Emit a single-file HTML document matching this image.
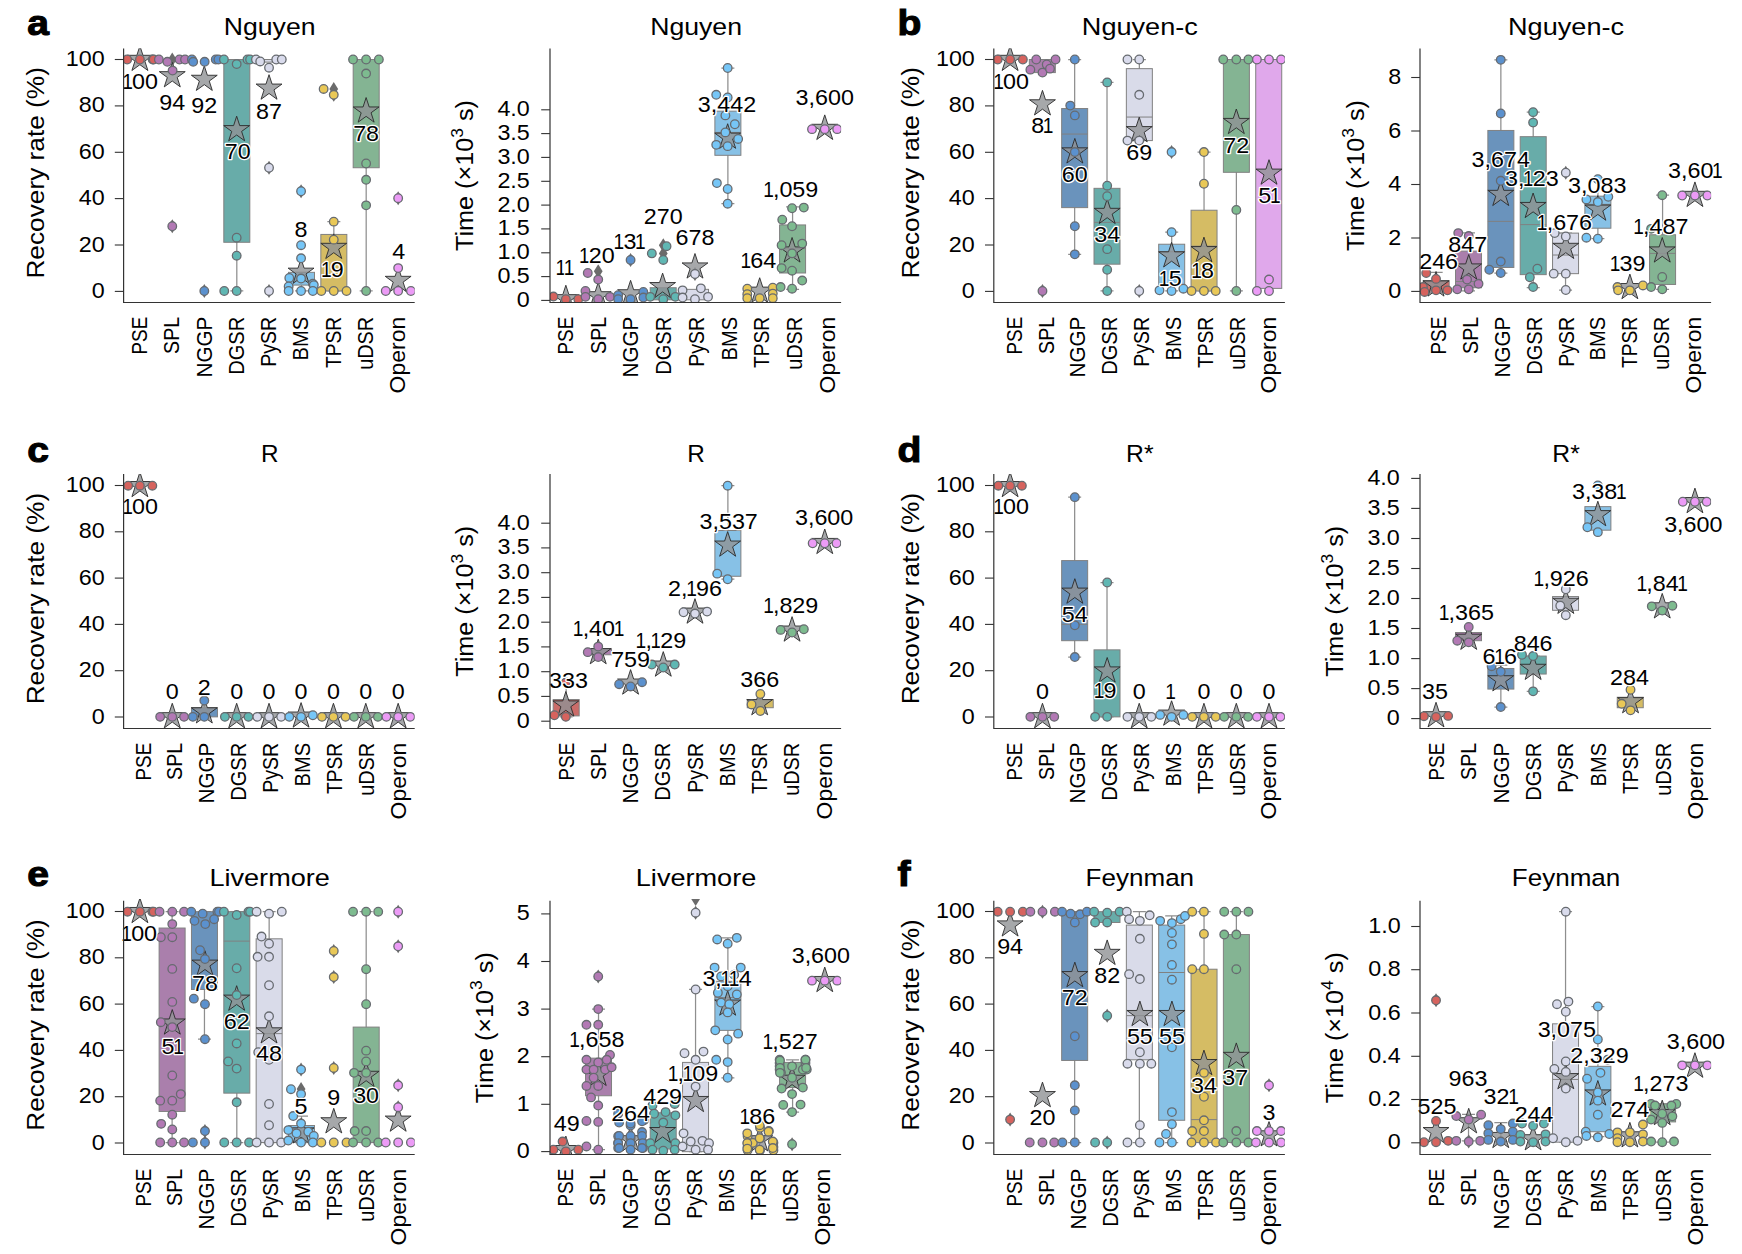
<!DOCTYPE html>
<html lang="en"><head><meta charset="utf-8"><title>Figure</title>
<style>html,body{margin:0;padding:0;background:#fff}svg{display:block}</style></head>
<body>
<svg width="1742" height="1254" viewBox="0 0 1742 1254" font-family='"Liberation Sans", Arial, sans-serif' fill="#000">
<g id="p_a">
<clipPath id="cl_a"><rect x="123.60" y="48.20" width="291.10" height="254.30"/></clipPath>
<g clip-path="url(#cl_a)">
<path d="M139.91,45.91L142.96,55.30L152.85,55.30L144.85,61.11L147.90,70.51L139.91,64.70L131.92,70.51L134.97,61.11L126.98,55.30L136.86,55.30Z" fill="#909295" fill-opacity="0.8" stroke="#2a2a2a" stroke-width="0.9" stroke-linejoin="miter"/>
<circle cx="127.16" cy="59.51" r="4.3" fill="#D6635E" stroke="#676b70" stroke-width="1.3"/>
<circle cx="152.66" cy="59.51" r="4.3" fill="#D6635E" stroke="#676b70" stroke-width="1.3"/>
<circle cx="153.64" cy="59.51" r="4.3" fill="#D6635E" stroke="#676b70" stroke-width="1.3"/>
<circle cx="139.91" cy="59.51" r="4.3" fill="#D6635E" stroke="#676b70" stroke-width="1.3"/>
<path d="M172.27,219.25l4.4,7l-4.4,7l-4.4,-7z" fill="#6b6b6b"/>
<path d="M172.27,52.51l4.4,7l-4.4,7l-4.4,-7z" fill="#6b6b6b"/>
<path d="M172.27,62.25L175.33,71.65L185.21,71.65L177.21,77.46L180.27,86.86L172.27,81.05L164.28,86.86L167.33,77.46L159.34,71.65L169.22,71.65Z" fill="#909295" fill-opacity="0.8" stroke="#2a2a2a" stroke-width="0.9" stroke-linejoin="miter"/>
<circle cx="158.87" cy="59.51" r="4.3" fill="#B279B4" stroke="#676b70" stroke-width="1.3"/>
<circle cx="167.37" cy="61.79" r="4.3" fill="#B279B4" stroke="#676b70" stroke-width="1.3"/>
<circle cx="172.60" cy="70.62" r="4.3" fill="#B279B4" stroke="#676b70" stroke-width="1.3"/>
<circle cx="179.47" cy="59.51" r="4.3" fill="#B279B4" stroke="#676b70" stroke-width="1.3"/>
<circle cx="185.02" cy="59.51" r="4.3" fill="#B279B4" stroke="#676b70" stroke-width="1.3"/>
<circle cx="172.27" cy="226.25" r="4.3" fill="#B279B4" stroke="#676b70" stroke-width="1.3"/>
<path d="M204.31,283.99l4.4,7l-4.4,7l-4.4,-7z" fill="#6b6b6b"/>
<path d="M204.31,65.85L207.36,75.25L217.24,75.25L209.25,81.06L212.30,90.45L204.31,84.64L196.32,90.45L199.37,81.06L191.37,75.25L201.26,75.25Z" fill="#909295" fill-opacity="0.8" stroke="#2a2a2a" stroke-width="0.9" stroke-linejoin="miter"/>
<circle cx="191.89" cy="59.51" r="4.3" fill="#5B91CE" stroke="#676b70" stroke-width="1.3"/>
<circle cx="193.19" cy="61.79" r="4.3" fill="#5B91CE" stroke="#676b70" stroke-width="1.3"/>
<circle cx="204.64" cy="61.79" r="4.3" fill="#5B91CE" stroke="#676b70" stroke-width="1.3"/>
<circle cx="215.75" cy="59.51" r="4.3" fill="#5B91CE" stroke="#676b70" stroke-width="1.3"/>
<circle cx="218.37" cy="59.51" r="4.3" fill="#5B91CE" stroke="#676b70" stroke-width="1.3"/>
<circle cx="204.31" cy="290.99" r="4.3" fill="#5B91CE" stroke="#676b70" stroke-width="1.3"/>
<path d="M236.81,59.51V290.99M230.31,59.51h13M230.31,290.99h13" stroke="#8e8e8e" stroke-width="1.25" fill="none"/>
<rect x="223.81" y="59.51" width="26.00" height="182.77" fill="#68ACA9" stroke="#808080" stroke-width="1"/>
<path d="M236.67,116.20L239.73,125.60L249.61,125.60L241.61,131.41L244.67,140.80L236.67,135.00L228.68,140.80L231.73,131.41L223.74,125.60L233.62,125.60Z" fill="#909295" fill-opacity="0.8" stroke="#2a2a2a" stroke-width="0.9" stroke-linejoin="miter"/>
<circle cx="223.92" cy="59.51" r="4.3" fill="#60B7B3" stroke="#676b70" stroke-width="1.3"/>
<circle cx="236.67" cy="64.08" r="4.3" fill="#60B7B3" stroke="#676b70" stroke-width="1.3"/>
<circle cx="247.46" cy="59.51" r="4.3" fill="#60B7B3" stroke="#676b70" stroke-width="1.3"/>
<circle cx="250.07" cy="59.51" r="4.3" fill="#60B7B3" stroke="#676b70" stroke-width="1.3"/>
<circle cx="236.67" cy="237.70" r="4.3" fill="#60B7B3" stroke="#676b70" stroke-width="1.3"/>
<circle cx="236.67" cy="255.68" r="4.3" fill="#60B7B3" stroke="#676b70" stroke-width="1.3"/>
<circle cx="224.25" cy="290.99" r="4.3" fill="#60B7B3" stroke="#676b70" stroke-width="1.3"/>
<circle cx="236.67" cy="290.99" r="4.3" fill="#60B7B3" stroke="#676b70" stroke-width="1.3"/>
<rect x="256.15" y="59.51" width="26.00" height="2.62" fill="#D9DBE9" stroke="#808080" stroke-width="1"/>
<path d="M269.03,160.73l4.4,7l-4.4,7l-4.4,-7z" fill="#6b6b6b"/>
<path d="M269.03,283.99l4.4,7l-4.4,7l-4.4,-7z" fill="#6b6b6b"/>
<path d="M269.03,74.68L272.09,84.07L281.97,84.07L273.97,89.88L277.03,99.28L269.03,93.47L261.04,99.28L264.09,89.88L256.10,84.07L265.98,84.07Z" fill="#909295" fill-opacity="0.8" stroke="#2a2a2a" stroke-width="0.9" stroke-linejoin="miter"/>
<circle cx="255.96" cy="59.51" r="4.3" fill="#D9DBEC" stroke="#676b70" stroke-width="1.3"/>
<circle cx="260.21" cy="61.47" r="4.3" fill="#D9DBEC" stroke="#676b70" stroke-width="1.3"/>
<circle cx="269.03" cy="67.68" r="4.3" fill="#D9DBEC" stroke="#676b70" stroke-width="1.3"/>
<circle cx="276.23" cy="59.51" r="4.3" fill="#D9DBEC" stroke="#676b70" stroke-width="1.3"/>
<circle cx="281.78" cy="59.51" r="4.3" fill="#D9DBEC" stroke="#676b70" stroke-width="1.3"/>
<circle cx="269.03" cy="167.73" r="4.3" fill="#D9DBEC" stroke="#676b70" stroke-width="1.3"/>
<circle cx="269.03" cy="290.99" r="4.3" fill="#D9DBEC" stroke="#676b70" stroke-width="1.3"/>
<path d="M301.49,272.35V290.99M294.99,272.35h13M294.99,290.99h13" stroke="#8e8e8e" stroke-width="1.25" fill="none"/>
<rect x="288.49" y="272.35" width="26.00" height="12.75" fill="#87C1E6" stroke="#808080" stroke-width="1"/>
<path d="M301.07,184.27l4.4,7l-4.4,7l-4.4,-7z" fill="#6b6b6b"/>
<path d="M301.07,258.75L304.12,268.15L314.00,268.15L306.01,273.96L309.06,283.36L301.07,277.55L293.08,283.36L296.13,273.96L288.14,268.15L298.02,268.15Z" fill="#909295" fill-opacity="0.8" stroke="#2a2a2a" stroke-width="0.9" stroke-linejoin="miter"/>
<circle cx="301.07" cy="191.27" r="4.3" fill="#76C6F7" stroke="#676b70" stroke-width="1.3"/>
<circle cx="301.07" cy="245.22" r="4.3" fill="#76C6F7" stroke="#676b70" stroke-width="1.3"/>
<circle cx="301.07" cy="258.29" r="4.3" fill="#76C6F7" stroke="#676b70" stroke-width="1.3"/>
<circle cx="289.30" cy="277.91" r="4.3" fill="#76C6F7" stroke="#676b70" stroke-width="1.3"/>
<circle cx="301.07" cy="278.56" r="4.3" fill="#76C6F7" stroke="#676b70" stroke-width="1.3"/>
<circle cx="312.84" cy="283.80" r="4.3" fill="#76C6F7" stroke="#676b70" stroke-width="1.3"/>
<circle cx="288.65" cy="286.41" r="4.3" fill="#76C6F7" stroke="#676b70" stroke-width="1.3"/>
<circle cx="313.82" cy="285.10" r="4.3" fill="#76C6F7" stroke="#676b70" stroke-width="1.3"/>
<circle cx="288.65" cy="290.99" r="4.3" fill="#76C6F7" stroke="#676b70" stroke-width="1.3"/>
<circle cx="301.07" cy="290.99" r="4.3" fill="#76C6F7" stroke="#676b70" stroke-width="1.3"/>
<circle cx="312.84" cy="290.99" r="4.3" fill="#76C6F7" stroke="#676b70" stroke-width="1.3"/>
<path d="M333.84,221.67V290.99M327.34,221.67h13M327.34,290.99h13" stroke="#8e8e8e" stroke-width="1.25" fill="none"/>
<rect x="320.84" y="234.43" width="26.00" height="56.56" fill="#D5BC64" stroke="#808080" stroke-width="1"/>
<path d="M333.76,81.93l4.4,7l-4.4,7l-4.4,-7z" fill="#6b6b6b"/>
<path d="M333.76,87.82l4.4,7l-4.4,7l-4.4,-7z" fill="#6b6b6b"/>
<path d="M333.76,233.90L336.81,243.30L346.69,243.30L338.70,249.11L341.75,258.51L333.76,252.70L325.77,258.51L328.82,249.11L320.82,243.30L330.71,243.30Z" fill="#909295" fill-opacity="0.8" stroke="#2a2a2a" stroke-width="0.9" stroke-linejoin="miter"/>
<circle cx="323.63" cy="88.93" r="4.3" fill="#E9C857" stroke="#676b70" stroke-width="1.3"/>
<circle cx="333.76" cy="94.82" r="4.3" fill="#E9C857" stroke="#676b70" stroke-width="1.3"/>
<circle cx="333.76" cy="221.67" r="4.3" fill="#E9C857" stroke="#676b70" stroke-width="1.3"/>
<circle cx="333.76" cy="239.66" r="4.3" fill="#E9C857" stroke="#676b70" stroke-width="1.3"/>
<circle cx="321.34" cy="290.99" r="4.3" fill="#E9C857" stroke="#676b70" stroke-width="1.3"/>
<circle cx="333.76" cy="290.99" r="4.3" fill="#E9C857" stroke="#676b70" stroke-width="1.3"/>
<circle cx="346.51" cy="290.99" r="4.3" fill="#E9C857" stroke="#676b70" stroke-width="1.3"/>
<path d="M366.18,59.51V290.99M359.68,59.51h13M359.68,290.99h13" stroke="#8e8e8e" stroke-width="1.25" fill="none"/>
<rect x="353.18" y="59.51" width="26.00" height="108.22" fill="#84B493" stroke="#808080" stroke-width="1"/>
<path d="M366.12,97.56L369.18,106.96L379.06,106.96L371.06,112.77L374.12,122.17L366.12,116.36L358.13,122.17L361.18,112.77L353.19,106.96L363.07,106.96Z" fill="#909295" fill-opacity="0.8" stroke="#2a2a2a" stroke-width="0.9" stroke-linejoin="miter"/>
<circle cx="353.05" cy="59.51" r="4.3" fill="#7DBB8F" stroke="#676b70" stroke-width="1.3"/>
<circle cx="366.12" cy="59.51" r="4.3" fill="#7DBB8F" stroke="#676b70" stroke-width="1.3"/>
<circle cx="378.87" cy="59.51" r="4.3" fill="#7DBB8F" stroke="#676b70" stroke-width="1.3"/>
<circle cx="366.12" cy="73.56" r="4.3" fill="#7DBB8F" stroke="#676b70" stroke-width="1.3"/>
<circle cx="366.12" cy="163.48" r="4.3" fill="#7DBB8F" stroke="#676b70" stroke-width="1.3"/>
<circle cx="366.12" cy="179.82" r="4.3" fill="#7DBB8F" stroke="#676b70" stroke-width="1.3"/>
<circle cx="366.12" cy="205.33" r="4.3" fill="#7DBB8F" stroke="#676b70" stroke-width="1.3"/>
<circle cx="366.12" cy="290.99" r="4.3" fill="#7DBB8F" stroke="#676b70" stroke-width="1.3"/>
<path d="M398.16,191.13l4.4,7l-4.4,7l-4.4,-7z" fill="#6b6b6b"/>
<path d="M398.16,266.93L401.21,276.32L411.09,276.32L403.10,282.13L406.15,291.53L398.16,285.72L390.16,291.53L393.22,282.13L385.22,276.32L395.10,276.32Z" fill="#909295" fill-opacity="0.8" stroke="#2a2a2a" stroke-width="0.9" stroke-linejoin="miter"/>
<circle cx="398.16" cy="198.13" r="4.3" fill="#EC9BF6" stroke="#676b70" stroke-width="1.3"/>
<circle cx="398.16" cy="268.10" r="4.3" fill="#EC9BF6" stroke="#676b70" stroke-width="1.3"/>
<circle cx="385.74" cy="290.99" r="4.3" fill="#EC9BF6" stroke="#676b70" stroke-width="1.3"/>
<circle cx="398.16" cy="290.99" r="4.3" fill="#EC9BF6" stroke="#676b70" stroke-width="1.3"/>
<circle cx="410.91" cy="290.99" r="4.3" fill="#EC9BF6" stroke="#676b70" stroke-width="1.3"/>
</g>
<text transform="translate(141.55,88.54) scale(1.100,1)" font-size="21.20" text-anchor="middle" stroke="#fff" stroke-width="2.6" stroke-linejoin="round" paint-order="stroke" ><tspan dx="-1.25" letter-spacing="-0.95" textLength="8.9" lengthAdjust="spacingAndGlyphs">1</tspan>00</text>
<text transform="translate(172.27,109.79) scale(1.100,1)" font-size="21.20" text-anchor="middle" stroke="#fff" stroke-width="2.6" stroke-linejoin="round" paint-order="stroke" >94</text>
<text transform="translate(204.31,113.06) scale(1.100,1)" font-size="21.20" text-anchor="middle" stroke="#fff" stroke-width="2.6" stroke-linejoin="round" paint-order="stroke" >92</text>
<text transform="translate(237.65,159.49) scale(1.100,1)" font-size="21.20" text-anchor="middle" stroke="#fff" stroke-width="2.6" stroke-linejoin="round" paint-order="stroke" >70</text>
<text transform="translate(269.03,118.62) scale(1.100,1)" font-size="21.20" text-anchor="middle" stroke="#fff" stroke-width="2.6" stroke-linejoin="round" paint-order="stroke" >87</text>
<text transform="translate(301.07,236.65) scale(1.100,1)" font-size="21.20" text-anchor="middle" stroke="#fff" stroke-width="2.6" stroke-linejoin="round" paint-order="stroke" >8</text>
<text transform="translate(333.76,277.19) scale(1.100,1)" font-size="21.20" text-anchor="middle" stroke="#fff" stroke-width="2.6" stroke-linejoin="round" paint-order="stroke" ><tspan dx="-1.25" letter-spacing="-0.95" textLength="8.9" lengthAdjust="spacingAndGlyphs">1</tspan>9</text>
<text transform="translate(366.12,140.85) scale(1.100,1)" font-size="21.20" text-anchor="middle" stroke="#fff" stroke-width="2.6" stroke-linejoin="round" paint-order="stroke" >78</text>
<text transform="translate(398.81,258.55) scale(1.100,1)" font-size="21.20" text-anchor="middle" stroke="#fff" stroke-width="2.6" stroke-linejoin="round" paint-order="stroke" >4</text>
<path d="M123.60,48.60V302.50H414.70" stroke="#333" stroke-width="1.2" fill="none"/>
<path d="M114.80,59.50h8.8" stroke="#333" stroke-width="1.1"/>
<text transform="translate(104.60,66.00) scale(1.100,1)" font-size="21.20" text-anchor="end" >100</text>
<path d="M114.80,105.90h8.8" stroke="#333" stroke-width="1.1"/>
<text transform="translate(104.60,112.40) scale(1.100,1)" font-size="21.20" text-anchor="end" >80</text>
<path d="M114.80,152.30h8.8" stroke="#333" stroke-width="1.1"/>
<text transform="translate(104.60,158.80) scale(1.100,1)" font-size="21.20" text-anchor="end" >60</text>
<path d="M114.80,198.60h8.8" stroke="#333" stroke-width="1.1"/>
<text transform="translate(104.60,205.10) scale(1.100,1)" font-size="21.20" text-anchor="end" >40</text>
<path d="M114.80,245.00h8.8" stroke="#333" stroke-width="1.1"/>
<text transform="translate(104.60,251.50) scale(1.100,1)" font-size="21.20" text-anchor="end" >20</text>
<path d="M114.80,291.40h8.8" stroke="#333" stroke-width="1.1"/>
<text transform="translate(104.60,297.90) scale(1.100,1)" font-size="21.20" text-anchor="end" >0</text>
<text transform="translate(147.00,316.80) rotate(-90)" font-size="21.30" text-anchor="end" textLength="37.7" lengthAdjust="spacingAndGlyphs" >PSE</text>
<text transform="translate(179.29,316.80) rotate(-90)" font-size="21.30" text-anchor="end" textLength="37.1" lengthAdjust="spacingAndGlyphs" >SPL</text>
<text transform="translate(211.57,316.80) rotate(-90)" font-size="21.30" text-anchor="end" textLength="60.7" lengthAdjust="spacingAndGlyphs" >NGGP</text>
<text transform="translate(243.86,316.80) rotate(-90)" font-size="21.30" text-anchor="end" textLength="58.0" lengthAdjust="spacingAndGlyphs" >DGSR</text>
<text transform="translate(276.15,316.80) rotate(-90)" font-size="21.30" text-anchor="end" textLength="49.9" lengthAdjust="spacingAndGlyphs" >PySR</text>
<text transform="translate(308.44,316.80) rotate(-90)" font-size="21.30" text-anchor="end" textLength="43.6" lengthAdjust="spacingAndGlyphs" >BMS</text>
<text transform="translate(340.73,316.80) rotate(-90)" font-size="21.30" text-anchor="end" textLength="51.1" lengthAdjust="spacingAndGlyphs" >TPSR</text>
<text transform="translate(373.01,316.80) rotate(-90)" font-size="21.30" text-anchor="end" textLength="53.0" lengthAdjust="spacingAndGlyphs" >uDSR</text>
<text transform="translate(405.30,316.80) rotate(-90)" font-size="21.30" text-anchor="end" textLength="76.7" lengthAdjust="spacingAndGlyphs" >Operon</text>
<text transform="translate(269.65,34.70)" font-size="24.30" text-anchor="middle" textLength="91.8" lengthAdjust="spacingAndGlyphs" >Nguyen</text>
<text transform="translate(44.10,172.85) rotate(-90)" font-size="24.60" text-anchor="middle" textLength="211.5" lengthAdjust="spacingAndGlyphs" >Recovery rate (%)</text>
<text transform="translate(27.20,35.00) scale(1.100,1)" font-size="35.50" text-anchor="start" font-weight="bold" stroke="#000" stroke-width="1.1">a</text>
</g>
<g id="p_a2">
<clipPath id="cl_a2"><rect x="550.00" y="48.20" width="291.10" height="254.30"/></clipPath>
<g clip-path="url(#cl_a2)">
<path d="M565.85,285.24L568.91,294.63L578.79,294.63L570.79,300.44L573.85,309.84L565.85,304.03L557.86,309.84L560.91,300.44L552.92,294.63L562.80,294.63Z" fill="#909295" fill-opacity="0.8" stroke="#2a2a2a" stroke-width="0.9" stroke-linejoin="miter"/>
<circle cx="553.43" cy="296.55" r="4.3" fill="#D6635E" stroke="#676b70" stroke-width="1.3"/>
<circle cx="565.85" cy="299.16" r="4.3" fill="#D6635E" stroke="#676b70" stroke-width="1.3"/>
<circle cx="578.28" cy="299.16" r="4.3" fill="#D6635E" stroke="#676b70" stroke-width="1.3"/>
<path d="M598.22,264.37l4.4,7l-4.4,7l-4.4,-7z" fill="#6b6b6b"/>
<path d="M598.22,282.29L601.27,291.69L611.15,291.69L603.16,297.50L606.21,306.90L598.22,301.09L590.22,306.90L593.28,297.50L585.28,291.69L595.16,291.69Z" fill="#909295" fill-opacity="0.8" stroke="#2a2a2a" stroke-width="0.9" stroke-linejoin="miter"/>
<circle cx="587.76" cy="273.01" r="4.3" fill="#B279B4" stroke="#676b70" stroke-width="1.3"/>
<circle cx="598.22" cy="279.55" r="4.3" fill="#B279B4" stroke="#676b70" stroke-width="1.3"/>
<circle cx="585.47" cy="290.99" r="4.3" fill="#B279B4" stroke="#676b70" stroke-width="1.3"/>
<circle cx="598.22" cy="299.16" r="4.3" fill="#B279B4" stroke="#676b70" stroke-width="1.3"/>
<circle cx="609.99" cy="296.87" r="4.3" fill="#B279B4" stroke="#676b70" stroke-width="1.3"/>
<circle cx="585.47" cy="296.87" r="4.3" fill="#B279B4" stroke="#676b70" stroke-width="1.3"/>
<path d="M630.58,252.93l4.4,7l-4.4,7l-4.4,-7z" fill="#6b6b6b"/>
<path d="M630.58,280.33L633.63,289.73L643.51,289.73L635.52,295.54L638.57,304.93L630.58,299.13L622.59,304.93L625.64,295.54L617.65,289.73L627.53,289.73Z" fill="#909295" fill-opacity="0.8" stroke="#2a2a2a" stroke-width="0.9" stroke-linejoin="miter"/>
<circle cx="630.58" cy="259.93" r="4.3" fill="#5B91CE" stroke="#676b70" stroke-width="1.3"/>
<circle cx="618.16" cy="295.24" r="4.3" fill="#5B91CE" stroke="#676b70" stroke-width="1.3"/>
<circle cx="630.58" cy="299.16" r="4.3" fill="#5B91CE" stroke="#676b70" stroke-width="1.3"/>
<circle cx="643.33" cy="291.97" r="4.3" fill="#5B91CE" stroke="#676b70" stroke-width="1.3"/>
<circle cx="618.16" cy="299.16" r="4.3" fill="#5B91CE" stroke="#676b70" stroke-width="1.3"/>
<circle cx="643.33" cy="297.53" r="4.3" fill="#5B91CE" stroke="#676b70" stroke-width="1.3"/>
<rect x="650.21" y="287.72" width="26.00" height="12.10" fill="#68ACA9" stroke="#808080" stroke-width="1"/>
<path d="M663.27,238.22l4.4,7l-4.4,7l-4.4,-7z" fill="#6b6b6b"/>
<path d="M663.27,246.39l4.4,7l-4.4,7l-4.4,-7z" fill="#6b6b6b"/>
<path d="M662.62,273.14L665.67,282.54L675.55,282.54L667.56,288.34L670.61,297.74L662.62,291.93L654.62,297.74L657.67,288.34L649.68,282.54L659.56,282.54Z" fill="#909295" fill-opacity="0.8" stroke="#2a2a2a" stroke-width="0.9" stroke-linejoin="miter"/>
<circle cx="651.83" cy="253.39" r="4.3" fill="#60B7B3" stroke="#676b70" stroke-width="1.3"/>
<circle cx="666.54" cy="246.20" r="4.3" fill="#60B7B3" stroke="#676b70" stroke-width="1.3"/>
<circle cx="663.27" cy="259.93" r="4.3" fill="#60B7B3" stroke="#676b70" stroke-width="1.3"/>
<circle cx="650.19" cy="296.87" r="4.3" fill="#60B7B3" stroke="#676b70" stroke-width="1.3"/>
<circle cx="663.27" cy="299.16" r="4.3" fill="#60B7B3" stroke="#676b70" stroke-width="1.3"/>
<circle cx="675.36" cy="296.87" r="4.3" fill="#60B7B3" stroke="#676b70" stroke-width="1.3"/>
<rect x="682.55" y="289.35" width="26.00" height="10.46" fill="#D9DBE9" stroke="#808080" stroke-width="1"/>
<path d="M694.98,266.99l4.4,7l-4.4,7l-4.4,-7z" fill="#6b6b6b"/>
<path d="M694.98,253.52L698.03,262.92L707.91,262.92L699.92,268.73L702.97,278.12L694.98,272.32L686.98,278.12L690.04,268.73L682.04,262.92L691.92,262.92Z" fill="#909295" fill-opacity="0.8" stroke="#2a2a2a" stroke-width="0.9" stroke-linejoin="miter"/>
<circle cx="682.56" cy="290.33" r="4.3" fill="#D9DBEC" stroke="#676b70" stroke-width="1.3"/>
<circle cx="700.86" cy="288.37" r="4.3" fill="#D9DBEC" stroke="#676b70" stroke-width="1.3"/>
<circle cx="694.98" cy="273.99" r="4.3" fill="#D9DBEC" stroke="#676b70" stroke-width="1.3"/>
<circle cx="682.56" cy="297.53" r="4.3" fill="#D9DBEC" stroke="#676b70" stroke-width="1.3"/>
<circle cx="694.98" cy="299.16" r="4.3" fill="#D9DBEC" stroke="#676b70" stroke-width="1.3"/>
<circle cx="708.05" cy="296.87" r="4.3" fill="#D9DBEC" stroke="#676b70" stroke-width="1.3"/>
<path d="M727.89,68.01V203.69M721.39,68.01h13M721.39,203.69h13" stroke="#8e8e8e" stroke-width="1.25" fill="none"/>
<rect x="714.89" y="111.16" width="26.00" height="44.14" fill="#87C1E6" stroke="#808080" stroke-width="1"/>
<path d="M714.89,132.42h26" stroke="#808080" stroke-width="1"/>
<path d="M727.67,123.72L730.72,133.12L740.60,133.12L732.61,138.93L735.66,148.32L727.67,142.52L719.67,148.32L722.73,138.93L714.73,133.12L724.61,133.12Z" fill="#909295" fill-opacity="0.8" stroke="#2a2a2a" stroke-width="0.9" stroke-linejoin="miter"/>
<circle cx="727.67" cy="68.01" r="4.3" fill="#76C6F7" stroke="#676b70" stroke-width="1.3"/>
<circle cx="716.23" cy="94.82" r="4.3" fill="#76C6F7" stroke="#676b70" stroke-width="1.3"/>
<circle cx="727.67" cy="97.43" r="4.3" fill="#76C6F7" stroke="#676b70" stroke-width="1.3"/>
<circle cx="725.38" cy="115.41" r="4.3" fill="#76C6F7" stroke="#676b70" stroke-width="1.3"/>
<circle cx="734.86" cy="124.24" r="4.3" fill="#76C6F7" stroke="#676b70" stroke-width="1.3"/>
<circle cx="725.38" cy="132.42" r="4.3" fill="#76C6F7" stroke="#676b70" stroke-width="1.3"/>
<circle cx="716.23" cy="144.84" r="4.3" fill="#76C6F7" stroke="#676b70" stroke-width="1.3"/>
<circle cx="727.67" cy="146.15" r="4.3" fill="#76C6F7" stroke="#676b70" stroke-width="1.3"/>
<circle cx="738.13" cy="138.96" r="4.3" fill="#76C6F7" stroke="#676b70" stroke-width="1.3"/>
<circle cx="716.88" cy="183.09" r="4.3" fill="#76C6F7" stroke="#676b70" stroke-width="1.3"/>
<circle cx="727.67" cy="188.98" r="4.3" fill="#76C6F7" stroke="#676b70" stroke-width="1.3"/>
<circle cx="727.67" cy="203.69" r="4.3" fill="#76C6F7" stroke="#676b70" stroke-width="1.3"/>
<path d="M759.70,277.72L762.76,287.11L772.64,287.11L764.64,292.92L767.70,302.32L759.70,296.51L751.71,302.32L754.76,292.92L746.77,287.11L756.65,287.11Z" fill="#909295" fill-opacity="0.8" stroke="#2a2a2a" stroke-width="0.9" stroke-linejoin="miter"/>
<circle cx="747.28" cy="288.70" r="4.3" fill="#E9C857" stroke="#676b70" stroke-width="1.3"/>
<circle cx="772.78" cy="287.72" r="4.3" fill="#E9C857" stroke="#676b70" stroke-width="1.3"/>
<circle cx="747.28" cy="294.26" r="4.3" fill="#E9C857" stroke="#676b70" stroke-width="1.3"/>
<circle cx="772.78" cy="293.60" r="4.3" fill="#E9C857" stroke="#676b70" stroke-width="1.3"/>
<circle cx="747.28" cy="298.18" r="4.3" fill="#E9C857" stroke="#676b70" stroke-width="1.3"/>
<circle cx="759.70" cy="298.18" r="4.3" fill="#E9C857" stroke="#676b70" stroke-width="1.3"/>
<circle cx="772.78" cy="298.18" r="4.3" fill="#E9C857" stroke="#676b70" stroke-width="1.3"/>
<path d="M792.58,206.96V289.35M786.08,206.96h13M786.08,289.35h13" stroke="#8e8e8e" stroke-width="1.25" fill="none"/>
<rect x="779.58" y="224.94" width="26.00" height="48.06" fill="#84B493" stroke="#808080" stroke-width="1"/>
<path d="M779.58,248.48h26" stroke="#808080" stroke-width="1"/>
<path d="M792.07,237.50L795.12,246.90L805.00,246.90L797.01,252.71L800.06,262.10L792.07,256.30L784.07,262.10L787.12,252.71L779.13,246.90L789.01,246.90Z" fill="#909295" fill-opacity="0.8" stroke="#2a2a2a" stroke-width="0.9" stroke-linejoin="miter"/>
<circle cx="792.07" cy="208.27" r="4.3" fill="#7DBB8F" stroke="#676b70" stroke-width="1.3"/>
<circle cx="803.83" cy="207.62" r="4.3" fill="#7DBB8F" stroke="#676b70" stroke-width="1.3"/>
<circle cx="782.26" cy="219.71" r="4.3" fill="#7DBB8F" stroke="#676b70" stroke-width="1.3"/>
<circle cx="792.07" cy="226.25" r="4.3" fill="#7DBB8F" stroke="#676b70" stroke-width="1.3"/>
<circle cx="781.60" cy="245.22" r="4.3" fill="#7DBB8F" stroke="#676b70" stroke-width="1.3"/>
<circle cx="802.20" cy="243.58" r="4.3" fill="#7DBB8F" stroke="#676b70" stroke-width="1.3"/>
<circle cx="792.07" cy="253.39" r="4.3" fill="#7DBB8F" stroke="#676b70" stroke-width="1.3"/>
<circle cx="792.07" cy="270.72" r="4.3" fill="#7DBB8F" stroke="#676b70" stroke-width="1.3"/>
<circle cx="781.60" cy="268.10" r="4.3" fill="#7DBB8F" stroke="#676b70" stroke-width="1.3"/>
<circle cx="802.20" cy="280.53" r="4.3" fill="#7DBB8F" stroke="#676b70" stroke-width="1.3"/>
<circle cx="780.62" cy="287.07" r="4.3" fill="#7DBB8F" stroke="#676b70" stroke-width="1.3"/>
<circle cx="792.07" cy="288.70" r="4.3" fill="#7DBB8F" stroke="#676b70" stroke-width="1.3"/>
<path d="M824.75,114.89L827.81,124.29L837.69,124.29L829.70,130.10L832.75,139.50L824.75,133.69L816.76,139.50L819.81,130.10L811.82,124.29L821.70,124.29Z" fill="#909295" fill-opacity="0.8" stroke="#2a2a2a" stroke-width="0.9" stroke-linejoin="miter"/>
<circle cx="812.01" cy="129.15" r="4.3" fill="#EC9BF6" stroke="#676b70" stroke-width="1.3"/>
<circle cx="824.75" cy="129.15" r="4.3" fill="#EC9BF6" stroke="#676b70" stroke-width="1.3"/>
<circle cx="837.18" cy="129.15" r="4.3" fill="#EC9BF6" stroke="#676b70" stroke-width="1.3"/>
</g>
<text transform="translate(565.85,275.23) scale(1.100,1)" font-size="21.20" text-anchor="middle" stroke="#fff" stroke-width="2.6" stroke-linejoin="round" paint-order="stroke" ><tspan dx="-1.25" letter-spacing="-0.95" textLength="8.9" lengthAdjust="spacingAndGlyphs">1</tspan><tspan dx="-1.25" letter-spacing="-0.95" textLength="8.9" lengthAdjust="spacingAndGlyphs">1</tspan></text>
<text transform="translate(598.22,262.80) scale(1.100,1)" font-size="21.20" text-anchor="middle" stroke="#fff" stroke-width="2.6" stroke-linejoin="round" paint-order="stroke" ><tspan dx="-1.25" letter-spacing="-0.95" textLength="8.9" lengthAdjust="spacingAndGlyphs">1</tspan>20</text>
<text transform="translate(630.58,248.75) scale(1.100,1)" font-size="21.20" text-anchor="middle" stroke="#fff" stroke-width="2.6" stroke-linejoin="round" paint-order="stroke" ><tspan dx="-1.25" letter-spacing="-0.95" textLength="8.9" lengthAdjust="spacingAndGlyphs">1</tspan>3<tspan dx="-1.25" letter-spacing="-0.95" textLength="8.9" lengthAdjust="spacingAndGlyphs">1</tspan></text>
<text transform="translate(663.27,224.22) scale(1.100,1)" font-size="21.20" text-anchor="middle" stroke="#fff" stroke-width="2.6" stroke-linejoin="round" paint-order="stroke" >270</text>
<text transform="translate(694.98,244.50) scale(1.100,1)" font-size="21.20" text-anchor="middle" stroke="#fff" stroke-width="2.6" stroke-linejoin="round" paint-order="stroke" >678</text>
<text transform="translate(727.01,112.08) scale(1.100,1)" font-size="21.20" text-anchor="middle" stroke="#fff" stroke-width="2.6" stroke-linejoin="round" paint-order="stroke" >3,442</text>
<text transform="translate(759.70,268.36) scale(1.100,1)" font-size="21.20" text-anchor="middle" stroke="#fff" stroke-width="2.6" stroke-linejoin="round" paint-order="stroke" ><tspan dx="-1.25" letter-spacing="-0.95" textLength="8.9" lengthAdjust="spacingAndGlyphs">1</tspan>64</text>
<text transform="translate(792.07,197.09) scale(1.100,1)" font-size="21.20" text-anchor="middle" stroke="#fff" stroke-width="2.6" stroke-linejoin="round" paint-order="stroke" ><tspan dx="-1.25" letter-spacing="-0.95" textLength="8.9" lengthAdjust="spacingAndGlyphs">1</tspan>,059</text>
<text transform="translate(824.75,104.89) scale(1.100,1)" font-size="21.20" text-anchor="middle" stroke="#fff" stroke-width="2.6" stroke-linejoin="round" paint-order="stroke" >3,600</text>
<path d="M550.00,48.60V302.50H841.10" stroke="#333" stroke-width="1.2" fill="none"/>
<path d="M541.20,109.80h8.8" stroke="#333" stroke-width="1.1"/>
<text transform="translate(529.80,116.30) scale(1.100,1)" font-size="21.20" text-anchor="end" >4.0</text>
<path d="M541.20,133.60h8.8" stroke="#333" stroke-width="1.1"/>
<text transform="translate(529.80,140.10) scale(1.100,1)" font-size="21.20" text-anchor="end" >3.5</text>
<path d="M541.20,157.40h8.8" stroke="#333" stroke-width="1.1"/>
<text transform="translate(529.80,163.90) scale(1.100,1)" font-size="21.20" text-anchor="end" >3.0</text>
<path d="M541.20,181.30h8.8" stroke="#333" stroke-width="1.1"/>
<text transform="translate(529.80,187.80) scale(1.100,1)" font-size="21.20" text-anchor="end" >2.5</text>
<path d="M541.20,205.10h8.8" stroke="#333" stroke-width="1.1"/>
<text transform="translate(529.80,211.60) scale(1.100,1)" font-size="21.20" text-anchor="end" >2.0</text>
<path d="M541.20,228.90h8.8" stroke="#333" stroke-width="1.1"/>
<text transform="translate(529.80,235.40) scale(1.100,1)" font-size="21.20" text-anchor="end" >1.5</text>
<path d="M541.20,252.80h8.8" stroke="#333" stroke-width="1.1"/>
<text transform="translate(529.80,259.30) scale(1.100,1)" font-size="21.20" text-anchor="end" >1.0</text>
<path d="M541.20,276.60h8.8" stroke="#333" stroke-width="1.1"/>
<text transform="translate(529.80,283.10) scale(1.100,1)" font-size="21.20" text-anchor="end" >0.5</text>
<path d="M541.20,300.40h8.8" stroke="#333" stroke-width="1.1"/>
<text transform="translate(529.80,306.90) scale(1.100,1)" font-size="21.20" text-anchor="end" >0</text>
<text transform="translate(572.90,316.80) rotate(-90)" font-size="21.30" text-anchor="end" textLength="37.7" lengthAdjust="spacingAndGlyphs" >PSE</text>
<text transform="translate(605.66,316.80) rotate(-90)" font-size="21.30" text-anchor="end" textLength="37.1" lengthAdjust="spacingAndGlyphs" >SPL</text>
<text transform="translate(638.42,316.80) rotate(-90)" font-size="21.30" text-anchor="end" textLength="60.7" lengthAdjust="spacingAndGlyphs" >NGGP</text>
<text transform="translate(671.19,316.80) rotate(-90)" font-size="21.30" text-anchor="end" textLength="58.0" lengthAdjust="spacingAndGlyphs" >DGSR</text>
<text transform="translate(703.95,316.80) rotate(-90)" font-size="21.30" text-anchor="end" textLength="49.9" lengthAdjust="spacingAndGlyphs" >PySR</text>
<text transform="translate(736.71,316.80) rotate(-90)" font-size="21.30" text-anchor="end" textLength="43.6" lengthAdjust="spacingAndGlyphs" >BMS</text>
<text transform="translate(769.48,316.80) rotate(-90)" font-size="21.30" text-anchor="end" textLength="51.1" lengthAdjust="spacingAndGlyphs" >TPSR</text>
<text transform="translate(802.24,316.80) rotate(-90)" font-size="21.30" text-anchor="end" textLength="53.0" lengthAdjust="spacingAndGlyphs" >uDSR</text>
<text transform="translate(835.00,316.80) rotate(-90)" font-size="21.30" text-anchor="end" textLength="76.7" lengthAdjust="spacingAndGlyphs" >Operon</text>
<text transform="translate(696.05,34.70)" font-size="24.30" text-anchor="middle" textLength="91.8" lengthAdjust="spacingAndGlyphs" >Nguyen</text>
<text transform="translate(473.40,175.55) rotate(-90)" font-size="24.60" text-anchor="middle" textLength="151.0" lengthAdjust="spacingAndGlyphs" >Time (×10<tspan font-size="17" dy="-10.5">3</tspan><tspan dy="10.5"> s)</tspan></text>
</g>
<g id="p_b">
<clipPath id="cl_b"><rect x="993.80" y="48.20" width="291.10" height="254.30"/></clipPath>
<g clip-path="url(#cl_b)">
<path d="M1010.10,45.91L1013.16,55.30L1023.04,55.30L1015.04,61.11L1018.10,70.51L1010.10,64.70L1002.11,70.51L1005.16,61.11L997.17,55.30L1007.05,55.30Z" fill="#909295" fill-opacity="0.8" stroke="#2a2a2a" stroke-width="0.9" stroke-linejoin="miter"/>
<circle cx="997.68" cy="59.51" r="4.3" fill="#D6635E" stroke="#676b70" stroke-width="1.3"/>
<circle cx="1010.10" cy="59.51" r="4.3" fill="#D6635E" stroke="#676b70" stroke-width="1.3"/>
<circle cx="1022.85" cy="59.51" r="4.3" fill="#D6635E" stroke="#676b70" stroke-width="1.3"/>
<rect x="1029.32" y="59.51" width="26.00" height="13.08" fill="#AA7FAC" stroke="#808080" stroke-width="1"/>
<path d="M1042.47,283.99l4.4,7l-4.4,7l-4.4,-7z" fill="#6b6b6b"/>
<path d="M1042.47,90.37L1045.52,99.77L1055.40,99.77L1047.41,105.58L1050.46,114.97L1042.47,109.17L1034.47,114.97L1037.53,105.58L1029.53,99.77L1039.41,99.77Z" fill="#909295" fill-opacity="0.8" stroke="#2a2a2a" stroke-width="0.9" stroke-linejoin="miter"/>
<circle cx="1036.26" cy="59.51" r="4.3" fill="#B279B4" stroke="#676b70" stroke-width="1.3"/>
<circle cx="1055.54" cy="59.51" r="4.3" fill="#B279B4" stroke="#676b70" stroke-width="1.3"/>
<circle cx="1030.37" cy="69.64" r="4.3" fill="#B279B4" stroke="#676b70" stroke-width="1.3"/>
<circle cx="1046.72" cy="64.41" r="4.3" fill="#B279B4" stroke="#676b70" stroke-width="1.3"/>
<circle cx="1042.47" cy="72.58" r="4.3" fill="#B279B4" stroke="#676b70" stroke-width="1.3"/>
<circle cx="1049.99" cy="68.66" r="4.3" fill="#B279B4" stroke="#676b70" stroke-width="1.3"/>
<circle cx="1042.47" cy="290.99" r="4.3" fill="#B279B4" stroke="#676b70" stroke-width="1.3"/>
<path d="M1074.66,59.51V254.37M1068.16,59.51h13M1068.16,254.37h13" stroke="#8e8e8e" stroke-width="1.25" fill="none"/>
<rect x="1061.66" y="108.55" width="26.00" height="99.07" fill="#6A93BC" stroke="#808080" stroke-width="1"/>
<path d="M1061.66,134.05h26" stroke="#808080" stroke-width="1"/>
<path d="M1074.83,138.43L1077.88,147.83L1087.76,147.83L1079.77,153.64L1082.82,163.04L1074.83,157.23L1066.84,163.04L1069.89,153.64L1061.89,147.83L1071.78,147.83Z" fill="#909295" fill-opacity="0.8" stroke="#2a2a2a" stroke-width="0.9" stroke-linejoin="miter"/>
<circle cx="1074.83" cy="59.51" r="4.3" fill="#5B91CE" stroke="#676b70" stroke-width="1.3"/>
<circle cx="1070.25" cy="105.61" r="4.3" fill="#5B91CE" stroke="#676b70" stroke-width="1.3"/>
<circle cx="1074.83" cy="115.41" r="4.3" fill="#5B91CE" stroke="#676b70" stroke-width="1.3"/>
<circle cx="1074.83" cy="152.03" r="4.3" fill="#5B91CE" stroke="#676b70" stroke-width="1.3"/>
<circle cx="1074.83" cy="226.25" r="4.3" fill="#5B91CE" stroke="#676b70" stroke-width="1.3"/>
<circle cx="1074.83" cy="254.37" r="4.3" fill="#5B91CE" stroke="#676b70" stroke-width="1.3"/>
<path d="M1107.01,82.39V290.99M1100.51,82.39h13M1100.51,290.99h13" stroke="#8e8e8e" stroke-width="1.25" fill="none"/>
<rect x="1094.01" y="188.33" width="26.00" height="75.85" fill="#68ACA9" stroke="#808080" stroke-width="1"/>
<path d="M1094.01,222.33h26" stroke="#808080" stroke-width="1"/>
<path d="M1107.19,198.92L1110.25,208.32L1120.13,208.32L1112.13,214.13L1115.19,223.52L1107.19,217.71L1099.20,223.52L1102.25,214.13L1094.26,208.32L1104.14,208.32Z" fill="#909295" fill-opacity="0.8" stroke="#2a2a2a" stroke-width="0.9" stroke-linejoin="miter"/>
<circle cx="1107.19" cy="82.39" r="4.3" fill="#60B7B3" stroke="#676b70" stroke-width="1.3"/>
<circle cx="1107.19" cy="185.71" r="4.3" fill="#60B7B3" stroke="#676b70" stroke-width="1.3"/>
<circle cx="1107.19" cy="196.17" r="4.3" fill="#60B7B3" stroke="#676b70" stroke-width="1.3"/>
<circle cx="1107.19" cy="249.14" r="4.3" fill="#60B7B3" stroke="#676b70" stroke-width="1.3"/>
<circle cx="1107.19" cy="269.74" r="4.3" fill="#60B7B3" stroke="#676b70" stroke-width="1.3"/>
<circle cx="1107.19" cy="290.99" r="4.3" fill="#60B7B3" stroke="#676b70" stroke-width="1.3"/>
<path d="M1139.35,59.51V140.59M1132.85,59.51h13M1132.85,140.59h13" stroke="#8e8e8e" stroke-width="1.25" fill="none"/>
<rect x="1126.35" y="68.66" width="26.00" height="71.93" fill="#D9DBE9" stroke="#808080" stroke-width="1"/>
<path d="M1126.35,117.05h26" stroke="#808080" stroke-width="1"/>
<path d="M1139.23,283.99l4.4,7l-4.4,7l-4.4,-7z" fill="#6b6b6b"/>
<path d="M1139.23,117.18L1142.28,126.58L1152.16,126.58L1144.17,132.39L1147.22,141.78L1139.23,135.98L1131.23,141.78L1134.29,132.39L1126.29,126.58L1136.17,126.58Z" fill="#909295" fill-opacity="0.8" stroke="#2a2a2a" stroke-width="0.9" stroke-linejoin="miter"/>
<circle cx="1127.46" cy="59.51" r="4.3" fill="#D9DBEC" stroke="#676b70" stroke-width="1.3"/>
<circle cx="1139.23" cy="59.51" r="4.3" fill="#D9DBEC" stroke="#676b70" stroke-width="1.3"/>
<circle cx="1139.23" cy="94.82" r="4.3" fill="#D9DBEC" stroke="#676b70" stroke-width="1.3"/>
<circle cx="1127.46" cy="140.59" r="4.3" fill="#D9DBEC" stroke="#676b70" stroke-width="1.3"/>
<circle cx="1139.23" cy="140.59" r="4.3" fill="#D9DBEC" stroke="#676b70" stroke-width="1.3"/>
<circle cx="1139.23" cy="290.99" r="4.3" fill="#D9DBEC" stroke="#676b70" stroke-width="1.3"/>
<path d="M1171.69,232.14V290.99M1165.19,232.14h13M1165.19,290.99h13" stroke="#8e8e8e" stroke-width="1.25" fill="none"/>
<rect x="1158.69" y="244.23" width="26.00" height="40.22" fill="#87C1E6" stroke="#808080" stroke-width="1"/>
<path d="M1158.69,251.75h26" stroke="#808080" stroke-width="1"/>
<path d="M1171.59,145.03l4.4,7l-4.4,7l-4.4,-7z" fill="#6b6b6b"/>
<path d="M1171.59,242.40L1174.64,251.80L1184.52,251.80L1176.53,257.61L1179.58,267.01L1171.59,261.20L1163.60,267.01L1166.65,257.61L1158.66,251.80L1168.54,251.80Z" fill="#909295" fill-opacity="0.8" stroke="#2a2a2a" stroke-width="0.9" stroke-linejoin="miter"/>
<circle cx="1171.59" cy="152.03" r="4.3" fill="#76C6F7" stroke="#676b70" stroke-width="1.3"/>
<circle cx="1171.59" cy="232.14" r="4.3" fill="#76C6F7" stroke="#676b70" stroke-width="1.3"/>
<circle cx="1159.49" cy="290.33" r="4.3" fill="#76C6F7" stroke="#676b70" stroke-width="1.3"/>
<circle cx="1171.59" cy="290.99" r="4.3" fill="#76C6F7" stroke="#676b70" stroke-width="1.3"/>
<circle cx="1183.36" cy="288.70" r="4.3" fill="#76C6F7" stroke="#676b70" stroke-width="1.3"/>
<path d="M1204.04,152.03V290.99M1197.54,152.03h13M1197.54,290.99h13" stroke="#8e8e8e" stroke-width="1.25" fill="none"/>
<rect x="1191.04" y="210.23" width="26.00" height="80.76" fill="#D5BC64" stroke="#808080" stroke-width="1"/>
<path d="M1191.04,246.20h26" stroke="#808080" stroke-width="1"/>
<path d="M1203.95,237.17L1207.01,246.57L1216.89,246.57L1208.89,252.38L1211.95,261.78L1203.95,255.97L1195.96,261.78L1199.01,252.38L1191.02,246.57L1200.90,246.57Z" fill="#909295" fill-opacity="0.8" stroke="#2a2a2a" stroke-width="0.9" stroke-linejoin="miter"/>
<circle cx="1203.95" cy="152.03" r="4.3" fill="#E9C857" stroke="#676b70" stroke-width="1.3"/>
<circle cx="1203.95" cy="183.75" r="4.3" fill="#E9C857" stroke="#676b70" stroke-width="1.3"/>
<circle cx="1191.53" cy="290.99" r="4.3" fill="#E9C857" stroke="#676b70" stroke-width="1.3"/>
<circle cx="1203.95" cy="290.99" r="4.3" fill="#E9C857" stroke="#676b70" stroke-width="1.3"/>
<circle cx="1215.72" cy="290.99" r="4.3" fill="#E9C857" stroke="#676b70" stroke-width="1.3"/>
<path d="M1236.38,59.51V290.99M1229.88,59.51h13M1229.88,290.99h13" stroke="#8e8e8e" stroke-width="1.25" fill="none"/>
<rect x="1223.38" y="59.51" width="26.00" height="112.80" fill="#84B493" stroke="#808080" stroke-width="1"/>
<path d="M1236.32,109.01L1239.37,118.41L1249.25,118.41L1241.26,124.21L1244.31,133.61L1236.32,127.80L1228.32,133.61L1231.37,124.21L1223.38,118.41L1233.26,118.41Z" fill="#909295" fill-opacity="0.8" stroke="#2a2a2a" stroke-width="0.9" stroke-linejoin="miter"/>
<circle cx="1223.24" cy="59.51" r="4.3" fill="#7DBB8F" stroke="#676b70" stroke-width="1.3"/>
<circle cx="1236.32" cy="59.51" r="4.3" fill="#7DBB8F" stroke="#676b70" stroke-width="1.3"/>
<circle cx="1248.41" cy="59.51" r="4.3" fill="#7DBB8F" stroke="#676b70" stroke-width="1.3"/>
<circle cx="1236.32" cy="209.90" r="4.3" fill="#7DBB8F" stroke="#676b70" stroke-width="1.3"/>
<circle cx="1236.32" cy="290.99" r="4.3" fill="#7DBB8F" stroke="#676b70" stroke-width="1.3"/>
<rect x="1255.73" y="59.51" width="26.00" height="228.87" fill="#E0A8EB" stroke="#808080" stroke-width="1"/>
<path d="M1269.00,159.69L1272.06,169.08L1281.94,169.08L1273.94,174.89L1277.00,184.29L1269.00,178.48L1261.01,184.29L1264.06,174.89L1256.07,169.08L1265.95,169.08Z" fill="#909295" fill-opacity="0.8" stroke="#2a2a2a" stroke-width="0.9" stroke-linejoin="miter"/>
<circle cx="1256.91" cy="59.51" r="4.3" fill="#EC9BF6" stroke="#676b70" stroke-width="1.3"/>
<circle cx="1269.00" cy="59.51" r="4.3" fill="#EC9BF6" stroke="#676b70" stroke-width="1.3"/>
<circle cx="1281.10" cy="59.51" r="4.3" fill="#EC9BF6" stroke="#676b70" stroke-width="1.3"/>
<circle cx="1269.00" cy="279.55" r="4.3" fill="#EC9BF6" stroke="#676b70" stroke-width="1.3"/>
<circle cx="1256.91" cy="290.99" r="4.3" fill="#EC9BF6" stroke="#676b70" stroke-width="1.3"/>
<circle cx="1269.00" cy="290.99" r="4.3" fill="#EC9BF6" stroke="#676b70" stroke-width="1.3"/>
</g>
<text transform="translate(1012.39,88.54) scale(1.100,1)" font-size="21.20" text-anchor="middle" stroke="#fff" stroke-width="2.6" stroke-linejoin="round" paint-order="stroke" ><tspan dx="-1.25" letter-spacing="-0.95" textLength="8.9" lengthAdjust="spacingAndGlyphs">1</tspan>00</text>
<text transform="translate(1041.81,132.68) scale(1.100,1)" font-size="21.20" text-anchor="middle" stroke="#fff" stroke-width="2.6" stroke-linejoin="round" paint-order="stroke" >8<tspan dx="-1.25" letter-spacing="-0.95" textLength="8.9" lengthAdjust="spacingAndGlyphs">1</tspan></text>
<text transform="translate(1074.83,182.37) scale(1.100,1)" font-size="21.20" text-anchor="middle" stroke="#fff" stroke-width="2.6" stroke-linejoin="round" paint-order="stroke" >60</text>
<text transform="translate(1107.19,242.21) scale(1.100,1)" font-size="21.20" text-anchor="middle" stroke="#fff" stroke-width="2.6" stroke-linejoin="round" paint-order="stroke" >34</text>
<text transform="translate(1139.23,160.47) scale(1.100,1)" font-size="21.20" text-anchor="middle" stroke="#fff" stroke-width="2.6" stroke-linejoin="round" paint-order="stroke" >69</text>
<text transform="translate(1171.59,285.69) scale(1.100,1)" font-size="21.20" text-anchor="middle" stroke="#fff" stroke-width="2.6" stroke-linejoin="round" paint-order="stroke" ><tspan dx="-1.25" letter-spacing="-0.95" textLength="8.9" lengthAdjust="spacingAndGlyphs">1</tspan>5</text>
<text transform="translate(1203.95,278.17) scale(1.100,1)" font-size="21.20" text-anchor="middle" stroke="#fff" stroke-width="2.6" stroke-linejoin="round" paint-order="stroke" ><tspan dx="-1.25" letter-spacing="-0.95" textLength="8.9" lengthAdjust="spacingAndGlyphs">1</tspan>8</text>
<text transform="translate(1236.32,152.95) scale(1.100,1)" font-size="21.20" text-anchor="middle" stroke="#fff" stroke-width="2.6" stroke-linejoin="round" paint-order="stroke" >72</text>
<text transform="translate(1269.00,202.97) scale(1.100,1)" font-size="21.20" text-anchor="middle" stroke="#fff" stroke-width="2.6" stroke-linejoin="round" paint-order="stroke" >5<tspan dx="-1.25" letter-spacing="-0.95" textLength="8.9" lengthAdjust="spacingAndGlyphs">1</tspan></text>
<path d="M993.80,48.60V302.50H1284.90" stroke="#333" stroke-width="1.2" fill="none"/>
<path d="M985.00,59.50h8.8" stroke="#333" stroke-width="1.1"/>
<text transform="translate(974.80,66.00) scale(1.100,1)" font-size="21.20" text-anchor="end" >100</text>
<path d="M985.00,105.90h8.8" stroke="#333" stroke-width="1.1"/>
<text transform="translate(974.80,112.40) scale(1.100,1)" font-size="21.20" text-anchor="end" >80</text>
<path d="M985.00,152.30h8.8" stroke="#333" stroke-width="1.1"/>
<text transform="translate(974.80,158.80) scale(1.100,1)" font-size="21.20" text-anchor="end" >60</text>
<path d="M985.00,198.60h8.8" stroke="#333" stroke-width="1.1"/>
<text transform="translate(974.80,205.10) scale(1.100,1)" font-size="21.20" text-anchor="end" >40</text>
<path d="M985.00,245.00h8.8" stroke="#333" stroke-width="1.1"/>
<text transform="translate(974.80,251.50) scale(1.100,1)" font-size="21.20" text-anchor="end" >20</text>
<path d="M985.00,291.40h8.8" stroke="#333" stroke-width="1.1"/>
<text transform="translate(974.80,297.90) scale(1.100,1)" font-size="21.20" text-anchor="end" >0</text>
<text transform="translate(1021.70,316.80) rotate(-90)" font-size="21.30" text-anchor="end" textLength="37.7" lengthAdjust="spacingAndGlyphs" >PSE</text>
<text transform="translate(1053.54,316.80) rotate(-90)" font-size="21.30" text-anchor="end" textLength="37.1" lengthAdjust="spacingAndGlyphs" >SPL</text>
<text transform="translate(1085.38,316.80) rotate(-90)" font-size="21.30" text-anchor="end" textLength="60.7" lengthAdjust="spacingAndGlyphs" >NGGP</text>
<text transform="translate(1117.21,316.80) rotate(-90)" font-size="21.30" text-anchor="end" textLength="58.0" lengthAdjust="spacingAndGlyphs" >DGSR</text>
<text transform="translate(1149.05,316.80) rotate(-90)" font-size="21.30" text-anchor="end" textLength="49.9" lengthAdjust="spacingAndGlyphs" >PySR</text>
<text transform="translate(1180.89,316.80) rotate(-90)" font-size="21.30" text-anchor="end" textLength="43.6" lengthAdjust="spacingAndGlyphs" >BMS</text>
<text transform="translate(1212.72,316.80) rotate(-90)" font-size="21.30" text-anchor="end" textLength="51.1" lengthAdjust="spacingAndGlyphs" >TPSR</text>
<text transform="translate(1244.56,316.80) rotate(-90)" font-size="21.30" text-anchor="end" textLength="53.0" lengthAdjust="spacingAndGlyphs" >uDSR</text>
<text transform="translate(1276.40,316.80) rotate(-90)" font-size="21.30" text-anchor="end" textLength="76.7" lengthAdjust="spacingAndGlyphs" >Operon</text>
<text transform="translate(1139.85,34.70)" font-size="24.30" text-anchor="middle" textLength="116.0" lengthAdjust="spacingAndGlyphs" >Nguyen-c</text>
<text transform="translate(918.80,172.85) rotate(-90)" font-size="24.60" text-anchor="middle" textLength="211.5" lengthAdjust="spacingAndGlyphs" >Recovery rate (%)</text>
<text transform="translate(897.40,35.00) scale(1.100,1)" font-size="35.50" text-anchor="start" font-weight="bold" stroke="#000" stroke-width="1.1">b</text>
</g>
<g id="p_b2">
<clipPath id="cl_b2"><rect x="1420.00" y="48.20" width="291.10" height="254.30"/></clipPath>
<g clip-path="url(#cl_b2)">
<path d="M1436.17,272.35V292.62M1429.67,272.35h13M1429.67,292.62h13" stroke="#8e8e8e" stroke-width="1.25" fill="none"/>
<rect x="1423.17" y="280.53" width="26.00" height="12.10" fill="#CB6C69" stroke="#808080" stroke-width="1"/>
<path d="M1436.03,271.50L1439.08,280.90L1448.96,280.90L1440.97,286.71L1444.02,296.11L1436.03,290.30L1428.03,296.11L1431.09,286.71L1423.09,280.90L1432.97,280.90Z" fill="#909295" fill-opacity="0.8" stroke="#2a2a2a" stroke-width="0.9" stroke-linejoin="miter"/>
<circle cx="1426.22" cy="273.01" r="4.3" fill="#D6635E" stroke="#676b70" stroke-width="1.3"/>
<circle cx="1436.03" cy="278.89" r="4.3" fill="#D6635E" stroke="#676b70" stroke-width="1.3"/>
<circle cx="1422.95" cy="287.07" r="4.3" fill="#D6635E" stroke="#676b70" stroke-width="1.3"/>
<circle cx="1436.03" cy="290.33" r="4.3" fill="#D6635E" stroke="#676b70" stroke-width="1.3"/>
<circle cx="1447.47" cy="290.33" r="4.3" fill="#D6635E" stroke="#676b70" stroke-width="1.3"/>
<circle cx="1424.59" cy="291.97" r="4.3" fill="#D6635E" stroke="#676b70" stroke-width="1.3"/>
<path d="M1468.52,232.79V290.99M1462.02,232.79h13M1462.02,290.99h13" stroke="#8e8e8e" stroke-width="1.25" fill="none"/>
<rect x="1455.52" y="251.10" width="26.00" height="36.62" fill="#AA7FAC" stroke="#808080" stroke-width="1"/>
<path d="M1455.52,281.51h26" stroke="#808080" stroke-width="1"/>
<path d="M1468.72,254.50L1471.77,263.90L1481.65,263.90L1473.66,269.71L1476.71,279.10L1468.72,273.30L1460.72,279.10L1463.78,269.71L1455.78,263.90L1465.66,263.90Z" fill="#909295" fill-opacity="0.8" stroke="#2a2a2a" stroke-width="0.9" stroke-linejoin="miter"/>
<circle cx="1458.26" cy="233.12" r="4.3" fill="#B279B4" stroke="#676b70" stroke-width="1.3"/>
<circle cx="1468.72" cy="236.06" r="4.3" fill="#B279B4" stroke="#676b70" stroke-width="1.3"/>
<circle cx="1467.08" cy="279.55" r="4.3" fill="#B279B4" stroke="#676b70" stroke-width="1.3"/>
<circle cx="1478.52" cy="283.80" r="4.3" fill="#B279B4" stroke="#676b70" stroke-width="1.3"/>
<circle cx="1457.27" cy="289.35" r="4.3" fill="#B279B4" stroke="#676b70" stroke-width="1.3"/>
<circle cx="1468.72" cy="289.35" r="4.3" fill="#B279B4" stroke="#676b70" stroke-width="1.3"/>
<path d="M1500.86,59.83V273.01M1494.36,59.83h13M1494.36,273.01h13" stroke="#8e8e8e" stroke-width="1.25" fill="none"/>
<rect x="1487.86" y="130.45" width="26.00" height="136.99" fill="#6A93BC" stroke="#808080" stroke-width="1"/>
<path d="M1487.86,221.35h26" stroke="#808080" stroke-width="1"/>
<path d="M1500.75,180.94L1503.81,190.33L1513.69,190.33L1505.69,196.14L1508.75,205.54L1500.75,199.73L1492.76,205.54L1495.81,196.14L1487.82,190.33L1497.70,190.33Z" fill="#909295" fill-opacity="0.8" stroke="#2a2a2a" stroke-width="0.9" stroke-linejoin="miter"/>
<circle cx="1500.75" cy="59.83" r="4.3" fill="#5B91CE" stroke="#676b70" stroke-width="1.3"/>
<circle cx="1500.75" cy="113.45" r="4.3" fill="#5B91CE" stroke="#676b70" stroke-width="1.3"/>
<circle cx="1500.75" cy="180.81" r="4.3" fill="#5B91CE" stroke="#676b70" stroke-width="1.3"/>
<circle cx="1500.75" cy="261.56" r="4.3" fill="#5B91CE" stroke="#676b70" stroke-width="1.3"/>
<circle cx="1489.31" cy="269.74" r="4.3" fill="#5B91CE" stroke="#676b70" stroke-width="1.3"/>
<circle cx="1500.75" cy="273.01" r="4.3" fill="#5B91CE" stroke="#676b70" stroke-width="1.3"/>
<path d="M1533.21,112.15V287.72M1526.71,112.15h13M1526.71,287.72h13" stroke="#8e8e8e" stroke-width="1.25" fill="none"/>
<rect x="1520.21" y="136.67" width="26.00" height="137.97" fill="#68ACA9" stroke="#808080" stroke-width="1"/>
<path d="M1520.21,224.62h26" stroke="#808080" stroke-width="1"/>
<path d="M1533.11,193.03L1536.17,202.43L1546.05,202.43L1538.05,208.24L1541.11,217.64L1533.11,211.83L1525.12,217.64L1528.17,208.24L1520.18,202.43L1530.06,202.43Z" fill="#909295" fill-opacity="0.8" stroke="#2a2a2a" stroke-width="0.9" stroke-linejoin="miter"/>
<circle cx="1533.11" cy="112.15" r="4.3" fill="#60B7B3" stroke="#676b70" stroke-width="1.3"/>
<circle cx="1533.11" cy="122.61" r="4.3" fill="#60B7B3" stroke="#676b70" stroke-width="1.3"/>
<circle cx="1537.36" cy="268.76" r="4.3" fill="#60B7B3" stroke="#676b70" stroke-width="1.3"/>
<circle cx="1529.85" cy="277.26" r="4.3" fill="#60B7B3" stroke="#676b70" stroke-width="1.3"/>
<circle cx="1533.11" cy="287.07" r="4.3" fill="#60B7B3" stroke="#676b70" stroke-width="1.3"/>
<path d="M1565.55,233.12V290.01M1559.05,233.12h13M1559.05,290.01h13" stroke="#8e8e8e" stroke-width="1.25" fill="none"/>
<rect x="1552.55" y="233.12" width="26.00" height="40.54" fill="#D9DBE9" stroke="#808080" stroke-width="1"/>
<path d="M1552.55,255.02h26" stroke="#808080" stroke-width="1"/>
<path d="M1565.80,165.63l4.4,7l-4.4,7l-4.4,-7z" fill="#6b6b6b"/>
<path d="M1565.80,233.90L1568.86,243.30L1578.74,243.30L1570.74,249.11L1573.80,258.51L1565.80,252.70L1557.81,258.51L1560.86,249.11L1552.87,243.30L1562.75,243.30Z" fill="#909295" fill-opacity="0.8" stroke="#2a2a2a" stroke-width="0.9" stroke-linejoin="miter"/>
<circle cx="1565.80" cy="172.63" r="4.3" fill="#D9DBEC" stroke="#676b70" stroke-width="1.3"/>
<circle cx="1554.69" cy="233.12" r="4.3" fill="#D9DBEC" stroke="#676b70" stroke-width="1.3"/>
<circle cx="1565.80" cy="236.39" r="4.3" fill="#D9DBEC" stroke="#676b70" stroke-width="1.3"/>
<circle cx="1553.71" cy="273.66" r="4.3" fill="#D9DBEC" stroke="#676b70" stroke-width="1.3"/>
<circle cx="1565.80" cy="273.66" r="4.3" fill="#D9DBEC" stroke="#676b70" stroke-width="1.3"/>
<circle cx="1565.80" cy="290.01" r="4.3" fill="#D9DBEC" stroke="#676b70" stroke-width="1.3"/>
<path d="M1597.89,179.17V238.68M1591.39,179.17h13M1591.39,238.68h13" stroke="#8e8e8e" stroke-width="1.25" fill="none"/>
<rect x="1584.89" y="196.17" width="26.00" height="32.04" fill="#87C1E6" stroke="#808080" stroke-width="1"/>
<path d="M1584.89,204.35h26" stroke="#808080" stroke-width="1"/>
<path d="M1597.84,195.65L1600.89,205.05L1610.77,205.05L1602.78,210.86L1605.83,220.25L1597.84,214.45L1589.85,220.25L1592.90,210.86L1584.91,205.05L1594.79,205.05Z" fill="#909295" fill-opacity="0.8" stroke="#2a2a2a" stroke-width="0.9" stroke-linejoin="miter"/>
<circle cx="1597.84" cy="179.17" r="4.3" fill="#76C6F7" stroke="#676b70" stroke-width="1.3"/>
<circle cx="1586.40" cy="199.44" r="4.3" fill="#76C6F7" stroke="#676b70" stroke-width="1.3"/>
<circle cx="1597.84" cy="202.06" r="4.3" fill="#76C6F7" stroke="#676b70" stroke-width="1.3"/>
<circle cx="1608.30" cy="196.83" r="4.3" fill="#76C6F7" stroke="#676b70" stroke-width="1.3"/>
<circle cx="1586.40" cy="237.70" r="4.3" fill="#76C6F7" stroke="#676b70" stroke-width="1.3"/>
<circle cx="1597.84" cy="238.68" r="4.3" fill="#76C6F7" stroke="#676b70" stroke-width="1.3"/>
<path d="M1629.88,274.12L1632.93,283.52L1642.81,283.52L1634.82,289.32L1637.87,298.72L1629.88,292.91L1621.88,298.72L1624.93,289.32L1616.94,283.52L1626.82,283.52Z" fill="#909295" fill-opacity="0.8" stroke="#2a2a2a" stroke-width="0.9" stroke-linejoin="miter"/>
<circle cx="1617.45" cy="287.07" r="4.3" fill="#E9C857" stroke="#676b70" stroke-width="1.3"/>
<circle cx="1642.95" cy="285.43" r="4.3" fill="#E9C857" stroke="#676b70" stroke-width="1.3"/>
<circle cx="1629.88" cy="290.33" r="4.3" fill="#E9C857" stroke="#676b70" stroke-width="1.3"/>
<circle cx="1618.11" cy="290.33" r="4.3" fill="#E9C857" stroke="#676b70" stroke-width="1.3"/>
<path d="M1662.58,195.19V289.35M1656.08,195.19h13M1656.08,289.35h13" stroke="#8e8e8e" stroke-width="1.25" fill="none"/>
<rect x="1649.58" y="234.75" width="26.00" height="49.70" fill="#84B493" stroke="#808080" stroke-width="1"/>
<path d="M1649.58,253.39h26" stroke="#808080" stroke-width="1"/>
<path d="M1662.24,237.50L1665.29,246.90L1675.17,246.90L1667.18,252.71L1670.23,262.10L1662.24,256.30L1654.24,262.10L1657.30,252.71L1649.30,246.90L1659.18,246.90Z" fill="#909295" fill-opacity="0.8" stroke="#2a2a2a" stroke-width="0.9" stroke-linejoin="miter"/>
<circle cx="1662.24" cy="195.19" r="4.3" fill="#7DBB8F" stroke="#676b70" stroke-width="1.3"/>
<circle cx="1651.12" cy="228.87" r="4.3" fill="#7DBB8F" stroke="#676b70" stroke-width="1.3"/>
<circle cx="1662.24" cy="276.93" r="4.3" fill="#7DBB8F" stroke="#676b70" stroke-width="1.3"/>
<circle cx="1651.12" cy="287.07" r="4.3" fill="#7DBB8F" stroke="#676b70" stroke-width="1.3"/>
<circle cx="1662.24" cy="289.35" r="4.3" fill="#7DBB8F" stroke="#676b70" stroke-width="1.3"/>
<path d="M1694.93,181.92L1697.98,191.32L1707.86,191.32L1699.87,197.12L1702.92,206.52L1694.93,200.71L1686.93,206.52L1689.99,197.12L1681.99,191.32L1691.87,191.32Z" fill="#909295" fill-opacity="0.8" stroke="#2a2a2a" stroke-width="0.9" stroke-linejoin="miter"/>
<circle cx="1682.18" cy="195.52" r="4.3" fill="#EC9BF6" stroke="#676b70" stroke-width="1.3"/>
<circle cx="1694.93" cy="195.52" r="4.3" fill="#EC9BF6" stroke="#676b70" stroke-width="1.3"/>
<circle cx="1707.35" cy="195.52" r="4.3" fill="#EC9BF6" stroke="#676b70" stroke-width="1.3"/>
</g>
<text transform="translate(1438.64,269.34) scale(1.100,1)" font-size="21.20" text-anchor="middle" stroke="#fff" stroke-width="2.6" stroke-linejoin="round" paint-order="stroke" >246</text>
<text transform="translate(1467.74,252.34) scale(1.100,1)" font-size="21.20" text-anchor="middle" stroke="#fff" stroke-width="2.6" stroke-linejoin="round" paint-order="stroke" >847</text>
<text transform="translate(1500.75,167.01) scale(1.100,1)" font-size="21.20" text-anchor="middle" stroke="#fff" stroke-width="2.6" stroke-linejoin="round" paint-order="stroke" >3,674</text>
<text transform="translate(1531.81,185.64) scale(1.100,1)" font-size="21.20" text-anchor="middle" stroke="#fff" stroke-width="2.6" stroke-linejoin="round" paint-order="stroke" >3,<tspan dx="-1.25" letter-spacing="-0.95" textLength="8.9" lengthAdjust="spacingAndGlyphs">1</tspan>23</text>
<text transform="translate(1565.80,230.44) scale(1.100,1)" font-size="21.20" text-anchor="middle" stroke="#fff" stroke-width="2.6" stroke-linejoin="round" paint-order="stroke" ><tspan dx="-1.25" letter-spacing="-0.95" textLength="8.9" lengthAdjust="spacingAndGlyphs">1</tspan>,676</text>
<text transform="translate(1597.19,192.51) scale(1.100,1)" font-size="21.20" text-anchor="middle" stroke="#fff" stroke-width="2.6" stroke-linejoin="round" paint-order="stroke" >3,083</text>
<text transform="translate(1628.89,270.98) scale(1.100,1)" font-size="21.20" text-anchor="middle" stroke="#fff" stroke-width="2.6" stroke-linejoin="round" paint-order="stroke" ><tspan dx="-1.25" letter-spacing="-0.95" textLength="8.9" lengthAdjust="spacingAndGlyphs">1</tspan>39</text>
<text transform="translate(1662.24,234.03) scale(1.100,1)" font-size="21.20" text-anchor="middle" stroke="#fff" stroke-width="2.6" stroke-linejoin="round" paint-order="stroke" ><tspan dx="-1.25" letter-spacing="-0.95" textLength="8.9" lengthAdjust="spacingAndGlyphs">1</tspan>,487</text>
<text transform="translate(1694.93,178.45) scale(1.100,1)" font-size="21.20" text-anchor="middle" stroke="#fff" stroke-width="2.6" stroke-linejoin="round" paint-order="stroke" >3,60<tspan dx="-1.25" letter-spacing="-0.95" textLength="8.9" lengthAdjust="spacingAndGlyphs">1</tspan></text>
<path d="M1420.00,48.60V302.50H1711.10" stroke="#333" stroke-width="1.2" fill="none"/>
<path d="M1411.20,77.50h8.8" stroke="#333" stroke-width="1.1"/>
<text transform="translate(1401.30,84.00) scale(1.100,1)" font-size="21.20" text-anchor="end" >8</text>
<path d="M1411.20,131.00h8.8" stroke="#333" stroke-width="1.1"/>
<text transform="translate(1401.30,137.50) scale(1.100,1)" font-size="21.20" text-anchor="end" >6</text>
<path d="M1411.20,184.50h8.8" stroke="#333" stroke-width="1.1"/>
<text transform="translate(1401.30,191.00) scale(1.100,1)" font-size="21.20" text-anchor="end" >4</text>
<path d="M1411.20,238.00h8.8" stroke="#333" stroke-width="1.1"/>
<text transform="translate(1401.30,244.50) scale(1.100,1)" font-size="21.20" text-anchor="end" >2</text>
<path d="M1411.20,291.40h8.8" stroke="#333" stroke-width="1.1"/>
<text transform="translate(1401.30,297.90) scale(1.100,1)" font-size="21.20" text-anchor="end" >0</text>
<text transform="translate(1446.20,316.80) rotate(-90)" font-size="21.30" text-anchor="end" textLength="37.7" lengthAdjust="spacingAndGlyphs" >PSE</text>
<text transform="translate(1478.04,316.80) rotate(-90)" font-size="21.30" text-anchor="end" textLength="37.1" lengthAdjust="spacingAndGlyphs" >SPL</text>
<text transform="translate(1509.87,316.80) rotate(-90)" font-size="21.30" text-anchor="end" textLength="60.7" lengthAdjust="spacingAndGlyphs" >NGGP</text>
<text transform="translate(1541.71,316.80) rotate(-90)" font-size="21.30" text-anchor="end" textLength="58.0" lengthAdjust="spacingAndGlyphs" >DGSR</text>
<text transform="translate(1573.55,316.80) rotate(-90)" font-size="21.30" text-anchor="end" textLength="49.9" lengthAdjust="spacingAndGlyphs" >PySR</text>
<text transform="translate(1605.39,316.80) rotate(-90)" font-size="21.30" text-anchor="end" textLength="43.6" lengthAdjust="spacingAndGlyphs" >BMS</text>
<text transform="translate(1637.22,316.80) rotate(-90)" font-size="21.30" text-anchor="end" textLength="51.1" lengthAdjust="spacingAndGlyphs" >TPSR</text>
<text transform="translate(1669.06,316.80) rotate(-90)" font-size="21.30" text-anchor="end" textLength="53.0" lengthAdjust="spacingAndGlyphs" >uDSR</text>
<text transform="translate(1700.90,316.80) rotate(-90)" font-size="21.30" text-anchor="end" textLength="76.7" lengthAdjust="spacingAndGlyphs" >Operon</text>
<text transform="translate(1566.05,34.70)" font-size="24.30" text-anchor="middle" textLength="116.0" lengthAdjust="spacingAndGlyphs" >Nguyen-c</text>
<text transform="translate(1364.00,175.55) rotate(-90)" font-size="24.60" text-anchor="middle" textLength="151.0" lengthAdjust="spacingAndGlyphs" >Time (×10<tspan font-size="17" dy="-10.5">3</tspan><tspan dy="10.5"> s)</tspan></text>
</g>
<g id="p_c">
<clipPath id="cl_c"><rect x="123.60" y="474.00" width="291.10" height="254.50"/></clipPath>
<g clip-path="url(#cl_c)">
<path d="M139.91,472.12L142.96,481.52L152.85,481.52L144.85,487.32L147.90,496.72L139.91,490.91L131.92,496.72L134.97,487.32L126.98,481.52L136.86,481.52Z" fill="#909295" fill-opacity="0.8" stroke="#2a2a2a" stroke-width="0.9" stroke-linejoin="miter"/>
<circle cx="128.14" cy="485.72" r="4.3" fill="#D6635E" stroke="#676b70" stroke-width="1.3"/>
<circle cx="139.91" cy="485.72" r="4.3" fill="#D6635E" stroke="#676b70" stroke-width="1.3"/>
<circle cx="152.33" cy="485.72" r="4.3" fill="#D6635E" stroke="#676b70" stroke-width="1.3"/>
<path d="M172.27,703.27L175.33,712.67L185.21,712.67L177.21,718.48L180.27,727.88L172.27,722.07L164.28,727.88L167.33,718.48L159.34,712.67L169.22,712.67Z" fill="#909295" fill-opacity="0.8" stroke="#2a2a2a" stroke-width="0.9" stroke-linejoin="miter"/>
<circle cx="160.18" cy="716.87" r="4.3" fill="#B279B4" stroke="#676b70" stroke-width="1.3"/>
<circle cx="172.27" cy="716.87" r="4.3" fill="#B279B4" stroke="#676b70" stroke-width="1.3"/>
<circle cx="184.04" cy="716.87" r="4.3" fill="#B279B4" stroke="#676b70" stroke-width="1.3"/>
<rect x="191.46" y="707.72" width="26.00" height="9.15" fill="#6A93BC" stroke="#808080" stroke-width="1"/>
<path d="M204.31,693.53l4.4,7l-4.4,7l-4.4,-7z" fill="#6b6b6b"/>
<path d="M204.31,698.37L207.36,707.77L217.24,707.77L209.25,713.57L212.30,722.97L204.31,717.16L196.32,722.97L199.37,713.57L191.37,707.77L201.26,707.77Z" fill="#909295" fill-opacity="0.8" stroke="#2a2a2a" stroke-width="0.9" stroke-linejoin="miter"/>
<circle cx="204.31" cy="700.53" r="4.3" fill="#5B91CE" stroke="#676b70" stroke-width="1.3"/>
<circle cx="192.87" cy="716.87" r="4.3" fill="#5B91CE" stroke="#676b70" stroke-width="1.3"/>
<circle cx="204.31" cy="716.87" r="4.3" fill="#5B91CE" stroke="#676b70" stroke-width="1.3"/>
<path d="M236.67,703.27L239.73,712.67L249.61,712.67L241.61,718.48L244.67,727.88L236.67,722.07L228.68,727.88L231.73,718.48L223.74,712.67L233.62,712.67Z" fill="#909295" fill-opacity="0.8" stroke="#2a2a2a" stroke-width="0.9" stroke-linejoin="miter"/>
<circle cx="224.90" cy="716.87" r="4.3" fill="#60B7B3" stroke="#676b70" stroke-width="1.3"/>
<circle cx="236.67" cy="716.87" r="4.3" fill="#60B7B3" stroke="#676b70" stroke-width="1.3"/>
<circle cx="248.44" cy="716.87" r="4.3" fill="#60B7B3" stroke="#676b70" stroke-width="1.3"/>
<path d="M269.03,703.27L272.09,712.67L281.97,712.67L273.97,718.48L277.03,727.88L269.03,722.07L261.04,727.88L264.09,718.48L256.10,712.67L265.98,712.67Z" fill="#909295" fill-opacity="0.8" stroke="#2a2a2a" stroke-width="0.9" stroke-linejoin="miter"/>
<circle cx="257.27" cy="716.87" r="4.3" fill="#D9DBEC" stroke="#676b70" stroke-width="1.3"/>
<circle cx="269.03" cy="716.87" r="4.3" fill="#D9DBEC" stroke="#676b70" stroke-width="1.3"/>
<circle cx="281.13" cy="716.87" r="4.3" fill="#D9DBEC" stroke="#676b70" stroke-width="1.3"/>
<path d="M301.07,702.62L304.12,712.02L314.00,712.02L306.01,717.83L309.06,727.22L301.07,721.41L293.08,727.22L296.13,717.83L288.14,712.02L298.02,712.02Z" fill="#909295" fill-opacity="0.8" stroke="#2a2a2a" stroke-width="0.9" stroke-linejoin="miter"/>
<circle cx="289.30" cy="716.87" r="4.3" fill="#76C6F7" stroke="#676b70" stroke-width="1.3"/>
<circle cx="301.07" cy="716.87" r="4.3" fill="#76C6F7" stroke="#676b70" stroke-width="1.3"/>
<circle cx="312.84" cy="715.24" r="4.3" fill="#76C6F7" stroke="#676b70" stroke-width="1.3"/>
<path d="M333.43,703.27L336.49,712.67L346.37,712.67L338.37,718.48L341.43,727.88L333.43,722.07L325.44,727.88L328.49,718.48L320.50,712.67L330.38,712.67Z" fill="#909295" fill-opacity="0.8" stroke="#2a2a2a" stroke-width="0.9" stroke-linejoin="miter"/>
<circle cx="321.99" cy="716.87" r="4.3" fill="#E9C857" stroke="#676b70" stroke-width="1.3"/>
<circle cx="333.43" cy="716.87" r="4.3" fill="#E9C857" stroke="#676b70" stroke-width="1.3"/>
<circle cx="345.53" cy="716.87" r="4.3" fill="#E9C857" stroke="#676b70" stroke-width="1.3"/>
<path d="M365.79,703.27L368.85,712.67L378.73,712.67L370.74,718.48L373.79,727.88L365.79,722.07L357.80,727.88L360.85,718.48L352.86,712.67L362.74,712.67Z" fill="#909295" fill-opacity="0.8" stroke="#2a2a2a" stroke-width="0.9" stroke-linejoin="miter"/>
<circle cx="354.03" cy="716.87" r="4.3" fill="#7DBB8F" stroke="#676b70" stroke-width="1.3"/>
<circle cx="365.79" cy="716.87" r="4.3" fill="#7DBB8F" stroke="#676b70" stroke-width="1.3"/>
<circle cx="377.89" cy="716.87" r="4.3" fill="#7DBB8F" stroke="#676b70" stroke-width="1.3"/>
<path d="M398.16,703.27L401.21,712.67L411.09,712.67L403.10,718.48L406.15,727.88L398.16,722.07L390.16,727.88L393.22,718.48L385.22,712.67L395.10,712.67Z" fill="#909295" fill-opacity="0.8" stroke="#2a2a2a" stroke-width="0.9" stroke-linejoin="miter"/>
<circle cx="386.39" cy="716.87" r="4.3" fill="#EC9BF6" stroke="#676b70" stroke-width="1.3"/>
<circle cx="398.16" cy="716.87" r="4.3" fill="#EC9BF6" stroke="#676b70" stroke-width="1.3"/>
<circle cx="410.25" cy="716.87" r="4.3" fill="#EC9BF6" stroke="#676b70" stroke-width="1.3"/>
</g>
<text transform="translate(141.55,514.42) scale(1.100,1)" font-size="21.20" text-anchor="middle" stroke="#fff" stroke-width="2.6" stroke-linejoin="round" paint-order="stroke" ><tspan dx="-1.25" letter-spacing="-0.95" textLength="8.9" lengthAdjust="spacingAndGlyphs">1</tspan>00</text>
<text transform="translate(172.27,699.15) scale(1.100,1)" font-size="21.20" text-anchor="middle" stroke="#fff" stroke-width="2.6" stroke-linejoin="round" paint-order="stroke" >0</text>
<text transform="translate(204.31,694.90) scale(1.100,1)" font-size="21.20" text-anchor="middle" stroke="#fff" stroke-width="2.6" stroke-linejoin="round" paint-order="stroke" >2</text>
<text transform="translate(236.67,699.15) scale(1.100,1)" font-size="21.20" text-anchor="middle" stroke="#fff" stroke-width="2.6" stroke-linejoin="round" paint-order="stroke" >0</text>
<text transform="translate(269.03,699.15) scale(1.100,1)" font-size="21.20" text-anchor="middle" stroke="#fff" stroke-width="2.6" stroke-linejoin="round" paint-order="stroke" >0</text>
<text transform="translate(301.07,699.15) scale(1.100,1)" font-size="21.20" text-anchor="middle" stroke="#fff" stroke-width="2.6" stroke-linejoin="round" paint-order="stroke" >0</text>
<text transform="translate(333.43,699.15) scale(1.100,1)" font-size="21.20" text-anchor="middle" stroke="#fff" stroke-width="2.6" stroke-linejoin="round" paint-order="stroke" >0</text>
<text transform="translate(365.79,699.15) scale(1.100,1)" font-size="21.20" text-anchor="middle" stroke="#fff" stroke-width="2.6" stroke-linejoin="round" paint-order="stroke" >0</text>
<text transform="translate(398.16,699.15) scale(1.100,1)" font-size="21.20" text-anchor="middle" stroke="#fff" stroke-width="2.6" stroke-linejoin="round" paint-order="stroke" >0</text>
<path d="M123.60,474.10V728.50H414.70" stroke="#333" stroke-width="1.2" fill="none"/>
<path d="M114.80,485.50h8.8" stroke="#333" stroke-width="1.1"/>
<text transform="translate(104.60,492.00) scale(1.100,1)" font-size="21.20" text-anchor="end" >100</text>
<path d="M114.80,531.80h8.8" stroke="#333" stroke-width="1.1"/>
<text transform="translate(104.60,538.30) scale(1.100,1)" font-size="21.20" text-anchor="end" >80</text>
<path d="M114.80,578.10h8.8" stroke="#333" stroke-width="1.1"/>
<text transform="translate(104.60,584.60) scale(1.100,1)" font-size="21.20" text-anchor="end" >60</text>
<path d="M114.80,624.40h8.8" stroke="#333" stroke-width="1.1"/>
<text transform="translate(104.60,630.90) scale(1.100,1)" font-size="21.20" text-anchor="end" >40</text>
<path d="M114.80,670.70h8.8" stroke="#333" stroke-width="1.1"/>
<text transform="translate(104.60,677.20) scale(1.100,1)" font-size="21.20" text-anchor="end" >20</text>
<path d="M114.80,717.00h8.8" stroke="#333" stroke-width="1.1"/>
<text transform="translate(104.60,723.50) scale(1.100,1)" font-size="21.20" text-anchor="end" >0</text>
<text transform="translate(150.50,742.80) rotate(-90)" font-size="21.30" text-anchor="end" textLength="37.7" lengthAdjust="spacingAndGlyphs" >PSE</text>
<text transform="translate(182.39,742.80) rotate(-90)" font-size="21.30" text-anchor="end" textLength="37.1" lengthAdjust="spacingAndGlyphs" >SPL</text>
<text transform="translate(214.28,742.80) rotate(-90)" font-size="21.30" text-anchor="end" textLength="60.7" lengthAdjust="spacingAndGlyphs" >NGGP</text>
<text transform="translate(246.16,742.80) rotate(-90)" font-size="21.30" text-anchor="end" textLength="58.0" lengthAdjust="spacingAndGlyphs" >DGSR</text>
<text transform="translate(278.05,742.80) rotate(-90)" font-size="21.30" text-anchor="end" textLength="49.9" lengthAdjust="spacingAndGlyphs" >PySR</text>
<text transform="translate(309.94,742.80) rotate(-90)" font-size="21.30" text-anchor="end" textLength="43.6" lengthAdjust="spacingAndGlyphs" >BMS</text>
<text transform="translate(341.83,742.80) rotate(-90)" font-size="21.30" text-anchor="end" textLength="51.1" lengthAdjust="spacingAndGlyphs" >TPSR</text>
<text transform="translate(373.71,742.80) rotate(-90)" font-size="21.30" text-anchor="end" textLength="53.0" lengthAdjust="spacingAndGlyphs" >uDSR</text>
<text transform="translate(405.60,742.80) rotate(-90)" font-size="21.30" text-anchor="end" textLength="76.7" lengthAdjust="spacingAndGlyphs" >Operon</text>
<text transform="translate(269.65,461.90)" font-size="24.30" text-anchor="middle" >R</text>
<text transform="translate(44.10,598.60) rotate(-90)" font-size="24.60" text-anchor="middle" textLength="211.5" lengthAdjust="spacingAndGlyphs" >Recovery rate (%)</text>
<text transform="translate(27.20,462.20) scale(1.100,1)" font-size="35.50" text-anchor="start" font-weight="bold" stroke="#000" stroke-width="1.1">c</text>
</g>
<g id="p_c2">
<clipPath id="cl_c2"><rect x="550.00" y="474.00" width="291.10" height="254.50"/></clipPath>
<g clip-path="url(#cl_c2)">
<path d="M566.17,682.54V716.87M559.67,682.54h13M559.67,716.87h13" stroke="#8e8e8e" stroke-width="1.25" fill="none"/>
<rect x="553.17" y="699.55" width="26.00" height="16.35" fill="#CB6C69" stroke="#808080" stroke-width="1"/>
<path d="M565.85,691.50L568.91,700.90L578.79,700.90L570.79,706.71L573.85,716.11L565.85,710.30L557.86,716.11L560.91,706.71L552.92,700.90L562.80,700.90Z" fill="#909295" fill-opacity="0.8" stroke="#2a2a2a" stroke-width="0.9" stroke-linejoin="miter"/>
<circle cx="565.85" cy="682.54" r="4.3" fill="#D6635E" stroke="#676b70" stroke-width="1.3"/>
<circle cx="554.41" cy="715.24" r="4.3" fill="#D6635E" stroke="#676b70" stroke-width="1.3"/>
<circle cx="565.85" cy="716.87" r="4.3" fill="#D6635E" stroke="#676b70" stroke-width="1.3"/>
<rect x="585.52" y="648.87" width="26.00" height="5.89" fill="#AA7FAC" stroke="#808080" stroke-width="1"/>
<path d="M598.22,639.19L601.27,648.59L611.15,648.59L603.16,654.40L606.21,663.79L598.22,657.99L590.22,663.79L593.28,654.40L585.28,648.59L595.16,648.59Z" fill="#909295" fill-opacity="0.8" stroke="#2a2a2a" stroke-width="0.9" stroke-linejoin="miter"/>
<circle cx="587.76" cy="652.14" r="4.3" fill="#B279B4" stroke="#676b70" stroke-width="1.3"/>
<circle cx="598.22" cy="646.58" r="4.3" fill="#B279B4" stroke="#676b70" stroke-width="1.3"/>
<circle cx="598.22" cy="657.04" r="4.3" fill="#B279B4" stroke="#676b70" stroke-width="1.3"/>
<path d="M630.58,669.60L633.63,679.00L643.51,679.00L635.52,684.80L638.57,694.20L630.58,688.39L622.59,694.20L625.64,684.80L617.65,679.00L627.53,679.00Z" fill="#909295" fill-opacity="0.8" stroke="#2a2a2a" stroke-width="0.9" stroke-linejoin="miter"/>
<circle cx="619.14" cy="684.18" r="4.3" fill="#5B91CE" stroke="#676b70" stroke-width="1.3"/>
<circle cx="630.58" cy="686.47" r="4.3" fill="#5B91CE" stroke="#676b70" stroke-width="1.3"/>
<circle cx="642.02" cy="682.22" r="4.3" fill="#5B91CE" stroke="#676b70" stroke-width="1.3"/>
<path d="M663.27,651.62L666.32,661.01L676.20,661.01L668.21,666.82L671.26,676.22L663.27,670.41L655.28,676.22L658.33,666.82L650.33,661.01L660.22,661.01Z" fill="#909295" fill-opacity="0.8" stroke="#2a2a2a" stroke-width="0.9" stroke-linejoin="miter"/>
<circle cx="651.83" cy="664.56" r="4.3" fill="#60B7B3" stroke="#676b70" stroke-width="1.3"/>
<circle cx="663.27" cy="667.50" r="4.3" fill="#60B7B3" stroke="#676b70" stroke-width="1.3"/>
<circle cx="674.71" cy="664.56" r="4.3" fill="#60B7B3" stroke="#676b70" stroke-width="1.3"/>
<path d="M694.98,598.65L698.03,608.05L707.91,608.05L699.92,613.85L702.97,623.25L694.98,617.44L686.98,623.25L690.04,613.85L682.04,608.05L691.92,608.05Z" fill="#909295" fill-opacity="0.8" stroke="#2a2a2a" stroke-width="0.9" stroke-linejoin="miter"/>
<circle cx="683.54" cy="612.25" r="4.3" fill="#D9DBEC" stroke="#676b70" stroke-width="1.3"/>
<circle cx="694.98" cy="613.56" r="4.3" fill="#D9DBEC" stroke="#676b70" stroke-width="1.3"/>
<circle cx="707.07" cy="611.59" r="4.3" fill="#D9DBEC" stroke="#676b70" stroke-width="1.3"/>
<path d="M727.89,485.72V579.23M721.39,485.72h13M721.39,579.23h13" stroke="#8e8e8e" stroke-width="1.25" fill="none"/>
<rect x="714.89" y="530.51" width="26.00" height="45.77" fill="#87C1E6" stroke="#808080" stroke-width="1"/>
<path d="M727.67,531.62L730.72,541.02L740.60,541.02L732.61,546.83L735.66,556.23L727.67,550.42L719.67,556.23L722.73,546.83L714.73,541.02L724.61,541.02Z" fill="#909295" fill-opacity="0.8" stroke="#2a2a2a" stroke-width="0.9" stroke-linejoin="miter"/>
<circle cx="727.67" cy="485.72" r="4.3" fill="#76C6F7" stroke="#676b70" stroke-width="1.3"/>
<circle cx="717.21" cy="573.67" r="4.3" fill="#76C6F7" stroke="#676b70" stroke-width="1.3"/>
<circle cx="727.67" cy="579.23" r="4.3" fill="#76C6F7" stroke="#676b70" stroke-width="1.3"/>
<rect x="747.24" y="699.55" width="26.00" height="8.17" fill="#D5BC64" stroke="#808080" stroke-width="1"/>
<path d="M759.70,690.20L762.76,699.59L772.64,699.59L764.64,705.40L767.70,714.80L759.70,708.99L751.71,714.80L754.76,705.40L746.77,699.59L756.65,699.59Z" fill="#909295" fill-opacity="0.8" stroke="#2a2a2a" stroke-width="0.9" stroke-linejoin="miter"/>
<circle cx="760.36" cy="693.99" r="4.3" fill="#E9C857" stroke="#676b70" stroke-width="1.3"/>
<circle cx="751.53" cy="704.45" r="4.3" fill="#E9C857" stroke="#676b70" stroke-width="1.3"/>
<circle cx="760.36" cy="710.99" r="4.3" fill="#E9C857" stroke="#676b70" stroke-width="1.3"/>
<path d="M792.07,616.63L795.12,626.03L805.00,626.03L797.01,631.84L800.06,641.23L792.07,635.43L784.07,641.23L787.12,631.84L779.13,626.03L789.01,626.03Z" fill="#909295" fill-opacity="0.8" stroke="#2a2a2a" stroke-width="0.9" stroke-linejoin="miter"/>
<circle cx="780.62" cy="629.90" r="4.3" fill="#7DBB8F" stroke="#676b70" stroke-width="1.3"/>
<circle cx="792.07" cy="632.52" r="4.3" fill="#7DBB8F" stroke="#676b70" stroke-width="1.3"/>
<circle cx="803.83" cy="629.25" r="4.3" fill="#7DBB8F" stroke="#676b70" stroke-width="1.3"/>
<path d="M824.75,529.01L827.81,538.41L837.69,538.41L829.70,544.21L832.75,553.61L824.75,547.80L816.76,553.61L819.81,544.21L811.82,538.41L821.70,538.41Z" fill="#909295" fill-opacity="0.8" stroke="#2a2a2a" stroke-width="0.9" stroke-linejoin="miter"/>
<circle cx="812.66" cy="543.26" r="4.3" fill="#EC9BF6" stroke="#676b70" stroke-width="1.3"/>
<circle cx="824.75" cy="543.26" r="4.3" fill="#EC9BF6" stroke="#676b70" stroke-width="1.3"/>
<circle cx="836.52" cy="543.26" r="4.3" fill="#EC9BF6" stroke="#676b70" stroke-width="1.3"/>
</g>
<text transform="translate(568.47,688.36) scale(1.100,1)" font-size="21.20" text-anchor="middle" stroke="#fff" stroke-width="2.6" stroke-linejoin="round" paint-order="stroke" >333</text>
<text transform="translate(599.52,636.05) scale(1.100,1)" font-size="21.20" text-anchor="middle" stroke="#fff" stroke-width="2.6" stroke-linejoin="round" paint-order="stroke" ><tspan dx="-1.25" letter-spacing="-0.95" textLength="8.9" lengthAdjust="spacingAndGlyphs">1</tspan>,40<tspan dx="-1.25" letter-spacing="-0.95" textLength="8.9" lengthAdjust="spacingAndGlyphs">1</tspan></text>
<text transform="translate(630.58,667.11) scale(1.100,1)" font-size="21.20" text-anchor="middle" stroke="#fff" stroke-width="2.6" stroke-linejoin="round" paint-order="stroke" >759</text>
<text transform="translate(662.29,648.47) scale(1.100,1)" font-size="21.20" text-anchor="middle" stroke="#fff" stroke-width="2.6" stroke-linejoin="round" paint-order="stroke" ><tspan dx="-1.25" letter-spacing="-0.95" textLength="8.9" lengthAdjust="spacingAndGlyphs">1</tspan>,<tspan dx="-1.25" letter-spacing="-0.95" textLength="8.9" lengthAdjust="spacingAndGlyphs">1</tspan>29</text>
<text transform="translate(694.98,595.84) scale(1.100,1)" font-size="21.20" text-anchor="middle" stroke="#fff" stroke-width="2.6" stroke-linejoin="round" paint-order="stroke" >2,<tspan dx="-1.25" letter-spacing="-0.95" textLength="8.9" lengthAdjust="spacingAndGlyphs">1</tspan>96</text>
<text transform="translate(728.65,529.14) scale(1.100,1)" font-size="21.20" text-anchor="middle" stroke="#fff" stroke-width="2.6" stroke-linejoin="round" paint-order="stroke" >3,537</text>
<text transform="translate(759.70,686.73) scale(1.100,1)" font-size="21.20" text-anchor="middle" stroke="#fff" stroke-width="2.6" stroke-linejoin="round" paint-order="stroke" >366</text>
<text transform="translate(792.07,613.16) scale(1.100,1)" font-size="21.20" text-anchor="middle" stroke="#fff" stroke-width="2.6" stroke-linejoin="round" paint-order="stroke" ><tspan dx="-1.25" letter-spacing="-0.95" textLength="8.9" lengthAdjust="spacingAndGlyphs">1</tspan>,829</text>
<text transform="translate(824.10,524.89) scale(1.100,1)" font-size="21.20" text-anchor="middle" stroke="#fff" stroke-width="2.6" stroke-linejoin="round" paint-order="stroke" >3,600</text>
<path d="M550.00,474.10V728.50H841.10" stroke="#333" stroke-width="1.2" fill="none"/>
<path d="M541.20,523.20h8.8" stroke="#333" stroke-width="1.1"/>
<text transform="translate(529.80,529.70) scale(1.100,1)" font-size="21.20" text-anchor="end" >4.0</text>
<path d="M541.20,547.90h8.8" stroke="#333" stroke-width="1.1"/>
<text transform="translate(529.80,554.40) scale(1.100,1)" font-size="21.20" text-anchor="end" >3.5</text>
<path d="M541.20,572.70h8.8" stroke="#333" stroke-width="1.1"/>
<text transform="translate(529.80,579.20) scale(1.100,1)" font-size="21.20" text-anchor="end" >3.0</text>
<path d="M541.20,597.40h8.8" stroke="#333" stroke-width="1.1"/>
<text transform="translate(529.80,603.90) scale(1.100,1)" font-size="21.20" text-anchor="end" >2.5</text>
<path d="M541.20,622.20h8.8" stroke="#333" stroke-width="1.1"/>
<text transform="translate(529.80,628.70) scale(1.100,1)" font-size="21.20" text-anchor="end" >2.0</text>
<path d="M541.20,646.90h8.8" stroke="#333" stroke-width="1.1"/>
<text transform="translate(529.80,653.40) scale(1.100,1)" font-size="21.20" text-anchor="end" >1.5</text>
<path d="M541.20,671.70h8.8" stroke="#333" stroke-width="1.1"/>
<text transform="translate(529.80,678.20) scale(1.100,1)" font-size="21.20" text-anchor="end" >1.0</text>
<path d="M541.20,696.40h8.8" stroke="#333" stroke-width="1.1"/>
<text transform="translate(529.80,702.90) scale(1.100,1)" font-size="21.20" text-anchor="end" >0.5</text>
<path d="M541.20,721.20h8.8" stroke="#333" stroke-width="1.1"/>
<text transform="translate(529.80,727.70) scale(1.100,1)" font-size="21.20" text-anchor="end" >0</text>
<text transform="translate(573.70,742.80) rotate(-90)" font-size="21.30" text-anchor="end" textLength="37.7" lengthAdjust="spacingAndGlyphs" >PSE</text>
<text transform="translate(605.95,742.80) rotate(-90)" font-size="21.30" text-anchor="end" textLength="37.1" lengthAdjust="spacingAndGlyphs" >SPL</text>
<text transform="translate(638.20,742.80) rotate(-90)" font-size="21.30" text-anchor="end" textLength="60.7" lengthAdjust="spacingAndGlyphs" >NGGP</text>
<text transform="translate(670.45,742.80) rotate(-90)" font-size="21.30" text-anchor="end" textLength="58.0" lengthAdjust="spacingAndGlyphs" >DGSR</text>
<text transform="translate(702.70,742.80) rotate(-90)" font-size="21.30" text-anchor="end" textLength="49.9" lengthAdjust="spacingAndGlyphs" >PySR</text>
<text transform="translate(734.95,742.80) rotate(-90)" font-size="21.30" text-anchor="end" textLength="43.6" lengthAdjust="spacingAndGlyphs" >BMS</text>
<text transform="translate(767.20,742.80) rotate(-90)" font-size="21.30" text-anchor="end" textLength="51.1" lengthAdjust="spacingAndGlyphs" >TPSR</text>
<text transform="translate(799.45,742.80) rotate(-90)" font-size="21.30" text-anchor="end" textLength="53.0" lengthAdjust="spacingAndGlyphs" >uDSR</text>
<text transform="translate(831.70,742.80) rotate(-90)" font-size="21.30" text-anchor="end" textLength="76.7" lengthAdjust="spacingAndGlyphs" >Operon</text>
<text transform="translate(696.05,461.90)" font-size="24.30" text-anchor="middle" >R</text>
<text transform="translate(473.40,601.30) rotate(-90)" font-size="24.60" text-anchor="middle" textLength="151.0" lengthAdjust="spacingAndGlyphs" >Time (×10<tspan font-size="17" dy="-10.5">3</tspan><tspan dy="10.5"> s)</tspan></text>
</g>
<g id="p_d">
<clipPath id="cl_d"><rect x="993.80" y="474.00" width="291.10" height="254.50"/></clipPath>
<g clip-path="url(#cl_d)">
<path d="M1010.10,472.12L1013.16,481.52L1023.04,481.52L1015.04,487.32L1018.10,496.72L1010.10,490.91L1002.11,496.72L1005.16,487.32L997.17,481.52L1007.05,481.52Z" fill="#909295" fill-opacity="0.8" stroke="#2a2a2a" stroke-width="0.9" stroke-linejoin="miter"/>
<circle cx="998.34" cy="485.72" r="4.3" fill="#D6635E" stroke="#676b70" stroke-width="1.3"/>
<circle cx="1010.10" cy="485.72" r="4.3" fill="#D6635E" stroke="#676b70" stroke-width="1.3"/>
<circle cx="1021.87" cy="485.72" r="4.3" fill="#D6635E" stroke="#676b70" stroke-width="1.3"/>
<path d="M1042.47,703.27L1045.52,712.67L1055.40,712.67L1047.41,718.48L1050.46,727.88L1042.47,722.07L1034.47,727.88L1037.53,718.48L1029.53,712.67L1039.41,712.67Z" fill="#909295" fill-opacity="0.8" stroke="#2a2a2a" stroke-width="0.9" stroke-linejoin="miter"/>
<circle cx="1030.37" cy="716.87" r="4.3" fill="#B279B4" stroke="#676b70" stroke-width="1.3"/>
<circle cx="1042.47" cy="716.87" r="4.3" fill="#B279B4" stroke="#676b70" stroke-width="1.3"/>
<circle cx="1054.23" cy="716.87" r="4.3" fill="#B279B4" stroke="#676b70" stroke-width="1.3"/>
<path d="M1074.66,497.16V657.04M1068.16,497.16h13M1068.16,657.04h13" stroke="#8e8e8e" stroke-width="1.25" fill="none"/>
<rect x="1061.66" y="560.59" width="26.00" height="80.10" fill="#6A93BC" stroke="#808080" stroke-width="1"/>
<path d="M1061.66,624.35h26" stroke="#808080" stroke-width="1"/>
<path d="M1074.83,578.70L1077.88,588.10L1087.76,588.10L1079.77,593.91L1082.82,603.31L1074.83,597.50L1066.84,603.31L1069.89,593.91L1061.89,588.10L1071.78,588.10Z" fill="#909295" fill-opacity="0.8" stroke="#2a2a2a" stroke-width="0.9" stroke-linejoin="miter"/>
<circle cx="1074.83" cy="497.16" r="4.3" fill="#5B91CE" stroke="#676b70" stroke-width="1.3"/>
<circle cx="1074.83" cy="625.33" r="4.3" fill="#5B91CE" stroke="#676b70" stroke-width="1.3"/>
<circle cx="1074.83" cy="657.04" r="4.3" fill="#5B91CE" stroke="#676b70" stroke-width="1.3"/>
<path d="M1107.01,582.50V716.87M1100.51,582.50h13M1100.51,716.87h13" stroke="#8e8e8e" stroke-width="1.25" fill="none"/>
<rect x="1094.01" y="649.85" width="26.00" height="67.03" fill="#68ACA9" stroke="#808080" stroke-width="1"/>
<path d="M1107.19,657.50L1110.25,666.90L1120.13,666.90L1112.13,672.71L1115.19,682.10L1107.19,676.30L1099.20,682.10L1102.25,672.71L1094.26,666.90L1104.14,666.90Z" fill="#909295" fill-opacity="0.8" stroke="#2a2a2a" stroke-width="0.9" stroke-linejoin="miter"/>
<circle cx="1107.19" cy="582.50" r="4.3" fill="#60B7B3" stroke="#676b70" stroke-width="1.3"/>
<circle cx="1095.10" cy="716.87" r="4.3" fill="#60B7B3" stroke="#676b70" stroke-width="1.3"/>
<circle cx="1107.19" cy="716.87" r="4.3" fill="#60B7B3" stroke="#676b70" stroke-width="1.3"/>
<path d="M1139.23,703.27L1142.28,712.67L1152.16,712.67L1144.17,718.48L1147.22,727.88L1139.23,722.07L1131.23,727.88L1134.29,718.48L1126.29,712.67L1136.17,712.67Z" fill="#909295" fill-opacity="0.8" stroke="#2a2a2a" stroke-width="0.9" stroke-linejoin="miter"/>
<circle cx="1127.46" cy="716.87" r="4.3" fill="#D9DBEC" stroke="#676b70" stroke-width="1.3"/>
<circle cx="1139.23" cy="716.87" r="4.3" fill="#D9DBEC" stroke="#676b70" stroke-width="1.3"/>
<circle cx="1151.32" cy="716.87" r="4.3" fill="#D9DBEC" stroke="#676b70" stroke-width="1.3"/>
<path d="M1171.59,700.66L1174.64,710.06L1184.52,710.06L1176.53,715.86L1179.58,725.26L1171.59,719.45L1163.60,725.26L1166.65,715.86L1158.66,710.06L1168.54,710.06Z" fill="#909295" fill-opacity="0.8" stroke="#2a2a2a" stroke-width="0.9" stroke-linejoin="miter"/>
<circle cx="1160.15" cy="714.91" r="4.3" fill="#76C6F7" stroke="#676b70" stroke-width="1.3"/>
<circle cx="1171.59" cy="716.87" r="4.3" fill="#76C6F7" stroke="#676b70" stroke-width="1.3"/>
<circle cx="1183.36" cy="714.91" r="4.3" fill="#76C6F7" stroke="#676b70" stroke-width="1.3"/>
<path d="M1203.95,703.27L1207.01,712.67L1216.89,712.67L1208.89,718.48L1211.95,727.88L1203.95,722.07L1195.96,727.88L1199.01,718.48L1191.02,712.67L1200.90,712.67Z" fill="#909295" fill-opacity="0.8" stroke="#2a2a2a" stroke-width="0.9" stroke-linejoin="miter"/>
<circle cx="1192.18" cy="716.87" r="4.3" fill="#E9C857" stroke="#676b70" stroke-width="1.3"/>
<circle cx="1203.95" cy="716.87" r="4.3" fill="#E9C857" stroke="#676b70" stroke-width="1.3"/>
<circle cx="1215.72" cy="716.87" r="4.3" fill="#E9C857" stroke="#676b70" stroke-width="1.3"/>
<path d="M1236.32,703.27L1239.37,712.67L1249.25,712.67L1241.26,718.48L1244.31,727.88L1236.32,722.07L1228.32,727.88L1231.37,718.48L1223.38,712.67L1233.26,712.67Z" fill="#909295" fill-opacity="0.8" stroke="#2a2a2a" stroke-width="0.9" stroke-linejoin="miter"/>
<circle cx="1224.22" cy="716.87" r="4.3" fill="#7DBB8F" stroke="#676b70" stroke-width="1.3"/>
<circle cx="1236.32" cy="716.87" r="4.3" fill="#7DBB8F" stroke="#676b70" stroke-width="1.3"/>
<circle cx="1248.08" cy="716.87" r="4.3" fill="#7DBB8F" stroke="#676b70" stroke-width="1.3"/>
<path d="M1269.00,703.27L1272.06,712.67L1281.94,712.67L1273.94,718.48L1277.00,727.88L1269.00,722.07L1261.01,727.88L1264.06,718.48L1256.07,712.67L1265.95,712.67Z" fill="#909295" fill-opacity="0.8" stroke="#2a2a2a" stroke-width="0.9" stroke-linejoin="miter"/>
<circle cx="1256.91" cy="716.87" r="4.3" fill="#EC9BF6" stroke="#676b70" stroke-width="1.3"/>
<circle cx="1269.00" cy="716.87" r="4.3" fill="#EC9BF6" stroke="#676b70" stroke-width="1.3"/>
<circle cx="1280.45" cy="716.87" r="4.3" fill="#EC9BF6" stroke="#676b70" stroke-width="1.3"/>
</g>
<text transform="translate(1012.39,514.42) scale(1.100,1)" font-size="21.20" text-anchor="middle" stroke="#fff" stroke-width="2.6" stroke-linejoin="round" paint-order="stroke" ><tspan dx="-1.25" letter-spacing="-0.95" textLength="8.9" lengthAdjust="spacingAndGlyphs">1</tspan>00</text>
<text transform="translate(1042.47,699.15) scale(1.100,1)" font-size="21.20" text-anchor="middle" stroke="#fff" stroke-width="2.6" stroke-linejoin="round" paint-order="stroke" >0</text>
<text transform="translate(1074.83,621.99) scale(1.100,1)" font-size="21.20" text-anchor="middle" stroke="#fff" stroke-width="2.6" stroke-linejoin="round" paint-order="stroke" >54</text>
<text transform="translate(1106.54,698.17) scale(1.100,1)" font-size="21.20" text-anchor="middle" stroke="#fff" stroke-width="2.6" stroke-linejoin="round" paint-order="stroke" ><tspan dx="-1.25" letter-spacing="-0.95" textLength="8.9" lengthAdjust="spacingAndGlyphs">1</tspan>9</text>
<text transform="translate(1139.23,699.15) scale(1.100,1)" font-size="21.20" text-anchor="middle" stroke="#fff" stroke-width="2.6" stroke-linejoin="round" paint-order="stroke" >0</text>
<text transform="translate(1171.59,699.15) scale(1.100,1)" font-size="21.20" text-anchor="middle" stroke="#fff" stroke-width="2.6" stroke-linejoin="round" paint-order="stroke" ><tspan dx="-1.25" letter-spacing="-0.95" textLength="8.9" lengthAdjust="spacingAndGlyphs">1</tspan></text>
<text transform="translate(1203.95,699.15) scale(1.100,1)" font-size="21.20" text-anchor="middle" stroke="#fff" stroke-width="2.6" stroke-linejoin="round" paint-order="stroke" >0</text>
<text transform="translate(1236.32,699.15) scale(1.100,1)" font-size="21.20" text-anchor="middle" stroke="#fff" stroke-width="2.6" stroke-linejoin="round" paint-order="stroke" >0</text>
<text transform="translate(1269.00,699.15) scale(1.100,1)" font-size="21.20" text-anchor="middle" stroke="#fff" stroke-width="2.6" stroke-linejoin="round" paint-order="stroke" >0</text>
<path d="M993.80,474.10V728.50H1284.90" stroke="#333" stroke-width="1.2" fill="none"/>
<path d="M985.00,485.50h8.8" stroke="#333" stroke-width="1.1"/>
<text transform="translate(974.80,492.00) scale(1.100,1)" font-size="21.20" text-anchor="end" >100</text>
<path d="M985.00,531.80h8.8" stroke="#333" stroke-width="1.1"/>
<text transform="translate(974.80,538.30) scale(1.100,1)" font-size="21.20" text-anchor="end" >80</text>
<path d="M985.00,578.10h8.8" stroke="#333" stroke-width="1.1"/>
<text transform="translate(974.80,584.60) scale(1.100,1)" font-size="21.20" text-anchor="end" >60</text>
<path d="M985.00,624.40h8.8" stroke="#333" stroke-width="1.1"/>
<text transform="translate(974.80,630.90) scale(1.100,1)" font-size="21.20" text-anchor="end" >40</text>
<path d="M985.00,670.70h8.8" stroke="#333" stroke-width="1.1"/>
<text transform="translate(974.80,677.20) scale(1.100,1)" font-size="21.20" text-anchor="end" >20</text>
<path d="M985.00,717.00h8.8" stroke="#333" stroke-width="1.1"/>
<text transform="translate(974.80,723.50) scale(1.100,1)" font-size="21.20" text-anchor="end" >0</text>
<text transform="translate(1021.70,742.80) rotate(-90)" font-size="21.30" text-anchor="end" textLength="37.7" lengthAdjust="spacingAndGlyphs" >PSE</text>
<text transform="translate(1053.54,742.80) rotate(-90)" font-size="21.30" text-anchor="end" textLength="37.1" lengthAdjust="spacingAndGlyphs" >SPL</text>
<text transform="translate(1085.38,742.80) rotate(-90)" font-size="21.30" text-anchor="end" textLength="60.7" lengthAdjust="spacingAndGlyphs" >NGGP</text>
<text transform="translate(1117.21,742.80) rotate(-90)" font-size="21.30" text-anchor="end" textLength="58.0" lengthAdjust="spacingAndGlyphs" >DGSR</text>
<text transform="translate(1149.05,742.80) rotate(-90)" font-size="21.30" text-anchor="end" textLength="49.9" lengthAdjust="spacingAndGlyphs" >PySR</text>
<text transform="translate(1180.89,742.80) rotate(-90)" font-size="21.30" text-anchor="end" textLength="43.6" lengthAdjust="spacingAndGlyphs" >BMS</text>
<text transform="translate(1212.72,742.80) rotate(-90)" font-size="21.30" text-anchor="end" textLength="51.1" lengthAdjust="spacingAndGlyphs" >TPSR</text>
<text transform="translate(1244.56,742.80) rotate(-90)" font-size="21.30" text-anchor="end" textLength="53.0" lengthAdjust="spacingAndGlyphs" >uDSR</text>
<text transform="translate(1276.40,742.80) rotate(-90)" font-size="21.30" text-anchor="end" textLength="76.7" lengthAdjust="spacingAndGlyphs" >Operon</text>
<text transform="translate(1139.85,461.90)" font-size="24.30" text-anchor="middle" textLength="27.5" lengthAdjust="spacingAndGlyphs" >R*</text>
<text transform="translate(918.80,598.60) rotate(-90)" font-size="24.60" text-anchor="middle" textLength="211.5" lengthAdjust="spacingAndGlyphs" >Recovery rate (%)</text>
<text transform="translate(897.40,462.20) scale(1.100,1)" font-size="35.50" text-anchor="start" font-weight="bold" stroke="#000" stroke-width="1.1">d</text>
</g>
<g id="p_d2">
<clipPath id="cl_d2"><rect x="1420.00" y="474.00" width="291.10" height="254.50"/></clipPath>
<g clip-path="url(#cl_d2)">
<path d="M1436.03,702.29L1439.08,711.69L1448.96,711.69L1440.97,717.50L1444.02,726.90L1436.03,721.09L1428.03,726.90L1431.09,717.50L1423.09,711.69L1432.97,711.69Z" fill="#909295" fill-opacity="0.8" stroke="#2a2a2a" stroke-width="0.9" stroke-linejoin="miter"/>
<circle cx="1423.93" cy="716.22" r="4.3" fill="#D6635E" stroke="#676b70" stroke-width="1.3"/>
<circle cx="1436.03" cy="716.87" r="4.3" fill="#D6635E" stroke="#676b70" stroke-width="1.3"/>
<circle cx="1448.12" cy="715.89" r="4.3" fill="#D6635E" stroke="#676b70" stroke-width="1.3"/>
<rect x="1455.52" y="632.52" width="26.00" height="8.17" fill="#AA7FAC" stroke="#808080" stroke-width="1"/>
<path d="M1468.72,624.81L1471.77,634.20L1481.65,634.20L1473.66,640.01L1476.71,649.41L1468.72,643.60L1460.72,649.41L1463.78,640.01L1455.78,634.20L1465.66,634.20Z" fill="#909295" fill-opacity="0.8" stroke="#2a2a2a" stroke-width="0.9" stroke-linejoin="miter"/>
<circle cx="1468.72" cy="626.96" r="4.3" fill="#B279B4" stroke="#676b70" stroke-width="1.3"/>
<circle cx="1457.27" cy="640.69" r="4.3" fill="#B279B4" stroke="#676b70" stroke-width="1.3"/>
<circle cx="1468.72" cy="642.33" r="4.3" fill="#B279B4" stroke="#676b70" stroke-width="1.3"/>
<path d="M1500.86,665.22V707.07M1494.36,665.22h13M1494.36,707.07h13" stroke="#8e8e8e" stroke-width="1.25" fill="none"/>
<rect x="1487.86" y="668.48" width="26.00" height="20.60" fill="#6A93BC" stroke="#808080" stroke-width="1"/>
<path d="M1500.75,666.33L1503.81,675.73L1513.69,675.73L1505.69,681.53L1508.75,690.93L1500.75,685.12L1492.76,690.93L1495.81,681.53L1487.82,675.73L1497.70,675.73Z" fill="#909295" fill-opacity="0.8" stroke="#2a2a2a" stroke-width="0.9" stroke-linejoin="miter"/>
<circle cx="1491.60" cy="666.20" r="4.3" fill="#5B91CE" stroke="#676b70" stroke-width="1.3"/>
<circle cx="1500.75" cy="671.75" r="4.3" fill="#5B91CE" stroke="#676b70" stroke-width="1.3"/>
<circle cx="1500.75" cy="707.07" r="4.3" fill="#5B91CE" stroke="#676b70" stroke-width="1.3"/>
<path d="M1533.21,656.06V691.37M1526.71,656.06h13M1526.71,691.37h13" stroke="#8e8e8e" stroke-width="1.25" fill="none"/>
<rect x="1520.21" y="656.06" width="26.00" height="17.98" fill="#68ACA9" stroke="#808080" stroke-width="1"/>
<path d="M1533.11,654.88L1536.17,664.28L1546.05,664.28L1538.05,670.09L1541.11,679.49L1533.11,673.68L1525.12,679.49L1528.17,670.09L1520.18,664.28L1530.06,664.28Z" fill="#909295" fill-opacity="0.8" stroke="#2a2a2a" stroke-width="0.9" stroke-linejoin="miter"/>
<circle cx="1522.00" cy="654.75" r="4.3" fill="#60B7B3" stroke="#676b70" stroke-width="1.3"/>
<circle cx="1533.11" cy="656.06" r="4.3" fill="#60B7B3" stroke="#676b70" stroke-width="1.3"/>
<circle cx="1533.11" cy="691.37" r="4.3" fill="#60B7B3" stroke="#676b70" stroke-width="1.3"/>
<rect x="1552.55" y="596.56" width="26.00" height="13.73" fill="#D9DBE9" stroke="#808080" stroke-width="1"/>
<path d="M1565.80,588.84L1568.86,598.24L1578.74,598.24L1570.74,604.05L1573.80,613.44L1565.80,607.63L1557.81,613.44L1560.86,604.05L1552.87,598.24L1562.75,598.24Z" fill="#909295" fill-opacity="0.8" stroke="#2a2a2a" stroke-width="0.9" stroke-linejoin="miter"/>
<circle cx="1565.80" cy="589.36" r="4.3" fill="#D9DBEC" stroke="#676b70" stroke-width="1.3"/>
<circle cx="1560.25" cy="605.71" r="4.3" fill="#D9DBEC" stroke="#676b70" stroke-width="1.3"/>
<circle cx="1565.80" cy="615.19" r="4.3" fill="#D9DBEC" stroke="#676b70" stroke-width="1.3"/>
<rect x="1584.89" y="506.64" width="26.00" height="23.54" fill="#87C1E6" stroke="#808080" stroke-width="1"/>
<path d="M1597.84,501.22L1600.89,510.61L1610.77,510.61L1602.78,516.42L1605.83,525.82L1597.84,520.01L1589.85,525.82L1592.90,516.42L1584.91,510.61L1594.79,510.61Z" fill="#909295" fill-opacity="0.8" stroke="#2a2a2a" stroke-width="0.9" stroke-linejoin="miter"/>
<circle cx="1597.84" cy="485.39" r="4.3" fill="#76C6F7" stroke="#676b70" stroke-width="1.3"/>
<circle cx="1587.38" cy="527.24" r="4.3" fill="#76C6F7" stroke="#676b70" stroke-width="1.3"/>
<circle cx="1597.84" cy="532.15" r="4.3" fill="#76C6F7" stroke="#676b70" stroke-width="1.3"/>
<rect x="1617.24" y="697.26" width="26.00" height="10.46" fill="#D5BC64" stroke="#808080" stroke-width="1"/>
<path d="M1630.53,688.23L1633.58,697.63L1643.46,697.63L1635.47,703.44L1638.52,712.84L1630.53,707.03L1622.54,712.84L1625.59,703.44L1617.59,697.63L1627.48,697.63Z" fill="#909295" fill-opacity="0.8" stroke="#2a2a2a" stroke-width="0.9" stroke-linejoin="miter"/>
<circle cx="1630.53" cy="689.74" r="4.3" fill="#E9C857" stroke="#676b70" stroke-width="1.3"/>
<circle cx="1621.70" cy="703.80" r="4.3" fill="#E9C857" stroke="#676b70" stroke-width="1.3"/>
<circle cx="1630.53" cy="710.33" r="4.3" fill="#E9C857" stroke="#676b70" stroke-width="1.3"/>
<path d="M1662.24,593.42L1665.29,602.81L1675.17,602.81L1667.18,608.62L1670.23,618.02L1662.24,612.21L1654.24,618.02L1657.30,608.62L1649.30,602.81L1659.18,602.81Z" fill="#909295" fill-opacity="0.8" stroke="#2a2a2a" stroke-width="0.9" stroke-linejoin="miter"/>
<circle cx="1651.78" cy="606.36" r="4.3" fill="#7DBB8F" stroke="#676b70" stroke-width="1.3"/>
<circle cx="1662.24" cy="610.61" r="4.3" fill="#7DBB8F" stroke="#676b70" stroke-width="1.3"/>
<circle cx="1672.37" cy="605.71" r="4.3" fill="#7DBB8F" stroke="#676b70" stroke-width="1.3"/>
<path d="M1694.93,488.14L1697.98,497.54L1707.86,497.54L1699.87,503.34L1702.92,512.74L1694.93,506.93L1686.93,512.74L1689.99,503.34L1681.99,497.54L1691.87,497.54Z" fill="#909295" fill-opacity="0.8" stroke="#2a2a2a" stroke-width="0.9" stroke-linejoin="miter"/>
<circle cx="1682.83" cy="501.74" r="4.3" fill="#EC9BF6" stroke="#676b70" stroke-width="1.3"/>
<circle cx="1694.93" cy="501.74" r="4.3" fill="#EC9BF6" stroke="#676b70" stroke-width="1.3"/>
<circle cx="1706.70" cy="501.74" r="4.3" fill="#EC9BF6" stroke="#676b70" stroke-width="1.3"/>
</g>
<text transform="translate(1435.05,699.15) scale(1.100,1)" font-size="21.20" text-anchor="middle" stroke="#fff" stroke-width="2.6" stroke-linejoin="round" paint-order="stroke" >35</text>
<text transform="translate(1467.74,619.70) scale(1.100,1)" font-size="21.20" text-anchor="middle" stroke="#fff" stroke-width="2.6" stroke-linejoin="round" paint-order="stroke" ><tspan dx="-1.25" letter-spacing="-0.95" textLength="8.9" lengthAdjust="spacingAndGlyphs">1</tspan>,365</text>
<text transform="translate(1499.77,663.84) scale(1.100,1)" font-size="21.20" text-anchor="middle" stroke="#fff" stroke-width="2.6" stroke-linejoin="round" paint-order="stroke" >6<tspan dx="-1.25" letter-spacing="-0.95" textLength="8.9" lengthAdjust="spacingAndGlyphs">1</tspan>6</text>
<text transform="translate(1533.11,650.76) scale(1.100,1)" font-size="21.20" text-anchor="middle" stroke="#fff" stroke-width="2.6" stroke-linejoin="round" paint-order="stroke" >846</text>
<text transform="translate(1562.53,586.03) scale(1.100,1)" font-size="21.20" text-anchor="middle" stroke="#fff" stroke-width="2.6" stroke-linejoin="round" paint-order="stroke" ><tspan dx="-1.25" letter-spacing="-0.95" textLength="8.9" lengthAdjust="spacingAndGlyphs">1</tspan>,926</text>
<text transform="translate(1598.82,498.73) scale(1.100,1)" font-size="21.20" text-anchor="middle" stroke="#fff" stroke-width="2.6" stroke-linejoin="round" paint-order="stroke" >3,38<tspan dx="-1.25" letter-spacing="-0.95" textLength="8.9" lengthAdjust="spacingAndGlyphs">1</tspan></text>
<text transform="translate(1629.55,685.09) scale(1.100,1)" font-size="21.20" text-anchor="middle" stroke="#fff" stroke-width="2.6" stroke-linejoin="round" paint-order="stroke" >284</text>
<text transform="translate(1663.22,591.26) scale(1.100,1)" font-size="21.20" text-anchor="middle" stroke="#fff" stroke-width="2.6" stroke-linejoin="round" paint-order="stroke" ><tspan dx="-1.25" letter-spacing="-0.95" textLength="8.9" lengthAdjust="spacingAndGlyphs">1</tspan>,84<tspan dx="-1.25" letter-spacing="-0.95" textLength="8.9" lengthAdjust="spacingAndGlyphs">1</tspan></text>
<text transform="translate(1693.29,532.08) scale(1.100,1)" font-size="21.20" text-anchor="middle" stroke="#fff" stroke-width="2.6" stroke-linejoin="round" paint-order="stroke" >3,600</text>
<path d="M1420.00,474.10V728.50H1711.10" stroke="#333" stroke-width="1.2" fill="none"/>
<path d="M1411.20,478.40h8.8" stroke="#333" stroke-width="1.1"/>
<text transform="translate(1399.80,484.90) scale(1.100,1)" font-size="21.20" text-anchor="end" >4.0</text>
<path d="M1411.20,508.40h8.8" stroke="#333" stroke-width="1.1"/>
<text transform="translate(1399.80,514.90) scale(1.100,1)" font-size="21.20" text-anchor="end" >3.5</text>
<path d="M1411.20,538.50h8.8" stroke="#333" stroke-width="1.1"/>
<text transform="translate(1399.80,545.00) scale(1.100,1)" font-size="21.20" text-anchor="end" >3.0</text>
<path d="M1411.20,568.50h8.8" stroke="#333" stroke-width="1.1"/>
<text transform="translate(1399.80,575.00) scale(1.100,1)" font-size="21.20" text-anchor="end" >2.5</text>
<path d="M1411.20,598.50h8.8" stroke="#333" stroke-width="1.1"/>
<text transform="translate(1399.80,605.00) scale(1.100,1)" font-size="21.20" text-anchor="end" >2.0</text>
<path d="M1411.20,628.50h8.8" stroke="#333" stroke-width="1.1"/>
<text transform="translate(1399.80,635.00) scale(1.100,1)" font-size="21.20" text-anchor="end" >1.5</text>
<path d="M1411.20,658.60h8.8" stroke="#333" stroke-width="1.1"/>
<text transform="translate(1399.80,665.10) scale(1.100,1)" font-size="21.20" text-anchor="end" >1.0</text>
<path d="M1411.20,688.60h8.8" stroke="#333" stroke-width="1.1"/>
<text transform="translate(1399.80,695.10) scale(1.100,1)" font-size="21.20" text-anchor="end" >0.5</text>
<path d="M1411.20,718.60h8.8" stroke="#333" stroke-width="1.1"/>
<text transform="translate(1399.80,725.10) scale(1.100,1)" font-size="21.20" text-anchor="end" >0</text>
<text transform="translate(1443.70,742.80) rotate(-90)" font-size="21.30" text-anchor="end" textLength="37.7" lengthAdjust="spacingAndGlyphs" >PSE</text>
<text transform="translate(1476.11,742.80) rotate(-90)" font-size="21.30" text-anchor="end" textLength="37.1" lengthAdjust="spacingAndGlyphs" >SPL</text>
<text transform="translate(1508.52,742.80) rotate(-90)" font-size="21.30" text-anchor="end" textLength="60.7" lengthAdjust="spacingAndGlyphs" >NGGP</text>
<text transform="translate(1540.94,742.80) rotate(-90)" font-size="21.30" text-anchor="end" textLength="58.0" lengthAdjust="spacingAndGlyphs" >DGSR</text>
<text transform="translate(1573.35,742.80) rotate(-90)" font-size="21.30" text-anchor="end" textLength="49.9" lengthAdjust="spacingAndGlyphs" >PySR</text>
<text transform="translate(1605.76,742.80) rotate(-90)" font-size="21.30" text-anchor="end" textLength="43.6" lengthAdjust="spacingAndGlyphs" >BMS</text>
<text transform="translate(1638.17,742.80) rotate(-90)" font-size="21.30" text-anchor="end" textLength="51.1" lengthAdjust="spacingAndGlyphs" >TPSR</text>
<text transform="translate(1670.59,742.80) rotate(-90)" font-size="21.30" text-anchor="end" textLength="53.0" lengthAdjust="spacingAndGlyphs" >uDSR</text>
<text transform="translate(1703.00,742.80) rotate(-90)" font-size="21.30" text-anchor="end" textLength="76.7" lengthAdjust="spacingAndGlyphs" >Operon</text>
<text transform="translate(1566.05,461.90)" font-size="24.30" text-anchor="middle" textLength="27.5" lengthAdjust="spacingAndGlyphs" >R*</text>
<text transform="translate(1343.40,601.30) rotate(-90)" font-size="24.60" text-anchor="middle" textLength="151.0" lengthAdjust="spacingAndGlyphs" >Time (×10<tspan font-size="17" dy="-10.5">3</tspan><tspan dy="10.5"> s)</tspan></text>
</g>
<g id="p_e">
<clipPath id="cl_e"><rect x="123.60" y="899.00" width="291.10" height="255.50"/></clipPath>
<g clip-path="url(#cl_e)">
<path d="M139.91,898.08L142.96,907.48L152.85,907.48L144.85,913.28L147.90,922.68L139.91,916.87L131.92,922.68L134.97,913.28L126.98,907.48L136.86,907.48Z" fill="#909295" fill-opacity="0.8" stroke="#2a2a2a" stroke-width="0.9" stroke-linejoin="miter"/>
<circle cx="127.49" cy="911.68" r="4.3" fill="#D6635E" stroke="#676b70" stroke-width="1.3"/>
<circle cx="152.33" cy="911.68" r="4.3" fill="#D6635E" stroke="#676b70" stroke-width="1.3"/>
<circle cx="153.64" cy="911.68" r="4.3" fill="#D6635E" stroke="#676b70" stroke-width="1.3"/>
<circle cx="139.91" cy="911.68" r="4.3" fill="#D6635E" stroke="#676b70" stroke-width="1.3"/>
<path d="M172.12,911.68V1142.51M165.62,911.68h13M165.62,1142.51h13" stroke="#8e8e8e" stroke-width="1.25" fill="none"/>
<rect x="159.12" y="928.03" width="26.00" height="183.42" fill="#AA7FAC" stroke="#808080" stroke-width="1"/>
<path d="M172.27,1009.57L175.33,1018.97L185.21,1018.97L177.21,1024.78L180.27,1034.17L172.27,1028.37L164.28,1034.17L167.33,1024.78L159.34,1018.97L169.22,1018.97Z" fill="#909295" fill-opacity="0.8" stroke="#2a2a2a" stroke-width="0.9" stroke-linejoin="miter"/>
<circle cx="159.52" cy="911.68" r="4.3" fill="#B279B4" stroke="#676b70" stroke-width="1.3"/>
<circle cx="172.27" cy="911.68" r="4.3" fill="#B279B4" stroke="#676b70" stroke-width="1.3"/>
<circle cx="184.04" cy="911.68" r="4.3" fill="#B279B4" stroke="#676b70" stroke-width="1.3"/>
<circle cx="172.27" cy="924.10" r="4.3" fill="#B279B4" stroke="#676b70" stroke-width="1.3"/>
<circle cx="160.83" cy="937.18" r="4.3" fill="#B279B4" stroke="#676b70" stroke-width="1.3"/>
<circle cx="172.27" cy="937.18" r="4.3" fill="#B279B4" stroke="#676b70" stroke-width="1.3"/>
<circle cx="172.27" cy="968.90" r="4.3" fill="#B279B4" stroke="#676b70" stroke-width="1.3"/>
<circle cx="172.27" cy="1001.92" r="4.3" fill="#B279B4" stroke="#676b70" stroke-width="1.3"/>
<circle cx="160.83" cy="1022.19" r="4.3" fill="#B279B4" stroke="#676b70" stroke-width="1.3"/>
<circle cx="172.27" cy="1027.09" r="4.3" fill="#B279B4" stroke="#676b70" stroke-width="1.3"/>
<circle cx="172.27" cy="1075.48" r="4.3" fill="#B279B4" stroke="#676b70" stroke-width="1.3"/>
<circle cx="180.77" cy="1094.12" r="4.3" fill="#B279B4" stroke="#676b70" stroke-width="1.3"/>
<circle cx="160.18" cy="1100.66" r="4.3" fill="#B279B4" stroke="#676b70" stroke-width="1.3"/>
<circle cx="172.27" cy="1100.66" r="4.3" fill="#B279B4" stroke="#676b70" stroke-width="1.3"/>
<circle cx="172.27" cy="1114.72" r="4.3" fill="#B279B4" stroke="#676b70" stroke-width="1.3"/>
<circle cx="161.16" cy="1123.87" r="4.3" fill="#B279B4" stroke="#676b70" stroke-width="1.3"/>
<circle cx="172.27" cy="1129.43" r="4.3" fill="#B279B4" stroke="#676b70" stroke-width="1.3"/>
<circle cx="160.18" cy="1142.51" r="4.3" fill="#B279B4" stroke="#676b70" stroke-width="1.3"/>
<circle cx="172.27" cy="1142.51" r="4.3" fill="#B279B4" stroke="#676b70" stroke-width="1.3"/>
<circle cx="184.04" cy="1142.51" r="4.3" fill="#B279B4" stroke="#676b70" stroke-width="1.3"/>
<path d="M204.46,911.68V1039.19M197.96,911.68h13M197.96,1039.19h13" stroke="#8e8e8e" stroke-width="1.25" fill="none"/>
<rect x="191.46" y="911.68" width="26.00" height="77.81" fill="#6A93BC" stroke="#808080" stroke-width="1"/>
<path d="M204.96,1124.07l4.4,7l-4.4,7l-4.4,-7z" fill="#6b6b6b"/>
<path d="M204.96,1135.51l4.4,7l-4.4,7l-4.4,-7z" fill="#6b6b6b"/>
<path d="M204.96,950.72L208.02,960.12L217.90,960.12L209.90,965.92L212.96,975.32L204.96,969.51L196.97,975.32L200.02,965.92L192.03,960.12L201.91,960.12Z" fill="#909295" fill-opacity="0.8" stroke="#2a2a2a" stroke-width="0.9" stroke-linejoin="miter"/>
<circle cx="191.23" cy="911.68" r="4.3" fill="#5B91CE" stroke="#676b70" stroke-width="1.3"/>
<circle cx="217.38" cy="911.68" r="4.3" fill="#5B91CE" stroke="#676b70" stroke-width="1.3"/>
<circle cx="219.02" cy="911.68" r="4.3" fill="#5B91CE" stroke="#676b70" stroke-width="1.3"/>
<circle cx="194.50" cy="920.83" r="4.3" fill="#5B91CE" stroke="#676b70" stroke-width="1.3"/>
<circle cx="202.67" cy="913.64" r="4.3" fill="#5B91CE" stroke="#676b70" stroke-width="1.3"/>
<circle cx="205.29" cy="924.10" r="4.3" fill="#5B91CE" stroke="#676b70" stroke-width="1.3"/>
<circle cx="214.12" cy="919.20" r="4.3" fill="#5B91CE" stroke="#676b70" stroke-width="1.3"/>
<circle cx="200.06" cy="950.26" r="4.3" fill="#5B91CE" stroke="#676b70" stroke-width="1.3"/>
<circle cx="204.96" cy="959.09" r="4.3" fill="#5B91CE" stroke="#676b70" stroke-width="1.3"/>
<circle cx="193.85" cy="998.65" r="4.3" fill="#5B91CE" stroke="#676b70" stroke-width="1.3"/>
<circle cx="204.96" cy="1004.21" r="4.3" fill="#5B91CE" stroke="#676b70" stroke-width="1.3"/>
<circle cx="204.96" cy="1039.19" r="4.3" fill="#5B91CE" stroke="#676b70" stroke-width="1.3"/>
<circle cx="204.96" cy="1131.07" r="4.3" fill="#5B91CE" stroke="#676b70" stroke-width="1.3"/>
<circle cx="192.87" cy="1142.51" r="4.3" fill="#5B91CE" stroke="#676b70" stroke-width="1.3"/>
<circle cx="204.96" cy="1142.51" r="4.3" fill="#5B91CE" stroke="#676b70" stroke-width="1.3"/>
<path d="M236.81,911.68V1142.51M230.31,911.68h13M230.31,1142.51h13" stroke="#8e8e8e" stroke-width="1.25" fill="none"/>
<rect x="223.81" y="911.68" width="26.00" height="181.46" fill="#68ACA9" stroke="#808080" stroke-width="1"/>
<path d="M223.81,941.11h26" stroke="#808080" stroke-width="1"/>
<path d="M236.67,985.70L239.73,995.10L249.61,995.10L241.61,1000.91L244.67,1010.31L236.67,1004.50L228.68,1010.31L231.73,1000.91L223.74,995.10L233.62,995.10Z" fill="#909295" fill-opacity="0.8" stroke="#2a2a2a" stroke-width="0.9" stroke-linejoin="miter"/>
<circle cx="223.92" cy="911.68" r="4.3" fill="#60B7B3" stroke="#676b70" stroke-width="1.3"/>
<circle cx="236.67" cy="914.95" r="4.3" fill="#60B7B3" stroke="#676b70" stroke-width="1.3"/>
<circle cx="248.44" cy="911.68" r="4.3" fill="#60B7B3" stroke="#676b70" stroke-width="1.3"/>
<circle cx="250.07" cy="911.68" r="4.3" fill="#60B7B3" stroke="#676b70" stroke-width="1.3"/>
<circle cx="236.67" cy="968.24" r="4.3" fill="#60B7B3" stroke="#676b70" stroke-width="1.3"/>
<circle cx="236.67" cy="995.05" r="4.3" fill="#60B7B3" stroke="#676b70" stroke-width="1.3"/>
<circle cx="236.67" cy="1043.44" r="4.3" fill="#60B7B3" stroke="#676b70" stroke-width="1.3"/>
<circle cx="228.17" cy="1061.42" r="4.3" fill="#60B7B3" stroke="#676b70" stroke-width="1.3"/>
<circle cx="236.67" cy="1068.62" r="4.3" fill="#60B7B3" stroke="#676b70" stroke-width="1.3"/>
<circle cx="236.67" cy="1102.29" r="4.3" fill="#60B7B3" stroke="#676b70" stroke-width="1.3"/>
<circle cx="224.25" cy="1142.51" r="4.3" fill="#60B7B3" stroke="#676b70" stroke-width="1.3"/>
<circle cx="236.67" cy="1142.51" r="4.3" fill="#60B7B3" stroke="#676b70" stroke-width="1.3"/>
<circle cx="249.09" cy="1142.51" r="4.3" fill="#60B7B3" stroke="#676b70" stroke-width="1.3"/>
<path d="M269.15,911.68V1142.51M262.65,911.68h13M262.65,1142.51h13" stroke="#8e8e8e" stroke-width="1.25" fill="none"/>
<rect x="256.15" y="938.82" width="26.00" height="203.69" fill="#D9DBE9" stroke="#808080" stroke-width="1"/>
<path d="M256.15,1033.63h26" stroke="#808080" stroke-width="1"/>
<path d="M269.03,1018.40L272.09,1027.80L281.97,1027.80L273.97,1033.60L277.03,1043.00L269.03,1037.19L261.04,1043.00L264.09,1033.60L256.10,1027.80L265.98,1027.80Z" fill="#909295" fill-opacity="0.8" stroke="#2a2a2a" stroke-width="0.9" stroke-linejoin="miter"/>
<circle cx="256.61" cy="911.68" r="4.3" fill="#D9DBEC" stroke="#676b70" stroke-width="1.3"/>
<circle cx="269.03" cy="913.64" r="4.3" fill="#D9DBEC" stroke="#676b70" stroke-width="1.3"/>
<circle cx="281.78" cy="911.68" r="4.3" fill="#D9DBEC" stroke="#676b70" stroke-width="1.3"/>
<circle cx="261.52" cy="936.53" r="4.3" fill="#D9DBEC" stroke="#676b70" stroke-width="1.3"/>
<circle cx="269.03" cy="943.72" r="4.3" fill="#D9DBEC" stroke="#676b70" stroke-width="1.3"/>
<circle cx="257.59" cy="956.80" r="4.3" fill="#D9DBEC" stroke="#676b70" stroke-width="1.3"/>
<circle cx="269.03" cy="956.80" r="4.3" fill="#D9DBEC" stroke="#676b70" stroke-width="1.3"/>
<circle cx="269.03" cy="985.24" r="4.3" fill="#D9DBEC" stroke="#676b70" stroke-width="1.3"/>
<circle cx="269.03" cy="1016.30" r="4.3" fill="#D9DBEC" stroke="#676b70" stroke-width="1.3"/>
<circle cx="258.25" cy="1052.27" r="4.3" fill="#D9DBEC" stroke="#676b70" stroke-width="1.3"/>
<circle cx="269.03" cy="1059.79" r="4.3" fill="#D9DBEC" stroke="#676b70" stroke-width="1.3"/>
<circle cx="269.03" cy="1103.93" r="4.3" fill="#D9DBEC" stroke="#676b70" stroke-width="1.3"/>
<circle cx="269.03" cy="1125.18" r="4.3" fill="#D9DBEC" stroke="#676b70" stroke-width="1.3"/>
<circle cx="256.61" cy="1142.51" r="4.3" fill="#D9DBEC" stroke="#676b70" stroke-width="1.3"/>
<circle cx="269.03" cy="1142.51" r="4.3" fill="#D9DBEC" stroke="#676b70" stroke-width="1.3"/>
<circle cx="281.13" cy="1142.51" r="4.3" fill="#D9DBEC" stroke="#676b70" stroke-width="1.3"/>
<path d="M301.49,1116.03V1142.51M294.99,1116.03h13M294.99,1142.51h13" stroke="#8e8e8e" stroke-width="1.25" fill="none"/>
<rect x="288.49" y="1125.51" width="26.00" height="17.00" fill="#87C1E6" stroke="#808080" stroke-width="1"/>
<path d="M301.07,1062.60l4.4,7l-4.4,7l-4.4,-7z" fill="#6b6b6b"/>
<path d="M301.07,1081.89l4.4,7l-4.4,7l-4.4,-7z" fill="#6b6b6b"/>
<path d="M301.07,1087.12l4.4,7l-4.4,7l-4.4,-7z" fill="#6b6b6b"/>
<path d="M301.07,1118.45L304.12,1127.84L314.00,1127.84L306.01,1133.65L309.06,1143.05L301.07,1137.24L293.08,1143.05L296.13,1133.65L288.14,1127.84L298.02,1127.84Z" fill="#909295" fill-opacity="0.8" stroke="#2a2a2a" stroke-width="0.9" stroke-linejoin="miter"/>
<circle cx="301.07" cy="1069.60" r="4.3" fill="#76C6F7" stroke="#676b70" stroke-width="1.3"/>
<circle cx="290.94" cy="1089.22" r="4.3" fill="#76C6F7" stroke="#676b70" stroke-width="1.3"/>
<circle cx="301.07" cy="1094.12" r="4.3" fill="#76C6F7" stroke="#676b70" stroke-width="1.3"/>
<circle cx="293.22" cy="1116.03" r="4.3" fill="#76C6F7" stroke="#676b70" stroke-width="1.3"/>
<circle cx="301.07" cy="1123.55" r="4.3" fill="#76C6F7" stroke="#676b70" stroke-width="1.3"/>
<circle cx="288.32" cy="1130.08" r="4.3" fill="#76C6F7" stroke="#676b70" stroke-width="1.3"/>
<circle cx="296.49" cy="1133.35" r="4.3" fill="#76C6F7" stroke="#676b70" stroke-width="1.3"/>
<circle cx="308.26" cy="1131.72" r="4.3" fill="#76C6F7" stroke="#676b70" stroke-width="1.3"/>
<circle cx="313.82" cy="1135.97" r="4.3" fill="#76C6F7" stroke="#676b70" stroke-width="1.3"/>
<circle cx="288.32" cy="1140.55" r="4.3" fill="#76C6F7" stroke="#676b70" stroke-width="1.3"/>
<circle cx="301.07" cy="1142.51" r="4.3" fill="#76C6F7" stroke="#676b70" stroke-width="1.3"/>
<circle cx="312.84" cy="1142.51" r="4.3" fill="#76C6F7" stroke="#676b70" stroke-width="1.3"/>
<path d="M333.76,943.91l4.4,7l-4.4,7l-4.4,-7z" fill="#6b6b6b"/>
<path d="M333.76,970.07l4.4,7l-4.4,7l-4.4,-7z" fill="#6b6b6b"/>
<path d="M333.76,1060.96l4.4,7l-4.4,7l-4.4,-7z" fill="#6b6b6b"/>
<path d="M333.76,1108.31L336.81,1117.71L346.69,1117.71L338.70,1123.52L341.75,1132.91L333.76,1127.11L325.77,1132.91L328.82,1123.52L320.82,1117.71L330.71,1117.71Z" fill="#909295" fill-opacity="0.8" stroke="#2a2a2a" stroke-width="0.9" stroke-linejoin="miter"/>
<circle cx="333.76" cy="950.91" r="4.3" fill="#E9C857" stroke="#676b70" stroke-width="1.3"/>
<circle cx="333.76" cy="977.07" r="4.3" fill="#E9C857" stroke="#676b70" stroke-width="1.3"/>
<circle cx="333.76" cy="1067.96" r="4.3" fill="#E9C857" stroke="#676b70" stroke-width="1.3"/>
<circle cx="321.34" cy="1142.51" r="4.3" fill="#E9C857" stroke="#676b70" stroke-width="1.3"/>
<circle cx="333.76" cy="1142.51" r="4.3" fill="#E9C857" stroke="#676b70" stroke-width="1.3"/>
<circle cx="346.51" cy="1142.51" r="4.3" fill="#E9C857" stroke="#676b70" stroke-width="1.3"/>
<path d="M366.18,911.68V1142.51M359.68,911.68h13M359.68,1142.51h13" stroke="#8e8e8e" stroke-width="1.25" fill="none"/>
<rect x="353.18" y="1027.09" width="26.00" height="115.41" fill="#84B493" stroke="#808080" stroke-width="1"/>
<path d="M366.12,1061.88L369.18,1071.28L379.06,1071.28L371.06,1077.09L374.12,1086.49L366.12,1080.68L358.13,1086.49L361.18,1077.09L353.19,1071.28L363.07,1071.28Z" fill="#909295" fill-opacity="0.8" stroke="#2a2a2a" stroke-width="0.9" stroke-linejoin="miter"/>
<circle cx="353.05" cy="911.68" r="4.3" fill="#7DBB8F" stroke="#676b70" stroke-width="1.3"/>
<circle cx="366.12" cy="911.68" r="4.3" fill="#7DBB8F" stroke="#676b70" stroke-width="1.3"/>
<circle cx="378.22" cy="911.68" r="4.3" fill="#7DBB8F" stroke="#676b70" stroke-width="1.3"/>
<circle cx="366.12" cy="969.22" r="4.3" fill="#7DBB8F" stroke="#676b70" stroke-width="1.3"/>
<circle cx="366.12" cy="1004.21" r="4.3" fill="#7DBB8F" stroke="#676b70" stroke-width="1.3"/>
<circle cx="366.12" cy="1050.63" r="4.3" fill="#7DBB8F" stroke="#676b70" stroke-width="1.3"/>
<circle cx="366.12" cy="1061.42" r="4.3" fill="#7DBB8F" stroke="#676b70" stroke-width="1.3"/>
<circle cx="354.03" cy="1072.87" r="4.3" fill="#7DBB8F" stroke="#676b70" stroke-width="1.3"/>
<circle cx="366.12" cy="1072.87" r="4.3" fill="#7DBB8F" stroke="#676b70" stroke-width="1.3"/>
<circle cx="354.68" cy="1131.07" r="4.3" fill="#7DBB8F" stroke="#676b70" stroke-width="1.3"/>
<circle cx="366.12" cy="1131.07" r="4.3" fill="#7DBB8F" stroke="#676b70" stroke-width="1.3"/>
<circle cx="353.05" cy="1142.51" r="4.3" fill="#7DBB8F" stroke="#676b70" stroke-width="1.3"/>
<circle cx="366.12" cy="1142.51" r="4.3" fill="#7DBB8F" stroke="#676b70" stroke-width="1.3"/>
<circle cx="378.22" cy="1142.51" r="4.3" fill="#7DBB8F" stroke="#676b70" stroke-width="1.3"/>
<path d="M398.16,904.68l4.4,7l-4.4,7l-4.4,-7z" fill="#6b6b6b"/>
<path d="M398.16,939.34l4.4,7l-4.4,7l-4.4,-7z" fill="#6b6b6b"/>
<path d="M398.16,1078.29l4.4,7l-4.4,7l-4.4,-7z" fill="#6b6b6b"/>
<path d="M398.16,1100.20l4.4,7l-4.4,7l-4.4,-7z" fill="#6b6b6b"/>
<path d="M398.16,1106.68L401.21,1116.07L411.09,1116.07L403.10,1121.88L406.15,1131.28L398.16,1125.47L390.16,1131.28L393.22,1121.88L385.22,1116.07L395.10,1116.07Z" fill="#909295" fill-opacity="0.8" stroke="#2a2a2a" stroke-width="0.9" stroke-linejoin="miter"/>
<circle cx="398.16" cy="911.68" r="4.3" fill="#EC9BF6" stroke="#676b70" stroke-width="1.3"/>
<circle cx="398.16" cy="946.34" r="4.3" fill="#EC9BF6" stroke="#676b70" stroke-width="1.3"/>
<circle cx="398.16" cy="1085.29" r="4.3" fill="#EC9BF6" stroke="#676b70" stroke-width="1.3"/>
<circle cx="398.16" cy="1107.20" r="4.3" fill="#EC9BF6" stroke="#676b70" stroke-width="1.3"/>
<circle cx="385.74" cy="1142.51" r="4.3" fill="#EC9BF6" stroke="#676b70" stroke-width="1.3"/>
<circle cx="398.16" cy="1142.51" r="4.3" fill="#EC9BF6" stroke="#676b70" stroke-width="1.3"/>
<circle cx="410.91" cy="1142.51" r="4.3" fill="#EC9BF6" stroke="#676b70" stroke-width="1.3"/>
</g>
<text transform="translate(140.56,940.71) scale(1.100,1)" font-size="21.20" text-anchor="middle" stroke="#fff" stroke-width="2.6" stroke-linejoin="round" paint-order="stroke" ><tspan dx="-1.25" letter-spacing="-0.95" textLength="8.9" lengthAdjust="spacingAndGlyphs">1</tspan>00</text>
<text transform="translate(172.27,1054.17) scale(1.100,1)" font-size="21.20" text-anchor="middle" stroke="#fff" stroke-width="2.6" stroke-linejoin="round" paint-order="stroke" >5<tspan dx="-1.25" letter-spacing="-0.95" textLength="8.9" lengthAdjust="spacingAndGlyphs">1</tspan></text>
<text transform="translate(204.96,991.39) scale(1.100,1)" font-size="21.20" text-anchor="middle" stroke="#fff" stroke-width="2.6" stroke-linejoin="round" paint-order="stroke" >78</text>
<text transform="translate(236.67,1028.99) scale(1.100,1)" font-size="21.20" text-anchor="middle" stroke="#fff" stroke-width="2.6" stroke-linejoin="round" paint-order="stroke" >62</text>
<text transform="translate(269.03,1061.03) scale(1.100,1)" font-size="21.20" text-anchor="middle" stroke="#fff" stroke-width="2.6" stroke-linejoin="round" paint-order="stroke" >48</text>
<text transform="translate(301.07,1114.00) scale(1.100,1)" font-size="21.20" text-anchor="middle" stroke="#fff" stroke-width="2.6" stroke-linejoin="round" paint-order="stroke" >5</text>
<text transform="translate(333.76,1105.17) scale(1.100,1)" font-size="21.20" text-anchor="middle" stroke="#fff" stroke-width="2.6" stroke-linejoin="round" paint-order="stroke" >9</text>
<text transform="translate(366.12,1102.55) scale(1.100,1)" font-size="21.20" text-anchor="middle" stroke="#fff" stroke-width="2.6" stroke-linejoin="round" paint-order="stroke" >30</text>
<path d="M123.60,900.80V1154.50H414.70" stroke="#333" stroke-width="1.2" fill="none"/>
<path d="M114.80,911.50h8.8" stroke="#333" stroke-width="1.1"/>
<text transform="translate(104.60,918.00) scale(1.100,1)" font-size="21.20" text-anchor="end" >100</text>
<path d="M114.80,957.80h8.8" stroke="#333" stroke-width="1.1"/>
<text transform="translate(104.60,964.30) scale(1.100,1)" font-size="21.20" text-anchor="end" >80</text>
<path d="M114.80,1004.10h8.8" stroke="#333" stroke-width="1.1"/>
<text transform="translate(104.60,1010.60) scale(1.100,1)" font-size="21.20" text-anchor="end" >60</text>
<path d="M114.80,1050.40h8.8" stroke="#333" stroke-width="1.1"/>
<text transform="translate(104.60,1056.90) scale(1.100,1)" font-size="21.20" text-anchor="end" >40</text>
<path d="M114.80,1096.70h8.8" stroke="#333" stroke-width="1.1"/>
<text transform="translate(104.60,1103.20) scale(1.100,1)" font-size="21.20" text-anchor="end" >20</text>
<path d="M114.80,1143.00h8.8" stroke="#333" stroke-width="1.1"/>
<text transform="translate(104.60,1149.50) scale(1.100,1)" font-size="21.20" text-anchor="end" >0</text>
<text transform="translate(150.50,1168.80) rotate(-90)" font-size="21.30" text-anchor="end" textLength="37.7" lengthAdjust="spacingAndGlyphs" >PSE</text>
<text transform="translate(182.39,1168.80) rotate(-90)" font-size="21.30" text-anchor="end" textLength="37.1" lengthAdjust="spacingAndGlyphs" >SPL</text>
<text transform="translate(214.28,1168.80) rotate(-90)" font-size="21.30" text-anchor="end" textLength="60.7" lengthAdjust="spacingAndGlyphs" >NGGP</text>
<text transform="translate(246.16,1168.80) rotate(-90)" font-size="21.30" text-anchor="end" textLength="58.0" lengthAdjust="spacingAndGlyphs" >DGSR</text>
<text transform="translate(278.05,1168.80) rotate(-90)" font-size="21.30" text-anchor="end" textLength="49.9" lengthAdjust="spacingAndGlyphs" >PySR</text>
<text transform="translate(309.94,1168.80) rotate(-90)" font-size="21.30" text-anchor="end" textLength="43.6" lengthAdjust="spacingAndGlyphs" >BMS</text>
<text transform="translate(341.83,1168.80) rotate(-90)" font-size="21.30" text-anchor="end" textLength="51.1" lengthAdjust="spacingAndGlyphs" >TPSR</text>
<text transform="translate(373.71,1168.80) rotate(-90)" font-size="21.30" text-anchor="end" textLength="53.0" lengthAdjust="spacingAndGlyphs" >uDSR</text>
<text transform="translate(405.60,1168.80) rotate(-90)" font-size="21.30" text-anchor="end" textLength="76.7" lengthAdjust="spacingAndGlyphs" >Operon</text>
<text transform="translate(269.65,885.80)" font-size="24.30" text-anchor="middle" textLength="120.5" lengthAdjust="spacingAndGlyphs" >Livermore</text>
<text transform="translate(44.10,1024.95) rotate(-90)" font-size="24.60" text-anchor="middle" textLength="211.5" lengthAdjust="spacingAndGlyphs" >Recovery rate (%)</text>
<text transform="translate(27.20,886.10) scale(1.100,1)" font-size="35.50" text-anchor="start" font-weight="bold" stroke="#000" stroke-width="1.1">e</text>
</g>
<g id="p_e2">
<clipPath id="cl_e2"><rect x="550.00" y="899.00" width="291.10" height="255.50"/></clipPath>
<g clip-path="url(#cl_e2)">
<path d="M565.85,1136.10L568.91,1145.50L578.79,1145.50L570.79,1151.31L573.85,1160.70L565.85,1154.90L557.86,1160.70L560.91,1151.31L552.92,1145.50L562.80,1145.50Z" fill="#909295" fill-opacity="0.8" stroke="#2a2a2a" stroke-width="0.9" stroke-linejoin="miter"/>
<circle cx="553.43" cy="1149.70" r="4.3" fill="#D6635E" stroke="#676b70" stroke-width="1.3"/>
<circle cx="562.59" cy="1141.53" r="4.3" fill="#D6635E" stroke="#676b70" stroke-width="1.3"/>
<circle cx="565.85" cy="1151.34" r="4.3" fill="#D6635E" stroke="#676b70" stroke-width="1.3"/>
<circle cx="578.28" cy="1149.70" r="4.3" fill="#D6635E" stroke="#676b70" stroke-width="1.3"/>
<path d="M598.52,1009.11V1149.70M592.02,1009.11h13M592.02,1149.70h13" stroke="#8e8e8e" stroke-width="1.25" fill="none"/>
<rect x="585.52" y="1058.15" width="26.00" height="37.60" fill="#AA7FAC" stroke="#808080" stroke-width="1"/>
<path d="M598.22,969.42l4.4,7l-4.4,7l-4.4,-7z" fill="#6b6b6b"/>
<path d="M598.22,1060.90L601.27,1070.30L611.15,1070.30L603.16,1076.11L606.21,1085.51L598.22,1079.70L590.22,1085.51L593.28,1076.11L585.28,1070.30L595.16,1070.30Z" fill="#909295" fill-opacity="0.8" stroke="#2a2a2a" stroke-width="0.9" stroke-linejoin="miter"/>
<circle cx="598.22" cy="976.42" r="4.3" fill="#B279B4" stroke="#676b70" stroke-width="1.3"/>
<circle cx="598.22" cy="1009.11" r="4.3" fill="#B279B4" stroke="#676b70" stroke-width="1.3"/>
<circle cx="586.45" cy="1024.81" r="4.3" fill="#B279B4" stroke="#676b70" stroke-width="1.3"/>
<circle cx="598.22" cy="1024.81" r="4.3" fill="#B279B4" stroke="#676b70" stroke-width="1.3"/>
<circle cx="586.45" cy="1059.79" r="4.3" fill="#B279B4" stroke="#676b70" stroke-width="1.3"/>
<circle cx="609.99" cy="1054.89" r="4.3" fill="#B279B4" stroke="#676b70" stroke-width="1.3"/>
<circle cx="598.22" cy="1062.41" r="4.3" fill="#B279B4" stroke="#676b70" stroke-width="1.3"/>
<circle cx="606.72" cy="1059.79" r="4.3" fill="#B279B4" stroke="#676b70" stroke-width="1.3"/>
<circle cx="586.45" cy="1069.60" r="4.3" fill="#B279B4" stroke="#676b70" stroke-width="1.3"/>
<circle cx="593.64" cy="1069.60" r="4.3" fill="#B279B4" stroke="#676b70" stroke-width="1.3"/>
<circle cx="605.08" cy="1069.60" r="4.3" fill="#B279B4" stroke="#676b70" stroke-width="1.3"/>
<circle cx="611.62" cy="1067.31" r="4.3" fill="#B279B4" stroke="#676b70" stroke-width="1.3"/>
<circle cx="593.64" cy="1077.77" r="4.3" fill="#B279B4" stroke="#676b70" stroke-width="1.3"/>
<circle cx="586.45" cy="1085.95" r="4.3" fill="#B279B4" stroke="#676b70" stroke-width="1.3"/>
<circle cx="598.22" cy="1085.95" r="4.3" fill="#B279B4" stroke="#676b70" stroke-width="1.3"/>
<circle cx="591.03" cy="1097.39" r="4.3" fill="#B279B4" stroke="#676b70" stroke-width="1.3"/>
<circle cx="598.22" cy="1105.56" r="4.3" fill="#B279B4" stroke="#676b70" stroke-width="1.3"/>
<circle cx="586.45" cy="1120.93" r="4.3" fill="#B279B4" stroke="#676b70" stroke-width="1.3"/>
<circle cx="598.22" cy="1121.91" r="4.3" fill="#B279B4" stroke="#676b70" stroke-width="1.3"/>
<circle cx="586.45" cy="1146.43" r="4.3" fill="#B279B4" stroke="#676b70" stroke-width="1.3"/>
<circle cx="598.22" cy="1149.70" r="4.3" fill="#B279B4" stroke="#676b70" stroke-width="1.3"/>
<path d="M630.58,1126.29L633.63,1135.69L643.51,1135.69L635.52,1141.50L638.57,1150.90L630.58,1145.09L622.59,1150.90L625.64,1141.50L617.65,1135.69L627.53,1135.69Z" fill="#909295" fill-opacity="0.8" stroke="#2a2a2a" stroke-width="0.9" stroke-linejoin="miter"/>
<circle cx="618.16" cy="1113.74" r="4.3" fill="#5B91CE" stroke="#676b70" stroke-width="1.3"/>
<circle cx="643.98" cy="1120.28" r="4.3" fill="#5B91CE" stroke="#676b70" stroke-width="1.3"/>
<circle cx="618.16" cy="1136.30" r="4.3" fill="#5B91CE" stroke="#676b70" stroke-width="1.3"/>
<circle cx="618.16" cy="1142.84" r="4.3" fill="#5B91CE" stroke="#676b70" stroke-width="1.3"/>
<circle cx="618.16" cy="1148.07" r="4.3" fill="#5B91CE" stroke="#676b70" stroke-width="1.3"/>
<circle cx="642.02" cy="1132.05" r="4.3" fill="#5B91CE" stroke="#676b70" stroke-width="1.3"/>
<circle cx="643.00" cy="1142.84" r="4.3" fill="#5B91CE" stroke="#676b70" stroke-width="1.3"/>
<circle cx="643.00" cy="1148.07" r="4.3" fill="#5B91CE" stroke="#676b70" stroke-width="1.3"/>
<circle cx="630.58" cy="1125.51" r="4.3" fill="#5B91CE" stroke="#676b70" stroke-width="1.3"/>
<circle cx="630.58" cy="1138.59" r="4.3" fill="#5B91CE" stroke="#676b70" stroke-width="1.3"/>
<circle cx="619.14" cy="1122.56" r="4.3" fill="#5B91CE" stroke="#676b70" stroke-width="1.3"/>
<circle cx="630.58" cy="1123.55" r="4.3" fill="#5B91CE" stroke="#676b70" stroke-width="1.3"/>
<circle cx="642.02" cy="1121.26" r="4.3" fill="#5B91CE" stroke="#676b70" stroke-width="1.3"/>
<circle cx="619.14" cy="1135.97" r="4.3" fill="#5B91CE" stroke="#676b70" stroke-width="1.3"/>
<circle cx="630.58" cy="1135.97" r="4.3" fill="#5B91CE" stroke="#676b70" stroke-width="1.3"/>
<circle cx="642.02" cy="1135.97" r="4.3" fill="#5B91CE" stroke="#676b70" stroke-width="1.3"/>
<circle cx="618.16" cy="1143.16" r="4.3" fill="#5B91CE" stroke="#676b70" stroke-width="1.3"/>
<circle cx="630.58" cy="1143.16" r="4.3" fill="#5B91CE" stroke="#676b70" stroke-width="1.3"/>
<circle cx="642.67" cy="1143.16" r="4.3" fill="#5B91CE" stroke="#676b70" stroke-width="1.3"/>
<circle cx="619.14" cy="1148.07" r="4.3" fill="#5B91CE" stroke="#676b70" stroke-width="1.3"/>
<circle cx="630.58" cy="1149.70" r="4.3" fill="#5B91CE" stroke="#676b70" stroke-width="1.3"/>
<circle cx="642.02" cy="1148.07" r="4.3" fill="#5B91CE" stroke="#676b70" stroke-width="1.3"/>
<rect x="650.21" y="1112.76" width="26.00" height="36.29" fill="#68ACA9" stroke="#808080" stroke-width="1"/>
<path d="M662.62,1118.12L665.67,1127.52L675.55,1127.52L667.56,1133.32L670.61,1142.72L662.62,1136.91L654.62,1142.72L657.67,1133.32L649.68,1127.52L659.56,1127.52Z" fill="#909295" fill-opacity="0.8" stroke="#2a2a2a" stroke-width="0.9" stroke-linejoin="miter"/>
<circle cx="652.48" cy="1105.56" r="4.3" fill="#60B7B3" stroke="#676b70" stroke-width="1.3"/>
<circle cx="674.71" cy="1103.93" r="4.3" fill="#60B7B3" stroke="#676b70" stroke-width="1.3"/>
<circle cx="654.12" cy="1113.74" r="4.3" fill="#60B7B3" stroke="#676b70" stroke-width="1.3"/>
<circle cx="665.56" cy="1112.10" r="4.3" fill="#60B7B3" stroke="#676b70" stroke-width="1.3"/>
<circle cx="675.36" cy="1115.37" r="4.3" fill="#60B7B3" stroke="#676b70" stroke-width="1.3"/>
<circle cx="663.27" cy="1122.56" r="4.3" fill="#60B7B3" stroke="#676b70" stroke-width="1.3"/>
<circle cx="650.19" cy="1143.16" r="4.3" fill="#60B7B3" stroke="#676b70" stroke-width="1.3"/>
<circle cx="675.36" cy="1143.16" r="4.3" fill="#60B7B3" stroke="#676b70" stroke-width="1.3"/>
<circle cx="663.27" cy="1150.68" r="4.3" fill="#60B7B3" stroke="#676b70" stroke-width="1.3"/>
<circle cx="652.48" cy="1149.70" r="4.3" fill="#60B7B3" stroke="#676b70" stroke-width="1.3"/>
<circle cx="674.71" cy="1149.70" r="4.3" fill="#60B7B3" stroke="#676b70" stroke-width="1.3"/>
<path d="M695.55,989.49V1151.66M689.05,989.49h13M689.05,1151.66h13" stroke="#8e8e8e" stroke-width="1.25" fill="none"/>
<rect x="682.55" y="1062.41" width="26.00" height="89.26" fill="#D9DBE9" stroke="#808080" stroke-width="1"/>
<path d="M695.63,905.66l4.4,7l-4.4,7l-4.4,-7z" fill="#6b6b6b"/>
<path d="M695.63,891.93l4.4,7l-4.4,7l-4.4,-7z" fill="#6b6b6b"/>
<path d="M695.63,1087.06L698.68,1096.46L708.57,1096.46L700.57,1102.26L703.63,1111.66L695.63,1105.85L687.64,1111.66L690.69,1102.26L682.70,1096.46L692.58,1096.46Z" fill="#909295" fill-opacity="0.8" stroke="#2a2a2a" stroke-width="0.9" stroke-linejoin="miter"/>
<circle cx="695.63" cy="912.66" r="4.3" fill="#D9DBEC" stroke="#676b70" stroke-width="1.3"/>
<circle cx="695.63" cy="989.49" r="4.3" fill="#D9DBEC" stroke="#676b70" stroke-width="1.3"/>
<circle cx="684.52" cy="1053.25" r="4.3" fill="#D9DBEC" stroke="#676b70" stroke-width="1.3"/>
<circle cx="703.48" cy="1051.62" r="4.3" fill="#D9DBEC" stroke="#676b70" stroke-width="1.3"/>
<circle cx="695.63" cy="1059.79" r="4.3" fill="#D9DBEC" stroke="#676b70" stroke-width="1.3"/>
<circle cx="695.63" cy="1086.60" r="4.3" fill="#D9DBEC" stroke="#676b70" stroke-width="1.3"/>
<circle cx="683.54" cy="1133.35" r="4.3" fill="#D9DBEC" stroke="#676b70" stroke-width="1.3"/>
<circle cx="690.73" cy="1141.53" r="4.3" fill="#D9DBEC" stroke="#676b70" stroke-width="1.3"/>
<circle cx="702.50" cy="1140.87" r="4.3" fill="#D9DBEC" stroke="#676b70" stroke-width="1.3"/>
<circle cx="709.03" cy="1143.16" r="4.3" fill="#D9DBEC" stroke="#676b70" stroke-width="1.3"/>
<circle cx="682.56" cy="1146.43" r="4.3" fill="#D9DBEC" stroke="#676b70" stroke-width="1.3"/>
<circle cx="695.63" cy="1149.70" r="4.3" fill="#D9DBEC" stroke="#676b70" stroke-width="1.3"/>
<circle cx="708.05" cy="1149.70" r="4.3" fill="#D9DBEC" stroke="#676b70" stroke-width="1.3"/>
<path d="M727.89,937.84V1077.77M721.39,937.84h13M721.39,1077.77h13" stroke="#8e8e8e" stroke-width="1.25" fill="none"/>
<rect x="714.89" y="981.32" width="26.00" height="49.04" fill="#87C1E6" stroke="#808080" stroke-width="1"/>
<path d="M714.89,997.67h26" stroke="#808080" stroke-width="1"/>
<path d="M727.67,990.61L730.72,1000.00L740.60,1000.00L732.61,1005.81L735.66,1015.21L727.67,1009.40L719.67,1015.21L722.73,1005.81L714.73,1000.00L724.61,1000.00Z" fill="#909295" fill-opacity="0.8" stroke="#2a2a2a" stroke-width="0.9" stroke-linejoin="miter"/>
<circle cx="717.21" cy="939.47" r="4.3" fill="#76C6F7" stroke="#676b70" stroke-width="1.3"/>
<circle cx="736.82" cy="937.84" r="4.3" fill="#76C6F7" stroke="#676b70" stroke-width="1.3"/>
<circle cx="727.67" cy="943.72" r="4.3" fill="#76C6F7" stroke="#676b70" stroke-width="1.3"/>
<circle cx="714.59" cy="967.59" r="4.3" fill="#76C6F7" stroke="#676b70" stroke-width="1.3"/>
<circle cx="740.74" cy="967.59" r="4.3" fill="#76C6F7" stroke="#676b70" stroke-width="1.3"/>
<circle cx="721.13" cy="976.42" r="4.3" fill="#76C6F7" stroke="#676b70" stroke-width="1.3"/>
<circle cx="734.21" cy="974.78" r="4.3" fill="#76C6F7" stroke="#676b70" stroke-width="1.3"/>
<circle cx="717.86" cy="992.76" r="4.3" fill="#76C6F7" stroke="#676b70" stroke-width="1.3"/>
<circle cx="727.67" cy="986.22" r="4.3" fill="#76C6F7" stroke="#676b70" stroke-width="1.3"/>
<circle cx="736.82" cy="994.40" r="4.3" fill="#76C6F7" stroke="#676b70" stroke-width="1.3"/>
<circle cx="721.13" cy="1002.57" r="4.3" fill="#76C6F7" stroke="#676b70" stroke-width="1.3"/>
<circle cx="729.30" cy="1004.21" r="4.3" fill="#76C6F7" stroke="#676b70" stroke-width="1.3"/>
<circle cx="727.67" cy="1012.38" r="4.3" fill="#76C6F7" stroke="#676b70" stroke-width="1.3"/>
<circle cx="715.25" cy="1030.36" r="4.3" fill="#76C6F7" stroke="#676b70" stroke-width="1.3"/>
<circle cx="738.13" cy="1033.63" r="4.3" fill="#76C6F7" stroke="#676b70" stroke-width="1.3"/>
<circle cx="727.67" cy="1039.52" r="4.3" fill="#76C6F7" stroke="#676b70" stroke-width="1.3"/>
<circle cx="716.23" cy="1059.79" r="4.3" fill="#76C6F7" stroke="#676b70" stroke-width="1.3"/>
<circle cx="727.67" cy="1062.08" r="4.3" fill="#76C6F7" stroke="#676b70" stroke-width="1.3"/>
<circle cx="727.67" cy="1077.77" r="4.3" fill="#76C6F7" stroke="#676b70" stroke-width="1.3"/>
<path d="M759.70,1126.29L762.76,1135.69L772.64,1135.69L764.64,1141.50L767.70,1150.90L759.70,1145.09L751.71,1150.90L754.76,1141.50L746.77,1135.69L756.65,1135.69Z" fill="#909295" fill-opacity="0.8" stroke="#2a2a2a" stroke-width="0.9" stroke-linejoin="miter"/>
<circle cx="747.61" cy="1136.30" r="4.3" fill="#E9C857" stroke="#676b70" stroke-width="1.3"/>
<circle cx="747.61" cy="1142.84" r="4.3" fill="#E9C857" stroke="#676b70" stroke-width="1.3"/>
<circle cx="747.61" cy="1147.09" r="4.3" fill="#E9C857" stroke="#676b70" stroke-width="1.3"/>
<circle cx="747.61" cy="1150.36" r="4.3" fill="#E9C857" stroke="#676b70" stroke-width="1.3"/>
<circle cx="773.43" cy="1142.84" r="4.3" fill="#E9C857" stroke="#676b70" stroke-width="1.3"/>
<circle cx="773.43" cy="1147.09" r="4.3" fill="#E9C857" stroke="#676b70" stroke-width="1.3"/>
<circle cx="773.43" cy="1150.36" r="4.3" fill="#E9C857" stroke="#676b70" stroke-width="1.3"/>
<circle cx="760.03" cy="1127.80" r="4.3" fill="#E9C857" stroke="#676b70" stroke-width="1.3"/>
<circle cx="768.86" cy="1131.07" r="4.3" fill="#E9C857" stroke="#676b70" stroke-width="1.3"/>
<circle cx="760.03" cy="1138.59" r="4.3" fill="#E9C857" stroke="#676b70" stroke-width="1.3"/>
<circle cx="760.03" cy="1150.36" r="4.3" fill="#E9C857" stroke="#676b70" stroke-width="1.3"/>
<circle cx="752.84" cy="1142.84" r="4.3" fill="#E9C857" stroke="#676b70" stroke-width="1.3"/>
<circle cx="747.28" cy="1133.35" r="4.3" fill="#E9C857" stroke="#676b70" stroke-width="1.3"/>
<circle cx="759.70" cy="1125.18" r="4.3" fill="#E9C857" stroke="#676b70" stroke-width="1.3"/>
<circle cx="768.53" cy="1131.72" r="4.3" fill="#E9C857" stroke="#676b70" stroke-width="1.3"/>
<circle cx="747.28" cy="1143.16" r="4.3" fill="#E9C857" stroke="#676b70" stroke-width="1.3"/>
<circle cx="759.70" cy="1138.26" r="4.3" fill="#E9C857" stroke="#676b70" stroke-width="1.3"/>
<circle cx="772.78" cy="1141.53" r="4.3" fill="#E9C857" stroke="#676b70" stroke-width="1.3"/>
<circle cx="747.28" cy="1148.72" r="4.3" fill="#E9C857" stroke="#676b70" stroke-width="1.3"/>
<circle cx="759.70" cy="1149.70" r="4.3" fill="#E9C857" stroke="#676b70" stroke-width="1.3"/>
<circle cx="772.78" cy="1148.07" r="4.3" fill="#E9C857" stroke="#676b70" stroke-width="1.3"/>
<path d="M792.58,1059.79V1112.10M786.08,1059.79h13M786.08,1112.10h13" stroke="#8e8e8e" stroke-width="1.25" fill="none"/>
<rect x="779.58" y="1062.41" width="26.00" height="25.18" fill="#84B493" stroke="#808080" stroke-width="1"/>
<path d="M792.07,1137.14l4.4,7l-4.4,7l-4.4,-7z" fill="#6b6b6b"/>
<path d="M792.07,1065.81L795.12,1075.20L805.00,1075.20L797.01,1081.01L800.06,1090.41L792.07,1084.60L784.07,1090.41L787.12,1081.01L779.13,1075.20L789.01,1075.20Z" fill="#909295" fill-opacity="0.8" stroke="#2a2a2a" stroke-width="0.9" stroke-linejoin="miter"/>
<circle cx="779.64" cy="1059.79" r="4.3" fill="#7DBB8F" stroke="#676b70" stroke-width="1.3"/>
<circle cx="779.64" cy="1063.06" r="4.3" fill="#7DBB8F" stroke="#676b70" stroke-width="1.3"/>
<circle cx="779.64" cy="1066.33" r="4.3" fill="#7DBB8F" stroke="#676b70" stroke-width="1.3"/>
<circle cx="779.64" cy="1069.60" r="4.3" fill="#7DBB8F" stroke="#676b70" stroke-width="1.3"/>
<circle cx="780.95" cy="1072.87" r="4.3" fill="#7DBB8F" stroke="#676b70" stroke-width="1.3"/>
<circle cx="805.47" cy="1059.79" r="4.3" fill="#7DBB8F" stroke="#676b70" stroke-width="1.3"/>
<circle cx="805.47" cy="1063.06" r="4.3" fill="#7DBB8F" stroke="#676b70" stroke-width="1.3"/>
<circle cx="805.47" cy="1066.33" r="4.3" fill="#7DBB8F" stroke="#676b70" stroke-width="1.3"/>
<circle cx="806.78" cy="1069.60" r="4.3" fill="#7DBB8F" stroke="#676b70" stroke-width="1.3"/>
<circle cx="779.97" cy="1060.77" r="4.3" fill="#7DBB8F" stroke="#676b70" stroke-width="1.3"/>
<circle cx="805.47" cy="1059.79" r="4.3" fill="#7DBB8F" stroke="#676b70" stroke-width="1.3"/>
<circle cx="779.97" cy="1067.96" r="4.3" fill="#7DBB8F" stroke="#676b70" stroke-width="1.3"/>
<circle cx="792.07" cy="1066.33" r="4.3" fill="#7DBB8F" stroke="#676b70" stroke-width="1.3"/>
<circle cx="802.85" cy="1069.60" r="4.3" fill="#7DBB8F" stroke="#676b70" stroke-width="1.3"/>
<circle cx="779.97" cy="1072.87" r="4.3" fill="#7DBB8F" stroke="#676b70" stroke-width="1.3"/>
<circle cx="806.12" cy="1067.96" r="4.3" fill="#7DBB8F" stroke="#676b70" stroke-width="1.3"/>
<circle cx="792.07" cy="1077.77" r="4.3" fill="#7DBB8F" stroke="#676b70" stroke-width="1.3"/>
<circle cx="781.60" cy="1088.56" r="4.3" fill="#7DBB8F" stroke="#676b70" stroke-width="1.3"/>
<circle cx="802.85" cy="1087.58" r="4.3" fill="#7DBB8F" stroke="#676b70" stroke-width="1.3"/>
<circle cx="792.07" cy="1094.12" r="4.3" fill="#7DBB8F" stroke="#676b70" stroke-width="1.3"/>
<circle cx="783.24" cy="1104.91" r="4.3" fill="#7DBB8F" stroke="#676b70" stroke-width="1.3"/>
<circle cx="800.56" cy="1104.58" r="4.3" fill="#7DBB8F" stroke="#676b70" stroke-width="1.3"/>
<circle cx="792.07" cy="1112.10" r="4.3" fill="#7DBB8F" stroke="#676b70" stroke-width="1.3"/>
<circle cx="792.07" cy="1144.14" r="4.3" fill="#7DBB8F" stroke="#676b70" stroke-width="1.3"/>
<path d="M824.75,967.07L827.81,976.46L837.69,976.46L829.70,982.27L832.75,991.67L824.75,985.86L816.76,991.67L819.81,982.27L811.82,976.46L821.70,976.46Z" fill="#909295" fill-opacity="0.8" stroke="#2a2a2a" stroke-width="0.9" stroke-linejoin="miter"/>
<circle cx="812.01" cy="980.67" r="4.3" fill="#EC9BF6" stroke="#676b70" stroke-width="1.3"/>
<circle cx="824.75" cy="980.67" r="4.3" fill="#EC9BF6" stroke="#676b70" stroke-width="1.3"/>
<circle cx="837.18" cy="980.67" r="4.3" fill="#EC9BF6" stroke="#676b70" stroke-width="1.3"/>
</g>
<text transform="translate(566.84,1131.33) scale(1.100,1)" font-size="21.20" text-anchor="middle" stroke="#fff" stroke-width="2.6" stroke-linejoin="round" paint-order="stroke" >49</text>
<text transform="translate(598.22,1046.97) scale(1.100,1)" font-size="21.20" text-anchor="middle" stroke="#fff" stroke-width="2.6" stroke-linejoin="round" paint-order="stroke" ><tspan dx="-1.25" letter-spacing="-0.95" textLength="8.9" lengthAdjust="spacingAndGlyphs">1</tspan>,658</text>
<text transform="translate(630.58,1120.54) scale(1.100,1)" font-size="21.20" text-anchor="middle" stroke="#fff" stroke-width="2.6" stroke-linejoin="round" paint-order="stroke" >264</text>
<text transform="translate(662.62,1103.54) scale(1.100,1)" font-size="21.20" text-anchor="middle" stroke="#fff" stroke-width="2.6" stroke-linejoin="round" paint-order="stroke" >429</text>
<text transform="translate(694.32,1080.65) scale(1.100,1)" font-size="21.20" text-anchor="middle" stroke="#fff" stroke-width="2.6" stroke-linejoin="round" paint-order="stroke" ><tspan dx="-1.25" letter-spacing="-0.95" textLength="8.9" lengthAdjust="spacingAndGlyphs">1</tspan>,<tspan dx="-1.25" letter-spacing="-0.95" textLength="8.9" lengthAdjust="spacingAndGlyphs">1</tspan>09</text>
<text transform="translate(727.01,985.83) scale(1.100,1)" font-size="21.20" text-anchor="middle" stroke="#fff" stroke-width="2.6" stroke-linejoin="round" paint-order="stroke" >3,<tspan dx="-1.25" letter-spacing="-0.95" textLength="8.9" lengthAdjust="spacingAndGlyphs">1</tspan><tspan dx="-1.25" letter-spacing="-0.95" textLength="8.9" lengthAdjust="spacingAndGlyphs">1</tspan>4</text>
<text transform="translate(758.72,1123.81) scale(1.100,1)" font-size="21.20" text-anchor="middle" stroke="#fff" stroke-width="2.6" stroke-linejoin="round" paint-order="stroke" ><tspan dx="-1.25" letter-spacing="-0.95" textLength="8.9" lengthAdjust="spacingAndGlyphs">1</tspan>86</text>
<text transform="translate(791.41,1049.26) scale(1.100,1)" font-size="21.20" text-anchor="middle" stroke="#fff" stroke-width="2.6" stroke-linejoin="round" paint-order="stroke" ><tspan dx="-1.25" letter-spacing="-0.95" textLength="8.9" lengthAdjust="spacingAndGlyphs">1</tspan>,527</text>
<text transform="translate(820.83,962.95) scale(1.100,1)" font-size="21.20" text-anchor="middle" stroke="#fff" stroke-width="2.6" stroke-linejoin="round" paint-order="stroke" >3,600</text>
<path d="M550.00,900.80V1154.50H841.10" stroke="#333" stroke-width="1.2" fill="none"/>
<path d="M541.20,913.90h8.8" stroke="#333" stroke-width="1.1"/>
<text transform="translate(529.80,920.40) scale(1.100,1)" font-size="21.20" text-anchor="end" >5</text>
<path d="M541.20,961.50h8.8" stroke="#333" stroke-width="1.1"/>
<text transform="translate(529.80,968.00) scale(1.100,1)" font-size="21.20" text-anchor="end" >4</text>
<path d="M541.20,1009.10h8.8" stroke="#333" stroke-width="1.1"/>
<text transform="translate(529.80,1015.60) scale(1.100,1)" font-size="21.20" text-anchor="end" >3</text>
<path d="M541.20,1056.70h8.8" stroke="#333" stroke-width="1.1"/>
<text transform="translate(529.80,1063.20) scale(1.100,1)" font-size="21.20" text-anchor="end" >2</text>
<path d="M541.20,1104.30h8.8" stroke="#333" stroke-width="1.1"/>
<text transform="translate(529.80,1110.80) scale(1.100,1)" font-size="21.20" text-anchor="end" >1</text>
<path d="M541.20,1151.60h8.8" stroke="#333" stroke-width="1.1"/>
<text transform="translate(529.80,1158.10) scale(1.100,1)" font-size="21.20" text-anchor="end" >0</text>
<text transform="translate(573.30,1168.80) rotate(-90)" font-size="21.30" text-anchor="end" textLength="37.7" lengthAdjust="spacingAndGlyphs" >PSE</text>
<text transform="translate(605.40,1168.80) rotate(-90)" font-size="21.30" text-anchor="end" textLength="37.1" lengthAdjust="spacingAndGlyphs" >SPL</text>
<text transform="translate(637.50,1168.80) rotate(-90)" font-size="21.30" text-anchor="end" textLength="60.7" lengthAdjust="spacingAndGlyphs" >NGGP</text>
<text transform="translate(669.60,1168.80) rotate(-90)" font-size="21.30" text-anchor="end" textLength="58.0" lengthAdjust="spacingAndGlyphs" >DGSR</text>
<text transform="translate(701.70,1168.80) rotate(-90)" font-size="21.30" text-anchor="end" textLength="49.9" lengthAdjust="spacingAndGlyphs" >PySR</text>
<text transform="translate(733.80,1168.80) rotate(-90)" font-size="21.30" text-anchor="end" textLength="43.6" lengthAdjust="spacingAndGlyphs" >BMS</text>
<text transform="translate(765.90,1168.80) rotate(-90)" font-size="21.30" text-anchor="end" textLength="51.1" lengthAdjust="spacingAndGlyphs" >TPSR</text>
<text transform="translate(798.00,1168.80) rotate(-90)" font-size="21.30" text-anchor="end" textLength="53.0" lengthAdjust="spacingAndGlyphs" >uDSR</text>
<text transform="translate(830.10,1168.80) rotate(-90)" font-size="21.30" text-anchor="end" textLength="76.7" lengthAdjust="spacingAndGlyphs" >Operon</text>
<text transform="translate(696.05,885.80)" font-size="24.30" text-anchor="middle" textLength="120.5" lengthAdjust="spacingAndGlyphs" >Livermore</text>
<text transform="translate(492.80,1027.65) rotate(-90)" font-size="24.60" text-anchor="middle" textLength="151.0" lengthAdjust="spacingAndGlyphs" >Time (×10<tspan font-size="17" dy="-10.5">3</tspan><tspan dy="10.5"> s)</tspan></text>
</g>
<g id="p_f">
<clipPath id="cl_f"><rect x="993.80" y="899.00" width="291.10" height="255.50"/></clipPath>
<g clip-path="url(#cl_f)">
<path d="M1010.10,1112.62l4.4,7l-4.4,7l-4.4,-7z" fill="#6b6b6b"/>
<path d="M1010.10,911.48L1013.16,920.88L1023.04,920.88L1015.04,926.69L1018.10,936.09L1010.10,930.28L1002.11,936.09L1005.16,926.69L997.17,920.88L1007.05,920.88Z" fill="#909295" fill-opacity="0.8" stroke="#2a2a2a" stroke-width="0.9" stroke-linejoin="miter"/>
<circle cx="997.68" cy="911.68" r="4.3" fill="#D6635E" stroke="#676b70" stroke-width="1.3"/>
<circle cx="1010.10" cy="911.68" r="4.3" fill="#D6635E" stroke="#676b70" stroke-width="1.3"/>
<circle cx="1022.85" cy="911.68" r="4.3" fill="#D6635E" stroke="#676b70" stroke-width="1.3"/>
<circle cx="1010.10" cy="1119.62" r="4.3" fill="#D6635E" stroke="#676b70" stroke-width="1.3"/>
<path d="M1042.47,904.68l4.4,7l-4.4,7l-4.4,-7z" fill="#6b6b6b"/>
<path d="M1042.47,1082.15L1045.52,1091.55L1055.40,1091.55L1047.41,1097.36L1050.46,1106.76L1042.47,1100.95L1034.47,1106.76L1037.53,1097.36L1029.53,1091.55L1039.41,1091.55Z" fill="#909295" fill-opacity="0.8" stroke="#2a2a2a" stroke-width="0.9" stroke-linejoin="miter"/>
<circle cx="1030.37" cy="911.68" r="4.3" fill="#B279B4" stroke="#676b70" stroke-width="1.3"/>
<circle cx="1042.47" cy="911.68" r="4.3" fill="#B279B4" stroke="#676b70" stroke-width="1.3"/>
<circle cx="1054.89" cy="911.68" r="4.3" fill="#B279B4" stroke="#676b70" stroke-width="1.3"/>
<circle cx="1029.72" cy="1142.51" r="4.3" fill="#B279B4" stroke="#676b70" stroke-width="1.3"/>
<circle cx="1042.47" cy="1142.51" r="4.3" fill="#B279B4" stroke="#676b70" stroke-width="1.3"/>
<circle cx="1054.23" cy="1142.51" r="4.3" fill="#B279B4" stroke="#676b70" stroke-width="1.3"/>
<path d="M1074.66,911.68V1142.51M1068.16,911.68h13M1068.16,1142.51h13" stroke="#8e8e8e" stroke-width="1.25" fill="none"/>
<rect x="1061.66" y="911.68" width="26.00" height="148.76" fill="#6A93BC" stroke="#808080" stroke-width="1"/>
<path d="M1074.83,962.16L1077.88,971.56L1087.76,971.56L1079.77,977.37L1082.82,986.76L1074.83,980.96L1066.84,986.76L1069.89,977.37L1061.89,971.56L1071.78,971.56Z" fill="#909295" fill-opacity="0.8" stroke="#2a2a2a" stroke-width="0.9" stroke-linejoin="miter"/>
<circle cx="1062.08" cy="911.68" r="4.3" fill="#5B91CE" stroke="#676b70" stroke-width="1.3"/>
<circle cx="1070.58" cy="913.64" r="4.3" fill="#5B91CE" stroke="#676b70" stroke-width="1.3"/>
<circle cx="1080.06" cy="914.30" r="4.3" fill="#5B91CE" stroke="#676b70" stroke-width="1.3"/>
<circle cx="1086.92" cy="911.68" r="4.3" fill="#5B91CE" stroke="#676b70" stroke-width="1.3"/>
<circle cx="1074.83" cy="922.47" r="4.3" fill="#5B91CE" stroke="#676b70" stroke-width="1.3"/>
<circle cx="1074.83" cy="1036.25" r="4.3" fill="#5B91CE" stroke="#676b70" stroke-width="1.3"/>
<circle cx="1074.83" cy="1085.29" r="4.3" fill="#5B91CE" stroke="#676b70" stroke-width="1.3"/>
<circle cx="1074.83" cy="1110.47" r="4.3" fill="#5B91CE" stroke="#676b70" stroke-width="1.3"/>
<circle cx="1062.41" cy="1142.51" r="4.3" fill="#5B91CE" stroke="#676b70" stroke-width="1.3"/>
<circle cx="1074.83" cy="1142.51" r="4.3" fill="#5B91CE" stroke="#676b70" stroke-width="1.3"/>
<rect x="1094.01" y="911.68" width="26.00" height="10.79" fill="#68ACA9" stroke="#808080" stroke-width="1"/>
<path d="M1107.19,1008.65l4.4,7l-4.4,7l-4.4,-7z" fill="#6b6b6b"/>
<path d="M1107.19,1135.51l4.4,7l-4.4,7l-4.4,-7z" fill="#6b6b6b"/>
<path d="M1107.19,939.93L1110.25,949.33L1120.13,949.33L1112.13,955.13L1115.19,964.53L1107.19,958.72L1099.20,964.53L1102.25,955.13L1094.26,949.33L1104.14,949.33Z" fill="#909295" fill-opacity="0.8" stroke="#2a2a2a" stroke-width="0.9" stroke-linejoin="miter"/>
<circle cx="1094.12" cy="911.68" r="4.3" fill="#60B7B3" stroke="#676b70" stroke-width="1.3"/>
<circle cx="1107.19" cy="912.66" r="4.3" fill="#60B7B3" stroke="#676b70" stroke-width="1.3"/>
<circle cx="1119.61" cy="911.68" r="4.3" fill="#60B7B3" stroke="#676b70" stroke-width="1.3"/>
<circle cx="1095.10" cy="922.47" r="4.3" fill="#60B7B3" stroke="#676b70" stroke-width="1.3"/>
<circle cx="1107.19" cy="922.47" r="4.3" fill="#60B7B3" stroke="#676b70" stroke-width="1.3"/>
<circle cx="1107.19" cy="1015.65" r="4.3" fill="#60B7B3" stroke="#676b70" stroke-width="1.3"/>
<circle cx="1095.10" cy="1142.51" r="4.3" fill="#60B7B3" stroke="#676b70" stroke-width="1.3"/>
<circle cx="1107.19" cy="1142.51" r="4.3" fill="#60B7B3" stroke="#676b70" stroke-width="1.3"/>
<path d="M1139.35,911.68V1142.51M1132.85,911.68h13M1132.85,1142.51h13" stroke="#8e8e8e" stroke-width="1.25" fill="none"/>
<rect x="1126.35" y="925.08" width="26.00" height="134.70" fill="#D9DBE9" stroke="#808080" stroke-width="1"/>
<path d="M1126.35,1015.65h26" stroke="#808080" stroke-width="1"/>
<path d="M1139.88,1001.07L1142.93,1010.47L1152.82,1010.47L1144.82,1016.28L1147.88,1025.67L1139.88,1019.86L1131.89,1025.67L1134.94,1016.28L1126.95,1010.47L1136.83,1010.47Z" fill="#909295" fill-opacity="0.8" stroke="#2a2a2a" stroke-width="0.9" stroke-linejoin="miter"/>
<circle cx="1126.81" cy="911.68" r="4.3" fill="#D9DBEC" stroke="#676b70" stroke-width="1.3"/>
<circle cx="1129.09" cy="919.20" r="4.3" fill="#D9DBEC" stroke="#676b70" stroke-width="1.3"/>
<circle cx="1139.88" cy="920.83" r="4.3" fill="#D9DBEC" stroke="#676b70" stroke-width="1.3"/>
<circle cx="1149.69" cy="915.28" r="4.3" fill="#D9DBEC" stroke="#676b70" stroke-width="1.3"/>
<circle cx="1139.88" cy="938.82" r="4.3" fill="#D9DBEC" stroke="#676b70" stroke-width="1.3"/>
<circle cx="1129.09" cy="974.13" r="4.3" fill="#D9DBEC" stroke="#676b70" stroke-width="1.3"/>
<circle cx="1139.88" cy="979.03" r="4.3" fill="#D9DBEC" stroke="#676b70" stroke-width="1.3"/>
<circle cx="1139.88" cy="1052.27" r="4.3" fill="#D9DBEC" stroke="#676b70" stroke-width="1.3"/>
<circle cx="1127.46" cy="1063.71" r="4.3" fill="#D9DBEC" stroke="#676b70" stroke-width="1.3"/>
<circle cx="1139.88" cy="1063.71" r="4.3" fill="#D9DBEC" stroke="#676b70" stroke-width="1.3"/>
<circle cx="1151.32" cy="1063.71" r="4.3" fill="#D9DBEC" stroke="#676b70" stroke-width="1.3"/>
<circle cx="1139.88" cy="1125.18" r="4.3" fill="#D9DBEC" stroke="#676b70" stroke-width="1.3"/>
<circle cx="1127.46" cy="1142.51" r="4.3" fill="#D9DBEC" stroke="#676b70" stroke-width="1.3"/>
<circle cx="1139.88" cy="1142.51" r="4.3" fill="#D9DBEC" stroke="#676b70" stroke-width="1.3"/>
<path d="M1171.69,915.93V1142.51M1165.19,915.93h13M1165.19,1142.51h13" stroke="#8e8e8e" stroke-width="1.25" fill="none"/>
<rect x="1158.69" y="925.08" width="26.00" height="195.19" fill="#87C1E6" stroke="#808080" stroke-width="1"/>
<path d="M1158.69,972.49h26" stroke="#808080" stroke-width="1"/>
<path d="M1171.92,1001.07L1174.97,1010.47L1184.85,1010.47L1176.86,1016.28L1179.91,1025.67L1171.92,1019.86L1163.92,1025.67L1166.98,1016.28L1158.98,1010.47L1168.86,1010.47Z" fill="#909295" fill-opacity="0.8" stroke="#2a2a2a" stroke-width="0.9" stroke-linejoin="miter"/>
<circle cx="1160.15" cy="920.83" r="4.3" fill="#76C6F7" stroke="#676b70" stroke-width="1.3"/>
<circle cx="1171.92" cy="923.12" r="4.3" fill="#76C6F7" stroke="#676b70" stroke-width="1.3"/>
<circle cx="1171.92" cy="932.93" r="4.3" fill="#76C6F7" stroke="#676b70" stroke-width="1.3"/>
<circle cx="1171.92" cy="944.37" r="4.3" fill="#76C6F7" stroke="#676b70" stroke-width="1.3"/>
<circle cx="1171.92" cy="964.97" r="4.3" fill="#76C6F7" stroke="#676b70" stroke-width="1.3"/>
<circle cx="1171.92" cy="979.69" r="4.3" fill="#76C6F7" stroke="#676b70" stroke-width="1.3"/>
<circle cx="1171.92" cy="1047.37" r="4.3" fill="#76C6F7" stroke="#676b70" stroke-width="1.3"/>
<circle cx="1171.92" cy="1112.10" r="4.3" fill="#76C6F7" stroke="#676b70" stroke-width="1.3"/>
<circle cx="1171.92" cy="1124.20" r="4.3" fill="#76C6F7" stroke="#676b70" stroke-width="1.3"/>
<circle cx="1166.03" cy="1134.01" r="4.3" fill="#76C6F7" stroke="#676b70" stroke-width="1.3"/>
<circle cx="1159.49" cy="1142.51" r="4.3" fill="#76C6F7" stroke="#676b70" stroke-width="1.3"/>
<circle cx="1171.92" cy="1142.51" r="4.3" fill="#76C6F7" stroke="#676b70" stroke-width="1.3"/>
<circle cx="1180.74" cy="919.20" r="4.3" fill="#76C6F7" stroke="#676b70" stroke-width="1.3"/>
<circle cx="1184.99" cy="915.93" r="4.3" fill="#76C6F7" stroke="#676b70" stroke-width="1.3"/>
<path d="M1204.04,911.68V1142.51M1197.54,911.68h13M1197.54,1142.51h13" stroke="#8e8e8e" stroke-width="1.25" fill="none"/>
<rect x="1191.04" y="969.22" width="26.00" height="173.29" fill="#D5BC64" stroke="#808080" stroke-width="1"/>
<path d="M1191.04,1119.62h26" stroke="#808080" stroke-width="1"/>
<path d="M1203.95,1050.11L1207.01,1059.51L1216.89,1059.51L1208.89,1065.32L1211.95,1074.72L1203.95,1068.91L1195.96,1074.72L1199.01,1065.32L1191.02,1059.51L1200.90,1059.51Z" fill="#909295" fill-opacity="0.8" stroke="#2a2a2a" stroke-width="0.9" stroke-linejoin="miter"/>
<circle cx="1192.18" cy="911.68" r="4.3" fill="#E9C857" stroke="#676b70" stroke-width="1.3"/>
<circle cx="1203.95" cy="911.68" r="4.3" fill="#E9C857" stroke="#676b70" stroke-width="1.3"/>
<circle cx="1203.95" cy="933.91" r="4.3" fill="#E9C857" stroke="#676b70" stroke-width="1.3"/>
<circle cx="1192.18" cy="969.22" r="4.3" fill="#E9C857" stroke="#676b70" stroke-width="1.3"/>
<circle cx="1203.95" cy="969.22" r="4.3" fill="#E9C857" stroke="#676b70" stroke-width="1.3"/>
<circle cx="1203.95" cy="1072.87" r="4.3" fill="#E9C857" stroke="#676b70" stroke-width="1.3"/>
<circle cx="1203.95" cy="1096.74" r="4.3" fill="#E9C857" stroke="#676b70" stroke-width="1.3"/>
<circle cx="1203.95" cy="1120.28" r="4.3" fill="#E9C857" stroke="#676b70" stroke-width="1.3"/>
<circle cx="1192.18" cy="1131.07" r="4.3" fill="#E9C857" stroke="#676b70" stroke-width="1.3"/>
<circle cx="1203.95" cy="1131.07" r="4.3" fill="#E9C857" stroke="#676b70" stroke-width="1.3"/>
<circle cx="1191.53" cy="1142.51" r="4.3" fill="#E9C857" stroke="#676b70" stroke-width="1.3"/>
<circle cx="1203.95" cy="1142.51" r="4.3" fill="#E9C857" stroke="#676b70" stroke-width="1.3"/>
<circle cx="1216.05" cy="1142.51" r="4.3" fill="#E9C857" stroke="#676b70" stroke-width="1.3"/>
<path d="M1236.38,911.68V1142.51M1229.88,911.68h13M1229.88,1142.51h13" stroke="#8e8e8e" stroke-width="1.25" fill="none"/>
<rect x="1223.38" y="934.57" width="26.00" height="207.94" fill="#84B493" stroke="#808080" stroke-width="1"/>
<path d="M1236.32,1042.92L1239.37,1052.32L1249.25,1052.32L1241.26,1058.13L1244.31,1067.52L1236.32,1061.71L1228.32,1067.52L1231.37,1058.13L1223.38,1052.32L1233.26,1052.32Z" fill="#909295" fill-opacity="0.8" stroke="#2a2a2a" stroke-width="0.9" stroke-linejoin="miter"/>
<circle cx="1224.22" cy="911.68" r="4.3" fill="#7DBB8F" stroke="#676b70" stroke-width="1.3"/>
<circle cx="1236.32" cy="911.68" r="4.3" fill="#7DBB8F" stroke="#676b70" stroke-width="1.3"/>
<circle cx="1248.41" cy="911.68" r="4.3" fill="#7DBB8F" stroke="#676b70" stroke-width="1.3"/>
<circle cx="1224.22" cy="934.57" r="4.3" fill="#7DBB8F" stroke="#676b70" stroke-width="1.3"/>
<circle cx="1236.32" cy="934.57" r="4.3" fill="#7DBB8F" stroke="#676b70" stroke-width="1.3"/>
<circle cx="1236.32" cy="969.22" r="4.3" fill="#7DBB8F" stroke="#676b70" stroke-width="1.3"/>
<circle cx="1236.32" cy="1131.07" r="4.3" fill="#7DBB8F" stroke="#676b70" stroke-width="1.3"/>
<circle cx="1223.24" cy="1142.51" r="4.3" fill="#7DBB8F" stroke="#676b70" stroke-width="1.3"/>
<circle cx="1236.32" cy="1142.51" r="4.3" fill="#7DBB8F" stroke="#676b70" stroke-width="1.3"/>
<circle cx="1248.41" cy="1142.51" r="4.3" fill="#7DBB8F" stroke="#676b70" stroke-width="1.3"/>
<path d="M1269.00,1078.29l4.4,7l-4.4,7l-4.4,-7z" fill="#6b6b6b"/>
<path d="M1269.00,1121.39L1272.06,1130.79L1281.94,1130.79L1273.94,1136.59L1277.00,1145.99L1269.00,1140.18L1261.01,1145.99L1264.06,1136.59L1256.07,1130.79L1265.95,1130.79Z" fill="#909295" fill-opacity="0.8" stroke="#2a2a2a" stroke-width="0.9" stroke-linejoin="miter"/>
<circle cx="1269.00" cy="1085.29" r="4.3" fill="#EC9BF6" stroke="#676b70" stroke-width="1.3"/>
<circle cx="1256.91" cy="1131.07" r="4.3" fill="#EC9BF6" stroke="#676b70" stroke-width="1.3"/>
<circle cx="1269.00" cy="1131.07" r="4.3" fill="#EC9BF6" stroke="#676b70" stroke-width="1.3"/>
<circle cx="1281.10" cy="1131.07" r="4.3" fill="#EC9BF6" stroke="#676b70" stroke-width="1.3"/>
<circle cx="1255.93" cy="1142.51" r="4.3" fill="#EC9BF6" stroke="#676b70" stroke-width="1.3"/>
<circle cx="1269.00" cy="1142.51" r="4.3" fill="#EC9BF6" stroke="#676b70" stroke-width="1.3"/>
<circle cx="1281.10" cy="1142.51" r="4.3" fill="#EC9BF6" stroke="#676b70" stroke-width="1.3"/>
</g>
<text transform="translate(1010.10,954.44) scale(1.100,1)" font-size="21.20" text-anchor="middle" stroke="#fff" stroke-width="2.6" stroke-linejoin="round" paint-order="stroke" >94</text>
<text transform="translate(1042.47,1125.44) scale(1.100,1)" font-size="21.20" text-anchor="middle" stroke="#fff" stroke-width="2.6" stroke-linejoin="round" paint-order="stroke" >20</text>
<text transform="translate(1074.83,1005.45) scale(1.100,1)" font-size="21.20" text-anchor="middle" stroke="#fff" stroke-width="2.6" stroke-linejoin="round" paint-order="stroke" >72</text>
<text transform="translate(1107.19,983.22) scale(1.100,1)" font-size="21.20" text-anchor="middle" stroke="#fff" stroke-width="2.6" stroke-linejoin="round" paint-order="stroke" >82</text>
<text transform="translate(1139.88,1044.36) scale(1.100,1)" font-size="21.20" text-anchor="middle" stroke="#fff" stroke-width="2.6" stroke-linejoin="round" paint-order="stroke" >55</text>
<text transform="translate(1171.92,1044.36) scale(1.100,1)" font-size="21.20" text-anchor="middle" stroke="#fff" stroke-width="2.6" stroke-linejoin="round" paint-order="stroke" >55</text>
<text transform="translate(1203.95,1093.40) scale(1.100,1)" font-size="21.20" text-anchor="middle" stroke="#fff" stroke-width="2.6" stroke-linejoin="round" paint-order="stroke" >34</text>
<text transform="translate(1235.33,1084.57) scale(1.100,1)" font-size="21.20" text-anchor="middle" stroke="#fff" stroke-width="2.6" stroke-linejoin="round" paint-order="stroke" >37</text>
<text transform="translate(1269.00,1119.56) scale(1.100,1)" font-size="21.20" text-anchor="middle" stroke="#fff" stroke-width="2.6" stroke-linejoin="round" paint-order="stroke" >3</text>
<path d="M993.80,900.80V1154.50H1284.90" stroke="#333" stroke-width="1.2" fill="none"/>
<path d="M985.00,911.50h8.8" stroke="#333" stroke-width="1.1"/>
<text transform="translate(974.80,918.00) scale(1.100,1)" font-size="21.20" text-anchor="end" >100</text>
<path d="M985.00,957.80h8.8" stroke="#333" stroke-width="1.1"/>
<text transform="translate(974.80,964.30) scale(1.100,1)" font-size="21.20" text-anchor="end" >80</text>
<path d="M985.00,1004.10h8.8" stroke="#333" stroke-width="1.1"/>
<text transform="translate(974.80,1010.60) scale(1.100,1)" font-size="21.20" text-anchor="end" >60</text>
<path d="M985.00,1050.40h8.8" stroke="#333" stroke-width="1.1"/>
<text transform="translate(974.80,1056.90) scale(1.100,1)" font-size="21.20" text-anchor="end" >40</text>
<path d="M985.00,1096.70h8.8" stroke="#333" stroke-width="1.1"/>
<text transform="translate(974.80,1103.20) scale(1.100,1)" font-size="21.20" text-anchor="end" >20</text>
<path d="M985.00,1143.00h8.8" stroke="#333" stroke-width="1.1"/>
<text transform="translate(974.80,1149.50) scale(1.100,1)" font-size="21.20" text-anchor="end" >0</text>
<text transform="translate(1022.20,1168.80) rotate(-90)" font-size="21.30" text-anchor="end" textLength="37.7" lengthAdjust="spacingAndGlyphs" >PSE</text>
<text transform="translate(1053.97,1168.80) rotate(-90)" font-size="21.30" text-anchor="end" textLength="37.1" lengthAdjust="spacingAndGlyphs" >SPL</text>
<text transform="translate(1085.75,1168.80) rotate(-90)" font-size="21.30" text-anchor="end" textLength="60.7" lengthAdjust="spacingAndGlyphs" >NGGP</text>
<text transform="translate(1117.52,1168.80) rotate(-90)" font-size="21.30" text-anchor="end" textLength="58.0" lengthAdjust="spacingAndGlyphs" >DGSR</text>
<text transform="translate(1149.30,1168.80) rotate(-90)" font-size="21.30" text-anchor="end" textLength="49.9" lengthAdjust="spacingAndGlyphs" >PySR</text>
<text transform="translate(1181.07,1168.80) rotate(-90)" font-size="21.30" text-anchor="end" textLength="43.6" lengthAdjust="spacingAndGlyphs" >BMS</text>
<text transform="translate(1212.85,1168.80) rotate(-90)" font-size="21.30" text-anchor="end" textLength="51.1" lengthAdjust="spacingAndGlyphs" >TPSR</text>
<text transform="translate(1244.62,1168.80) rotate(-90)" font-size="21.30" text-anchor="end" textLength="53.0" lengthAdjust="spacingAndGlyphs" >uDSR</text>
<text transform="translate(1276.40,1168.80) rotate(-90)" font-size="21.30" text-anchor="end" textLength="76.7" lengthAdjust="spacingAndGlyphs" >Operon</text>
<text transform="translate(1139.85,885.80)" font-size="24.30" text-anchor="middle" textLength="108.5" lengthAdjust="spacingAndGlyphs" >Feynman</text>
<text transform="translate(918.80,1024.95) rotate(-90)" font-size="24.60" text-anchor="middle" textLength="211.5" lengthAdjust="spacingAndGlyphs" >Recovery rate (%)</text>
<text transform="translate(897.40,886.10) scale(1.100,1)" font-size="35.50" text-anchor="start" font-weight="bold" stroke="#000" stroke-width="1.1">f</text>
</g>
<g id="p_f2">
<clipPath id="cl_f2"><rect x="1420.00" y="899.00" width="291.10" height="255.50"/></clipPath>
<g clip-path="url(#cl_f2)">
<path d="M1436.03,993.28l4.4,7l-4.4,7l-4.4,-7z" fill="#6b6b6b"/>
<path d="M1436.03,1118.12L1439.08,1127.52L1448.96,1127.52L1440.97,1133.32L1444.02,1142.72L1436.03,1136.91L1428.03,1142.72L1431.09,1133.32L1423.09,1127.52L1432.97,1127.52Z" fill="#909295" fill-opacity="0.8" stroke="#2a2a2a" stroke-width="0.9" stroke-linejoin="miter"/>
<circle cx="1436.03" cy="1000.28" r="4.3" fill="#D6635E" stroke="#676b70" stroke-width="1.3"/>
<circle cx="1436.03" cy="1120.93" r="4.3" fill="#D6635E" stroke="#676b70" stroke-width="1.3"/>
<circle cx="1423.93" cy="1142.18" r="4.3" fill="#D6635E" stroke="#676b70" stroke-width="1.3"/>
<circle cx="1436.03" cy="1142.18" r="4.3" fill="#D6635E" stroke="#676b70" stroke-width="1.3"/>
<circle cx="1448.12" cy="1140.87" r="4.3" fill="#D6635E" stroke="#676b70" stroke-width="1.3"/>
<path d="M1468.52,1114.39V1140.87M1462.02,1114.39h13M1462.02,1140.87h13" stroke="#8e8e8e" stroke-width="1.25" fill="none"/>
<path d="M1468.72,1134.53l4.4,7l-4.4,7l-4.4,-7z" fill="#6b6b6b"/>
<path d="M1468.72,1108.31L1471.77,1117.71L1481.65,1117.71L1473.66,1123.52L1476.71,1132.91L1468.72,1127.11L1460.72,1132.91L1463.78,1123.52L1455.78,1117.71L1465.66,1117.71Z" fill="#909295" fill-opacity="0.8" stroke="#2a2a2a" stroke-width="0.9" stroke-linejoin="miter"/>
<circle cx="1456.29" cy="1116.03" r="4.3" fill="#B279B4" stroke="#676b70" stroke-width="1.3"/>
<circle cx="1481.14" cy="1114.72" r="4.3" fill="#B279B4" stroke="#676b70" stroke-width="1.3"/>
<circle cx="1468.72" cy="1119.62" r="4.3" fill="#B279B4" stroke="#676b70" stroke-width="1.3"/>
<circle cx="1456.29" cy="1140.87" r="4.3" fill="#B279B4" stroke="#676b70" stroke-width="1.3"/>
<circle cx="1468.72" cy="1141.53" r="4.3" fill="#B279B4" stroke="#676b70" stroke-width="1.3"/>
<circle cx="1480.16" cy="1140.87" r="4.3" fill="#B279B4" stroke="#676b70" stroke-width="1.3"/>
<path d="M1500.86,1122.56V1141.53M1494.36,1122.56h13M1494.36,1141.53h13" stroke="#8e8e8e" stroke-width="1.25" fill="none"/>
<path d="M1500.75,1123.02L1503.81,1132.42L1513.69,1132.42L1505.69,1138.23L1508.75,1147.63L1500.75,1141.82L1492.76,1147.63L1495.81,1138.23L1487.82,1132.42L1497.70,1132.42Z" fill="#909295" fill-opacity="0.8" stroke="#2a2a2a" stroke-width="0.9" stroke-linejoin="miter"/>
<circle cx="1488.33" cy="1125.18" r="4.3" fill="#5B91CE" stroke="#676b70" stroke-width="1.3"/>
<circle cx="1500.75" cy="1129.10" r="4.3" fill="#5B91CE" stroke="#676b70" stroke-width="1.3"/>
<circle cx="1512.85" cy="1123.55" r="4.3" fill="#5B91CE" stroke="#676b70" stroke-width="1.3"/>
<circle cx="1488.33" cy="1133.35" r="4.3" fill="#5B91CE" stroke="#676b70" stroke-width="1.3"/>
<circle cx="1512.85" cy="1131.72" r="4.3" fill="#5B91CE" stroke="#676b70" stroke-width="1.3"/>
<circle cx="1488.33" cy="1139.89" r="4.3" fill="#5B91CE" stroke="#676b70" stroke-width="1.3"/>
<circle cx="1500.75" cy="1141.53" r="4.3" fill="#5B91CE" stroke="#676b70" stroke-width="1.3"/>
<circle cx="1512.85" cy="1139.89" r="4.3" fill="#5B91CE" stroke="#676b70" stroke-width="1.3"/>
<path d="M1533.11,1125.31L1536.17,1134.71L1546.05,1134.71L1538.05,1140.52L1541.11,1149.91L1533.11,1144.11L1525.12,1149.91L1528.17,1140.52L1520.18,1134.71L1530.06,1134.71Z" fill="#909295" fill-opacity="0.8" stroke="#2a2a2a" stroke-width="0.9" stroke-linejoin="miter"/>
<circle cx="1522.00" cy="1123.55" r="4.3" fill="#60B7B3" stroke="#676b70" stroke-width="1.3"/>
<circle cx="1533.11" cy="1125.83" r="4.3" fill="#60B7B3" stroke="#676b70" stroke-width="1.3"/>
<circle cx="1543.90" cy="1123.55" r="4.3" fill="#60B7B3" stroke="#676b70" stroke-width="1.3"/>
<circle cx="1520.37" cy="1134.99" r="4.3" fill="#60B7B3" stroke="#676b70" stroke-width="1.3"/>
<circle cx="1545.54" cy="1134.33" r="4.3" fill="#60B7B3" stroke="#676b70" stroke-width="1.3"/>
<circle cx="1520.37" cy="1141.53" r="4.3" fill="#60B7B3" stroke="#676b70" stroke-width="1.3"/>
<circle cx="1533.11" cy="1142.18" r="4.3" fill="#60B7B3" stroke="#676b70" stroke-width="1.3"/>
<circle cx="1545.54" cy="1141.53" r="4.3" fill="#60B7B3" stroke="#676b70" stroke-width="1.3"/>
<path d="M1565.55,911.68V1142.18M1559.05,911.68h13M1559.05,1142.18h13" stroke="#8e8e8e" stroke-width="1.25" fill="none"/>
<rect x="1552.55" y="1023.82" width="26.00" height="118.36" fill="#D9DBE9" stroke="#808080" stroke-width="1"/>
<path d="M1552.55,1079.41h26" stroke="#808080" stroke-width="1"/>
<path d="M1565.80,1064.17L1568.86,1073.57L1578.74,1073.57L1570.74,1079.38L1573.80,1088.77L1565.80,1082.97L1557.81,1088.77L1560.86,1079.38L1552.87,1073.57L1562.75,1073.57Z" fill="#909295" fill-opacity="0.8" stroke="#2a2a2a" stroke-width="0.9" stroke-linejoin="miter"/>
<circle cx="1565.80" cy="911.68" r="4.3" fill="#D9DBEC" stroke="#676b70" stroke-width="1.3"/>
<circle cx="1556.98" cy="1004.21" r="4.3" fill="#D9DBEC" stroke="#676b70" stroke-width="1.3"/>
<circle cx="1568.42" cy="1001.59" r="4.3" fill="#D9DBEC" stroke="#676b70" stroke-width="1.3"/>
<circle cx="1565.80" cy="1011.73" r="4.3" fill="#D9DBEC" stroke="#676b70" stroke-width="1.3"/>
<circle cx="1565.80" cy="1061.42" r="4.3" fill="#D9DBEC" stroke="#676b70" stroke-width="1.3"/>
<circle cx="1554.36" cy="1068.94" r="4.3" fill="#D9DBEC" stroke="#676b70" stroke-width="1.3"/>
<circle cx="1565.80" cy="1071.89" r="4.3" fill="#D9DBEC" stroke="#676b70" stroke-width="1.3"/>
<circle cx="1565.80" cy="1088.56" r="4.3" fill="#D9DBEC" stroke="#676b70" stroke-width="1.3"/>
<circle cx="1553.05" cy="1138.26" r="4.3" fill="#D9DBEC" stroke="#676b70" stroke-width="1.3"/>
<circle cx="1565.80" cy="1142.18" r="4.3" fill="#D9DBEC" stroke="#676b70" stroke-width="1.3"/>
<circle cx="1577.57" cy="1140.87" r="4.3" fill="#D9DBEC" stroke="#676b70" stroke-width="1.3"/>
<path d="M1597.89,1006.50V1136.62M1591.39,1006.50h13M1591.39,1136.62h13" stroke="#8e8e8e" stroke-width="1.25" fill="none"/>
<rect x="1584.89" y="1066.33" width="26.00" height="65.39" fill="#87C1E6" stroke="#808080" stroke-width="1"/>
<path d="M1597.84,1080.52L1600.89,1089.92L1610.77,1089.92L1602.78,1095.72L1605.83,1105.12L1597.84,1099.31L1589.85,1105.12L1592.90,1095.72L1584.91,1089.92L1594.79,1089.92Z" fill="#909295" fill-opacity="0.8" stroke="#2a2a2a" stroke-width="0.9" stroke-linejoin="miter"/>
<circle cx="1597.84" cy="1006.50" r="4.3" fill="#76C6F7" stroke="#676b70" stroke-width="1.3"/>
<circle cx="1597.84" cy="1039.52" r="4.3" fill="#76C6F7" stroke="#676b70" stroke-width="1.3"/>
<circle cx="1607.65" cy="1059.79" r="4.3" fill="#76C6F7" stroke="#676b70" stroke-width="1.3"/>
<circle cx="1600.45" cy="1072.87" r="4.3" fill="#76C6F7" stroke="#676b70" stroke-width="1.3"/>
<circle cx="1587.05" cy="1078.75" r="4.3" fill="#76C6F7" stroke="#676b70" stroke-width="1.3"/>
<circle cx="1597.84" cy="1092.48" r="4.3" fill="#76C6F7" stroke="#676b70" stroke-width="1.3"/>
<circle cx="1597.84" cy="1100.66" r="4.3" fill="#76C6F7" stroke="#676b70" stroke-width="1.3"/>
<circle cx="1597.84" cy="1114.72" r="4.3" fill="#76C6F7" stroke="#676b70" stroke-width="1.3"/>
<circle cx="1585.74" cy="1131.72" r="4.3" fill="#76C6F7" stroke="#676b70" stroke-width="1.3"/>
<circle cx="1597.84" cy="1137.28" r="4.3" fill="#76C6F7" stroke="#676b70" stroke-width="1.3"/>
<circle cx="1609.28" cy="1134.01" r="4.3" fill="#76C6F7" stroke="#676b70" stroke-width="1.3"/>
<circle cx="1586.40" cy="1135.97" r="4.3" fill="#76C6F7" stroke="#676b70" stroke-width="1.3"/>
<path d="M1629.88,1122.37L1632.93,1131.77L1642.81,1131.77L1634.82,1137.57L1637.87,1146.97L1629.88,1141.16L1621.88,1146.97L1624.93,1137.57L1616.94,1131.77L1626.82,1131.77Z" fill="#909295" fill-opacity="0.8" stroke="#2a2a2a" stroke-width="0.9" stroke-linejoin="miter"/>
<circle cx="1617.45" cy="1132.37" r="4.3" fill="#E9C857" stroke="#676b70" stroke-width="1.3"/>
<circle cx="1629.88" cy="1132.37" r="4.3" fill="#E9C857" stroke="#676b70" stroke-width="1.3"/>
<circle cx="1642.95" cy="1124.53" r="4.3" fill="#E9C857" stroke="#676b70" stroke-width="1.3"/>
<circle cx="1617.45" cy="1138.26" r="4.3" fill="#E9C857" stroke="#676b70" stroke-width="1.3"/>
<circle cx="1642.95" cy="1134.33" r="4.3" fill="#E9C857" stroke="#676b70" stroke-width="1.3"/>
<circle cx="1617.45" cy="1142.18" r="4.3" fill="#E9C857" stroke="#676b70" stroke-width="1.3"/>
<circle cx="1629.88" cy="1142.18" r="4.3" fill="#E9C857" stroke="#676b70" stroke-width="1.3"/>
<circle cx="1642.95" cy="1141.53" r="4.3" fill="#E9C857" stroke="#676b70" stroke-width="1.3"/>
<path d="M1662.58,1103.93V1142.18M1656.08,1103.93h13M1656.08,1142.18h13" stroke="#8e8e8e" stroke-width="1.25" fill="none"/>
<rect x="1649.58" y="1103.93" width="26.00" height="17.98" fill="#84B493" stroke="#808080" stroke-width="1"/>
<path d="M1662.24,1100.14L1665.29,1109.53L1675.17,1109.53L1667.18,1115.34L1670.23,1124.74L1662.24,1118.93L1654.24,1124.74L1657.30,1115.34L1649.30,1109.53L1659.18,1109.53Z" fill="#909295" fill-opacity="0.8" stroke="#2a2a2a" stroke-width="0.9" stroke-linejoin="miter"/>
<circle cx="1651.12" cy="1103.93" r="4.3" fill="#7DBB8F" stroke="#676b70" stroke-width="1.3"/>
<circle cx="1676.29" cy="1103.93" r="4.3" fill="#7DBB8F" stroke="#676b70" stroke-width="1.3"/>
<circle cx="1655.05" cy="1105.56" r="4.3" fill="#7DBB8F" stroke="#676b70" stroke-width="1.3"/>
<circle cx="1671.39" cy="1105.56" r="4.3" fill="#7DBB8F" stroke="#676b70" stroke-width="1.3"/>
<circle cx="1651.12" cy="1119.62" r="4.3" fill="#7DBB8F" stroke="#676b70" stroke-width="1.3"/>
<circle cx="1662.24" cy="1122.89" r="4.3" fill="#7DBB8F" stroke="#676b70" stroke-width="1.3"/>
<circle cx="1672.37" cy="1116.35" r="4.3" fill="#7DBB8F" stroke="#676b70" stroke-width="1.3"/>
<circle cx="1662.24" cy="1113.74" r="4.3" fill="#7DBB8F" stroke="#676b70" stroke-width="1.3"/>
<circle cx="1651.12" cy="1141.53" r="4.3" fill="#7DBB8F" stroke="#676b70" stroke-width="1.3"/>
<circle cx="1662.24" cy="1142.18" r="4.3" fill="#7DBB8F" stroke="#676b70" stroke-width="1.3"/>
<circle cx="1674.01" cy="1141.53" r="4.3" fill="#7DBB8F" stroke="#676b70" stroke-width="1.3"/>
<path d="M1694.93,1052.73L1697.98,1062.13L1707.86,1062.13L1699.87,1067.93L1702.92,1077.33L1694.93,1071.52L1686.93,1077.33L1689.99,1067.93L1681.99,1062.13L1691.87,1062.13Z" fill="#909295" fill-opacity="0.8" stroke="#2a2a2a" stroke-width="0.9" stroke-linejoin="miter"/>
<circle cx="1682.18" cy="1065.35" r="4.3" fill="#EC9BF6" stroke="#676b70" stroke-width="1.3"/>
<circle cx="1694.93" cy="1065.35" r="4.3" fill="#EC9BF6" stroke="#676b70" stroke-width="1.3"/>
<circle cx="1707.35" cy="1065.35" r="4.3" fill="#EC9BF6" stroke="#676b70" stroke-width="1.3"/>
</g>
<text transform="translate(1437.01,1114.00) scale(1.100,1)" font-size="21.20" text-anchor="middle" stroke="#fff" stroke-width="2.6" stroke-linejoin="round" paint-order="stroke" >525</text>
<text transform="translate(1468.06,1086.21) scale(1.100,1)" font-size="21.20" text-anchor="middle" stroke="#fff" stroke-width="2.6" stroke-linejoin="round" paint-order="stroke" >963</text>
<text transform="translate(1500.75,1104.19) scale(1.100,1)" font-size="21.20" text-anchor="middle" stroke="#fff" stroke-width="2.6" stroke-linejoin="round" paint-order="stroke" >32<tspan dx="-1.25" letter-spacing="-0.95" textLength="8.9" lengthAdjust="spacingAndGlyphs">1</tspan></text>
<text transform="translate(1534.10,1121.52) scale(1.100,1)" font-size="21.20" text-anchor="middle" stroke="#fff" stroke-width="2.6" stroke-linejoin="round" paint-order="stroke" >244</text>
<text transform="translate(1566.78,1036.51) scale(1.100,1)" font-size="21.20" text-anchor="middle" stroke="#fff" stroke-width="2.6" stroke-linejoin="round" paint-order="stroke" >3,075</text>
<text transform="translate(1599.47,1063.32) scale(1.100,1)" font-size="21.20" text-anchor="middle" stroke="#fff" stroke-width="2.6" stroke-linejoin="round" paint-order="stroke" >2,329</text>
<text transform="translate(1629.88,1116.61) scale(1.100,1)" font-size="21.20" text-anchor="middle" stroke="#fff" stroke-width="2.6" stroke-linejoin="round" paint-order="stroke" >274</text>
<text transform="translate(1662.24,1091.11) scale(1.100,1)" font-size="21.20" text-anchor="middle" stroke="#fff" stroke-width="2.6" stroke-linejoin="round" paint-order="stroke" ><tspan dx="-1.25" letter-spacing="-0.95" textLength="8.9" lengthAdjust="spacingAndGlyphs">1</tspan>,273</text>
<text transform="translate(1695.91,1048.61) scale(1.100,1)" font-size="21.20" text-anchor="middle" stroke="#fff" stroke-width="2.6" stroke-linejoin="round" paint-order="stroke" >3,600</text>
<path d="M1420.00,900.80V1154.50H1711.10" stroke="#333" stroke-width="1.2" fill="none"/>
<path d="M1411.20,926.50h8.8" stroke="#333" stroke-width="1.1"/>
<text transform="translate(1400.70,933.00) scale(1.100,1)" font-size="21.20" text-anchor="end" >1.0</text>
<path d="M1411.20,969.70h8.8" stroke="#333" stroke-width="1.1"/>
<text transform="translate(1400.70,976.20) scale(1.100,1)" font-size="21.20" text-anchor="end" >0.8</text>
<path d="M1411.20,1013.00h8.8" stroke="#333" stroke-width="1.1"/>
<text transform="translate(1400.70,1019.50) scale(1.100,1)" font-size="21.20" text-anchor="end" >0.6</text>
<path d="M1411.20,1056.30h8.8" stroke="#333" stroke-width="1.1"/>
<text transform="translate(1400.70,1062.80) scale(1.100,1)" font-size="21.20" text-anchor="end" >0.4</text>
<path d="M1411.20,1099.50h8.8" stroke="#333" stroke-width="1.1"/>
<text transform="translate(1400.70,1106.00) scale(1.100,1)" font-size="21.20" text-anchor="end" >0.2</text>
<path d="M1411.20,1142.80h8.8" stroke="#333" stroke-width="1.1"/>
<text transform="translate(1400.70,1149.30) scale(1.100,1)" font-size="21.20" text-anchor="end" >0</text>
<text transform="translate(1443.70,1168.80) rotate(-90)" font-size="21.30" text-anchor="end" textLength="37.7" lengthAdjust="spacingAndGlyphs" >PSE</text>
<text transform="translate(1476.11,1168.80) rotate(-90)" font-size="21.30" text-anchor="end" textLength="37.1" lengthAdjust="spacingAndGlyphs" >SPL</text>
<text transform="translate(1508.52,1168.80) rotate(-90)" font-size="21.30" text-anchor="end" textLength="60.7" lengthAdjust="spacingAndGlyphs" >NGGP</text>
<text transform="translate(1540.94,1168.80) rotate(-90)" font-size="21.30" text-anchor="end" textLength="58.0" lengthAdjust="spacingAndGlyphs" >DGSR</text>
<text transform="translate(1573.35,1168.80) rotate(-90)" font-size="21.30" text-anchor="end" textLength="49.9" lengthAdjust="spacingAndGlyphs" >PySR</text>
<text transform="translate(1605.76,1168.80) rotate(-90)" font-size="21.30" text-anchor="end" textLength="43.6" lengthAdjust="spacingAndGlyphs" >BMS</text>
<text transform="translate(1638.17,1168.80) rotate(-90)" font-size="21.30" text-anchor="end" textLength="51.1" lengthAdjust="spacingAndGlyphs" >TPSR</text>
<text transform="translate(1670.59,1168.80) rotate(-90)" font-size="21.30" text-anchor="end" textLength="53.0" lengthAdjust="spacingAndGlyphs" >uDSR</text>
<text transform="translate(1703.00,1168.80) rotate(-90)" font-size="21.30" text-anchor="end" textLength="76.7" lengthAdjust="spacingAndGlyphs" >Operon</text>
<text transform="translate(1566.05,885.80)" font-size="24.30" text-anchor="middle" textLength="108.5" lengthAdjust="spacingAndGlyphs" >Feynman</text>
<text transform="translate(1343.40,1027.65) rotate(-90)" font-size="24.60" text-anchor="middle" textLength="151.0" lengthAdjust="spacingAndGlyphs" >Time (×10<tspan font-size="17" dy="-10.5">4</tspan><tspan dy="10.5"> s)</tspan></text>
</g>
</svg>
</body></html>
